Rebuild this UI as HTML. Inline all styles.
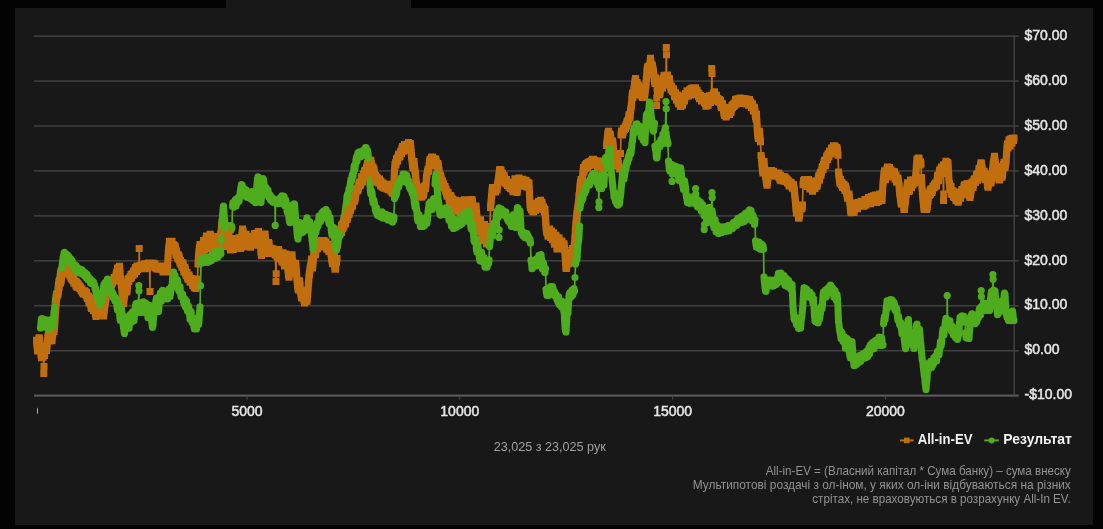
<!DOCTYPE html>
<html lang="uk"><head><meta charset="utf-8"><title>All-in-EV</title>
<style>
html,body{margin:0;padding:0;background:#030303;}
body{width:1103px;height:529px;overflow:hidden;position:relative;font-family:"Liberation Sans","DejaVu Sans",sans-serif;}
#panel{position:absolute;left:15px;top:8px;width:1078px;height:517px;background:#181818;}
#tab{position:absolute;left:226px;top:0;width:184.5px;height:9px;background:#181818;}
svg{position:absolute;left:0;top:0;font-family:"Liberation Sans","DejaVu Sans",sans-serif;will-change:transform;}
.ax{font-size:14px;fill:#e6e6e6;stroke:#e6e6e6;stroke-width:0.5px;paint-order:stroke;}
.lg{font-size:14.1px;fill:#f2f2f2;font-weight:bold;}
.cap{font-size:13px;fill:#a0a0a0;}
.note{font-size:13.1px;fill:#929292;}
</style></head><body>
<div id="panel"></div><div id="tab"></div>
<svg width="1103" height="529" viewBox="0 0 1103 529">
<defs><clipPath id="zc"><rect x="34" y="400" width="3.9" height="20"/></clipPath></defs>
<g id="grid">
<rect x="34" y="35.42" width="984.7" height="1.4" fill="#444"/>
<rect x="34" y="80.36" width="984.7" height="1.4" fill="#444"/>
<rect x="34" y="125.30" width="984.7" height="1.4" fill="#444"/>
<rect x="34" y="170.24" width="984.7" height="1.4" fill="#444"/>
<rect x="34" y="215.18" width="984.7" height="1.4" fill="#444"/>
<rect x="34" y="260.12" width="984.7" height="1.4" fill="#444"/>
<rect x="34" y="305.06" width="984.7" height="1.4" fill="#444"/>
<rect x="34" y="350.00" width="984.7" height="1.4" fill="#444"/>
<rect x="34" y="394.6" width="984.7" height="2" fill="#5c5c5c"/>
<rect x="1013.5" y="35.4" width="1.3" height="360" fill="#464646"/>
</g>
<g id="xaxis">
<rect x="246.50" y="396.4" width="1" height="3.2" fill="#4c4c4c"/>
<text class="ax" x="247.0" y="416" text-anchor="middle">5000</text>
<rect x="459.30" y="396.4" width="1" height="3.2" fill="#4c4c4c"/>
<text class="ax" x="459.8" y="416" text-anchor="middle">10000</text>
<rect x="672.10" y="396.4" width="1" height="3.2" fill="#4c4c4c"/>
<text class="ax" x="672.6" y="416" text-anchor="middle">15000</text>
<rect x="884.90" y="396.4" width="1" height="3.2" fill="#4c4c4c"/>
<text class="ax" x="885.4" y="416" text-anchor="middle">20000</text>
<text class="ax" x="37" y="416" clip-path="url(#zc)">0</text>
</g>
<g id="yaxis">
<text class="ax" x="1024.5" y="40.2">$70.00</text>
<text class="ax" x="1024.5" y="85.1">$60.00</text>
<text class="ax" x="1024.5" y="129.9">$50.00</text>
<text class="ax" x="1024.5" y="174.8">$40.00</text>
<text class="ax" x="1024.5" y="219.7">$30.00</text>
<text class="ax" x="1024.5" y="264.6">$20.00</text>
<text class="ax" x="1024.5" y="309.4">$10.00</text>
<text class="ax" x="1024.5" y="354.3">$0.00</text>
<text class="ax" x="1024.5" y="399.2">-$10.00</text>
</g>
<g id="series">
<path d="M55.0 305.1L55.5 299.2L56.0 296.0L56.5 292.8L57.0 297.9L57.5 294.3L58.0 288.7L58.5 283.5L59.0 279.7L59.5 280.0L60.0 277.2L60.5 271.6L61.0 269.5L61.5 272.1L62.0 267.9M172.5 279.2L173.0 273.0L173.5 272.1L174.0 276.4L174.5 278.2L175.0 275.4L175.5 280.8L176.0 283.6L176.5 284.6L177.0 279.6L177.5 280.3L178.0 284.0L178.5 289.6L179.0 290.9L179.5 287.1L180.0 286.5L180.5 293.0L181.0 296.4L181.5 296.5L182.0 293.9L182.5 294.0L183.0 297.7L183.5 301.2L184.0 303.7L184.5 298.6L185.0 300.3L185.5 307.1L186.0 305.9L186.5 301.0L187.0 307.5L187.5 311.1L188.0 308.6L188.5 306.0M225.5 229.5L226.0 225.9L226.5 225.9L227.0 229.8L227.5 229.1L228.0 225.5L228.5 227.0L229.0 230.5L229.5 230.7L230.0 226.3L230.5 225.7L231.0 230.2L231.5 226.1L232.0 227.8L232.5 206.3M340.5 232.2L341.0 229.3L341.5 223.9L342.0 223.3L342.5 225.9L343.0 224.4L343.5 220.3L344.0 216.7L344.5 217.1L345.0 213.2L345.5 208.8L346.0 205.3L346.5 202.5M368.5 160.5L369.0 172.5L369.5 178.9L370.0 185.6L370.5 192.3L371.0 194.2L371.5 191.2L372.0 192.7L372.5 198.9L373.0 202.7L373.5 199.7L374.0 200.6L374.5 204.0L375.0 206.6L375.5 210.3" fill="none" stroke="#4fad1d" stroke-width="1.7" stroke-linecap="round"/>
<path d="M55.0 305.1h0M55.2 302.1h0M55.5 299.2h0M55.8 297.6h0M56.0 296.0h0M56.2 294.4h0M56.5 292.8h0M56.8 295.3h0M57.0 297.9h0M57.2 296.1h0M57.5 294.3h0M57.8 291.5h0M58.0 288.7h0M58.2 286.1h0M58.5 283.5h0M58.8 281.6h0M59.0 279.7h0M59.5 280.0h0M60.0 277.2h0M60.2 274.4h0M60.5 271.6h0M61.0 269.5h0M61.5 272.1h0M61.8 270.0h0M172.5 279.2h0M172.7 277.2h0M172.8 275.1h0M173.0 273.0h0M173.5 272.1h0M173.8 274.3h0M174.0 276.4h0M174.5 278.2h0M175.0 275.4h0M175.2 278.1h0M175.5 280.8h0M176.0 283.6h0M176.5 284.6h0M176.8 282.1h0M177.0 279.6h0M177.5 280.3h0M177.8 282.2h0M178.0 284.0h0M178.2 286.8h0M178.5 289.6h0M179.0 290.9h0M179.2 289.0h0M179.5 287.1h0M180.0 286.5h0M180.2 288.7h0M180.3 290.9h0M180.5 293.0h0M180.8 294.7h0M181.0 296.4h0M181.5 296.5h0M182.0 293.9h0M182.5 294.0h0M182.8 295.9h0M183.0 297.7h0M183.2 299.4h0M183.5 301.2h0M184.0 303.7h0M184.2 301.1h0M184.5 298.6h0M185.0 300.3h0M185.2 302.6h0M185.3 304.8h0M185.5 307.1h0M186.0 305.9h0M186.2 303.5h0M186.5 301.0h0M186.7 303.2h0M186.8 305.3h0M187.0 307.5h0M187.2 309.3h0M187.5 311.1h0M188.0 308.6h0M225.5 229.5h0M225.8 227.7h0M226.0 225.9h0M226.5 225.9h0M226.8 227.8h0M227.0 229.8h0M227.5 229.1h0M227.8 227.3h0M228.0 225.5h0M228.5 227.0h0M228.8 228.8h0M229.0 230.5h0M229.5 230.7h0M229.8 228.5h0M230.0 226.3h0M230.5 225.7h0M230.8 227.9h0M231.0 230.2h0M231.2 228.2h0M231.5 226.1h0M232.0 227.8h0M340.5 232.2h0M341.0 229.3h0M341.2 226.6h0M341.5 223.9h0M342.0 223.3h0M342.5 225.9h0M343.0 224.4h0M343.2 222.3h0M343.5 220.3h0M343.8 218.5h0M344.0 216.7h0M344.5 217.1h0M344.8 215.1h0M345.0 213.2h0M345.2 211.0h0M345.5 208.8h0M345.8 207.1h0M346.0 205.3h0M368.5 160.5h0M368.6 162.9h0M368.7 165.3h0M368.8 167.7h0M368.9 170.1h0M369.0 172.5h0M369.2 174.7h0M369.3 176.8h0M369.5 178.9h0M369.7 181.1h0M369.8 183.3h0M370.0 185.6h0M370.2 187.8h0M370.3 190.1h0M370.5 192.3h0M371.0 194.2h0M371.2 192.7h0M371.5 191.2h0M372.0 192.7h0M372.2 194.7h0M372.3 196.8h0M372.5 198.9h0M372.8 200.8h0M373.0 202.7h0M373.5 199.7h0M374.0 200.6h0M374.2 202.3h0M374.5 204.0h0M375.0 206.6h0M375.2 208.4h0" fill="none" stroke="#4fad1d" stroke-width="7.2" stroke-linecap="round"/>
<path d="M36.5 340.3L37.0 345.5L37.5 350.8L38.0 351.1L38.5 344.8L39.0 337.8L39.5 338.8L40.0 346.5L40.5 349.6L41.0 355.0L41.5 357.8L42.0 355.1L42.5 353.5L43.0 357.3L43.5 355.5L43.8 373.5L44.0 366.6L44.0 350.9L44.5 355.5L45.0 348.8L45.5 346.8L46.0 349.9L46.5 350.4L47.0 346.0L47.5 340.6L48.0 336.4L48.5 332.3L49.0 332.1L49.5 338.6L50.0 340.9L50.5 334.6L51.0 333.6L51.5 340.4L52.0 340.8L52.5 335.1L53.0 331.7L53.5 327.2L54.0 331.4L54.5 326.7L55.0 320.0L55.5 310.8L56.0 304.3L56.5 299.0L57.0 295.0L57.5 293.9L58.0 294.2L58.5 290.3L59.0 287.5L59.5 282.3L60.0 279.9L60.5 283.1L61.0 281.3L61.5 277.3L62.0 270.5L62.5 266.3L63.0 268.4L63.5 265.9L64.0 269.3L64.5 266.9L65.0 270.4L65.5 269.9L66.0 267.3L66.5 268.4L67.0 271.0L67.5 272.6L68.0 270.8L68.5 274.1L69.0 271.2L69.5 273.9L70.0 275.8L70.5 274.1L71.0 278.2L71.5 275.6L72.0 279.4L72.5 280.3L73.0 277.7L73.5 279.5L74.0 283.3L74.5 282.9L75.0 280.9L75.5 283.9L76.0 286.0L76.5 282.0L77.0 287.3L77.5 283.3L78.0 284.0L78.5 287.1L79.0 287.7L79.5 286.1L80.0 288.6L80.5 287.0L81.0 290.1L81.5 291.1L82.0 289.0L82.5 292.7L83.0 290.9L83.5 294.1L84.0 292.1L84.5 290.7L85.0 294.3L85.5 291.8L86.0 295.0L86.5 292.3L87.0 297.4L87.5 298.6L88.0 295.9L88.5 296.2L89.0 302.9L89.5 302.9L90.0 297.9L90.5 301.7L91.0 307.2L91.5 308.5L92.0 301.8L92.5 301.4L93.0 306.1L93.5 310.6L94.0 307.2L94.5 304.5L95.0 307.8L95.5 313.9L96.0 316.4L96.5 311.1L97.0 307.6L97.5 311.3L98.0 315.0L98.5 315.6L99.0 313.1L99.5 310.3L100.0 308.4L100.5 311.2L101.0 314.8L101.5 311.9L102.0 308.0L102.5 307.5L103.0 312.7L103.5 315.9L104.0 311.9L104.5 308.8L105.0 304.6L105.5 301.8L106.0 298.5L106.5 294.3L107.0 291.5L107.5 292.9L108.0 289.5L108.5 292.1L109.0 287.6L109.5 289.9L110.0 285.2L110.5 288.0L111.0 284.5L111.5 285.1L112.0 282.1L112.5 283.0L113.0 280.8L113.5 281.1L114.0 277.6L114.5 280.8L115.0 281.0L115.5 278.1L116.0 275.1L116.5 272.6L117.0 273.8L117.5 268.2L118.0 267.8L118.5 270.7L119.0 268.1L119.5 266.3L120.0 272.2L120.5 278.9L121.0 281.7L121.5 285.6L122.0 290.7L122.5 296.9L123.0 300.5L123.5 303.5L124.0 299.3L124.5 295.1L125.0 290.8L125.5 286.7L126.0 287.5L126.5 291.9L127.0 291.0L127.5 285.4L128.0 279.5L128.5 278.7L129.0 281.2L129.5 278.2L130.0 276.9L130.5 278.6L131.0 274.5L131.5 277.4L132.0 273.9L132.5 273.7L133.0 275.3L133.5 270.9L134.0 271.1L134.5 274.0L135.0 269.8L135.5 267.6L136.0 271.6L136.5 271.2L137.0 266.0L137.5 269.5L138.0 266.8L138.5 268.1L139.0 266.4L139.2 248.5L139.5 268.0L140.0 265.8L140.5 266.9L141.0 265.0L141.5 268.4L142.0 267.8L142.5 265.0L143.0 268.5L143.5 265.6L144.0 268.7L144.5 264.6L145.0 264.0L145.5 266.6L146.0 268.4L146.5 263.7L147.0 263.6L147.5 267.7L148.0 264.0L148.5 263.0L149.0 266.3L149.5 263.4L150.0 291.5L150.0 263.3L150.5 266.1L151.0 263.1L151.5 265.6L152.0 263.3L152.5 266.3L153.0 266.6L153.5 263.3L154.0 267.0L154.5 263.7L155.0 264.6L155.5 267.7L156.0 268.3L156.5 266.2L157.0 268.9L157.5 266.3L158.0 269.1L158.5 269.2L159.0 266.0L159.5 268.0L160.0 266.3L160.5 268.6L161.0 266.0L161.5 269.4L162.0 266.2L162.5 269.9L163.0 272.0L163.5 266.0L164.0 266.0L164.5 269.4L165.0 271.1L165.5 265.9L166.0 267.6L166.5 270.9L167.0 272.0L167.5 266.1L168.0 257.5L168.5 250.7L169.0 246.5L169.5 241.5L170.0 241.2L170.5 248.1L171.0 246.8L171.5 241.5L172.0 241.3L172.5 247.3L173.0 248.5L173.5 244.8L174.0 247.4L174.5 250.3L175.0 245.8L175.5 249.0L176.0 255.2L176.5 250.9L177.0 254.5L177.5 257.3L178.0 258.9L178.5 254.9L179.0 256.2L179.5 259.3L180.0 263.0L180.5 260.4L181.0 264.6L181.5 262.5L182.0 267.3L182.5 264.3L183.0 263.0L183.5 267.7L184.0 272.2L184.5 267.8L185.0 267.2L185.5 271.8L186.0 275.1L186.5 275.8L187.0 272.6L187.5 277.5L188.0 279.3L188.5 276.8L189.0 274.9L189.5 278.3L190.0 281.7L190.5 282.3L191.0 279.0L191.5 278.5L192.0 281.2L192.5 283.8L193.0 285.8L193.5 280.4L194.0 284.7L194.5 287.8L195.0 284.8L195.5 284.3L196.0 288.4L196.5 285.4L197.0 285.1L197.5 279.1L198.0 264.0L198.5 256.8L199.0 251.5L199.5 247.4L200.0 244.5L200.5 245.8L201.0 248.4L201.5 251.3L202.0 253.7L202.5 250.9L203.0 245.5L203.5 240.5L204.0 246.7L204.5 250.1L205.0 247.4L205.5 243.6L206.0 238.3L206.5 235.9L207.0 238.9L207.5 243.2L208.0 247.2L208.5 248.4L209.0 245.1L209.5 239.3L210.0 234.3L210.5 235.0L211.0 239.4L211.5 242.9L212.0 248.9L212.5 249.8L213.0 244.6L213.5 238.9L214.0 236.6L214.5 239.8L215.0 245.5L215.5 248.1L216.0 250.3L216.5 246.8L217.0 240.5L217.5 238.3L218.0 244.7L218.5 249.2L219.0 249.9L219.5 247.0L220.0 242.7L220.5 235.9L221.0 233.0L221.5 227.9L222.0 222.5L222.5 219.9L223.0 223.1L223.5 228.5L224.0 233.6L224.5 236.2L225.0 239.6L225.5 244.7L226.0 246.4L226.5 241.2L227.0 235.2L227.5 230.2L228.0 231.6L228.5 234.6L229.0 237.3L229.5 244.1L230.0 247.5L230.5 249.9L231.0 243.6L231.5 238.4L232.0 238.9L232.5 245.3L233.0 249.4L233.5 249.0L234.0 243.9L234.5 240.2L235.0 245.1L235.5 246.9L236.0 244.0L236.5 241.8L237.0 247.6L237.5 247.4L238.0 242.2L238.5 238.7L239.0 237.7L239.5 241.7L240.0 245.2L240.5 248.4L241.0 247.5L241.5 241.1L242.0 234.1L242.5 228.9L243.0 230.8L243.5 237.4L244.0 244.2L244.5 245.6L245.0 241.2L245.5 234.2L246.0 234.3L246.5 237.2L247.0 242.9L247.5 246.8L248.0 246.5L248.5 243.8L249.0 239.3L249.5 240.6L250.0 246.5L250.5 247.3L251.0 243.5L251.5 239.1L252.0 236.3L252.5 243.2L253.0 245.3L253.5 241.2L254.0 237.9L254.5 234.0L255.0 233.6L255.5 239.9L256.0 243.7L256.5 245.2L257.0 239.0L257.5 235.2L258.0 232.6L258.5 231.5L259.0 236.4L259.5 239.7L260.0 242.4L260.5 245.8L261.0 252.7L261.5 255.5L262.0 252.8L262.5 249.5L263.0 246.9L263.5 242.5L264.0 237.5L264.5 234.6L265.0 234.0L265.5 240.1L266.0 244.5L266.5 248.2L267.0 253.5L267.5 252.3L268.0 246.1L268.5 242.5L269.0 243.5L269.5 249.6L270.0 251.8L270.5 248.5L271.0 248.2L271.5 251.4L272.0 248.8L272.5 252.1L273.0 248.8L273.5 252.1L274.0 253.5L274.5 250.0L275.0 254.1L275.5 255.0L276.0 281.5L276.2 273.7L276.0 250.2L276.5 250.1L277.0 256.3L277.5 257.3L278.0 254.6L278.5 249.5L279.0 251.3L279.5 258.0L280.0 258.6L280.5 254.5L281.0 252.7L281.5 259.5L282.0 261.9L282.5 257.7L283.0 252.8L283.5 256.5L284.0 263.3L284.5 266.1L285.0 263.0L285.5 259.4L286.0 253.9L286.5 257.5L287.0 260.9L287.5 263.7L288.0 270.0L288.5 275.3L289.0 277.2L289.5 273.4L290.0 266.6L290.5 263.8L291.0 260.0L291.5 255.1L292.0 254.7L292.5 261.5L293.0 264.6L293.5 271.2L294.0 269.6L294.5 266.5L295.0 263.7L295.5 263.3L296.0 266.7L296.5 272.9L297.0 279.7L297.5 284.6L298.0 288.8L298.5 290.1L299.0 283.1L299.5 280.8L300.0 284.9L300.5 291.5L301.0 294.3L301.5 297.7L302.0 297.9L302.5 291.0L303.0 290.8L303.5 296.5L304.0 300.4L304.5 303.0L305.0 301.7L305.5 295.7L306.0 293.9L306.5 298.8L307.0 301.2L307.5 296.1L308.0 289.4L308.5 283.0L309.0 276.8L309.5 273.5L310.0 269.8L310.5 266.4L311.0 263.7L311.5 259.1L312.0 261.7L312.5 268.1L313.0 263.6L313.5 258.0L314.0 253.1L314.5 250.6L315.0 253.8L315.5 254.7L316.0 249.9L316.5 245.7L317.0 243.6L317.5 248.8L318.0 247.3L318.5 243.5L319.0 242.5L319.5 245.5L320.0 245.0L320.5 242.1L321.0 245.4L321.5 240.5L322.0 241.5L322.5 246.4L323.0 245.8L323.5 242.9L324.0 240.4L324.5 246.7L325.0 246.0L325.5 241.9L326.0 241.7L326.5 248.2L327.0 249.2L327.5 245.4L328.0 244.3L328.5 248.5L329.0 251.6L329.5 246.5L330.0 247.4L330.5 250.5L331.0 253.4L331.5 257.3L332.0 261.1L332.5 263.7L333.0 262.6L333.5 256.4L334.0 259.1L334.5 263.6L335.0 269.2L335.5 269.3L336.0 262.8L336.5 262.1L337.0 258.6L337.5 245.0L338.0 240.9L338.5 236.5L339.0 232.3L339.5 230.3L340.0 234.0L340.5 229.6L341.0 228.8L341.5 232.6L342.0 225.8L342.5 228.4L343.0 228.3L343.5 224.0L344.0 225.9L344.5 220.7L345.0 220.0L345.5 224.1L346.0 217.3L346.5 216.7L347.0 219.6L347.5 218.1L348.0 214.4L348.5 211.4L349.0 214.4L349.5 210.5L350.0 206.9L350.5 210.3L351.0 203.7L351.5 203.3L352.0 206.7L352.5 205.6L353.0 201.7L353.5 198.4L354.0 198.2L354.5 201.2L355.0 199.2L355.5 195.7L356.0 192.4L356.5 189.7L357.0 188.1L357.5 190.8L358.0 190.0L358.5 186.7L359.0 183.1L359.5 182.3L360.0 185.8L360.5 185.1L361.0 181.5L361.5 176.7L362.0 182.2L362.5 181.5L363.0 176.6L363.5 174.0L364.0 177.6L364.5 171.6L365.0 170.3L365.5 173.7L366.0 170.2L366.5 167.3L367.0 167.9L367.5 163.3L368.0 162.9L368.5 164.9L369.0 161.8L369.5 164.8L370.0 160.1L370.5 163.6L371.0 160.7L371.5 163.7L372.0 167.5L372.5 168.1L373.0 167.1L373.5 171.6L374.0 169.1L374.5 174.6L375.0 177.7L375.5 175.6L376.0 180.7L376.5 182.1L377.0 177.1L377.5 178.6L378.0 182.0L378.5 182.9L379.0 180.0L379.5 179.1L380.0 182.5L380.5 185.7L381.0 181.3L381.5 186.1L382.0 187.0L382.5 183.2L383.0 183.1L383.5 186.1L384.0 188.0L384.5 184.5L385.0 188.2L385.5 185.1L386.0 188.3L386.5 186.5L387.0 188.9L387.5 184.3L388.0 184.5L388.5 189.8L389.0 184.9L389.5 189.7L390.0 189.8L390.5 186.9L391.0 191.3L391.5 188.2L392.0 192.5L392.5 193.0L393.0 190.0L393.5 193.5L394.0 183.2L394.5 170.7L395.0 164.8L395.5 162.8L396.0 165.0L396.5 159.2L397.0 158.2L397.5 160.9L398.0 157.6L398.5 154.5L399.0 154.1L399.5 157.0L400.0 156.6L400.5 152.1L401.0 151.3L401.5 153.6L402.0 147.9L402.5 146.4L403.0 151.3L403.5 151.1L404.0 148.2L404.5 144.6L405.0 150.1L405.5 150.3L406.0 145.8L406.5 144.6L407.0 148.2L407.5 148.8L408.0 143.9L408.5 142.4L409.0 145.0L409.5 146.7L410.0 143.4L410.5 144.1L411.0 149.6L411.5 155.4L412.0 160.2L412.5 164.7L413.0 167.8L413.5 161.7L414.0 161.6L414.5 166.9L415.0 171.3L415.5 174.4L416.0 181.4L416.5 184.7L417.0 187.7L417.5 191.0L418.0 187.4L418.5 187.1L419.0 189.7L419.5 194.3L420.0 197.3L420.5 194.6L421.0 191.4L421.5 196.0L422.0 197.1L422.5 194.0L423.0 190.3L423.5 194.9L424.0 192.0L424.5 186.2L425.0 185.8L425.5 188.5L426.0 183.7L426.5 176.9L427.0 174.3L427.5 171.5L428.0 169.3L428.5 171.3L429.0 166.7L429.5 161.5L430.0 159.6L430.5 163.8L431.0 159.1L431.5 157.2L432.0 159.1L432.5 157.1L433.0 159.8L433.5 161.3L434.0 158.5L434.5 161.8L435.0 165.5L435.5 159.0L436.0 159.9L436.5 164.3L437.0 167.0L437.5 166.4L438.0 163.6L438.5 167.2L439.0 170.6L439.5 175.8L440.0 178.2L440.5 175.2L441.0 177.0L441.5 181.4L442.0 184.0L442.5 181.1L443.0 186.7L443.5 183.7L444.0 186.8L444.5 187.9L445.0 186.4L445.5 191.1L446.0 189.1L446.5 193.5L447.0 196.3L447.5 192.3L448.0 192.4L448.5 196.1L449.0 198.7L449.5 202.1L450.0 198.4L450.5 195.5L451.0 196.3L451.5 199.8L452.0 205.5L452.5 198.9L453.0 199.5L453.5 204.5L454.0 208.8L454.5 210.0L455.0 203.8L455.5 200.3L456.0 203.9L456.5 207.3L457.0 210.5L457.5 211.3L458.0 204.7L458.5 200.7L459.0 207.3L459.5 211.0L460.0 212.5L460.5 209.1L461.0 202.5L461.5 201.2L462.0 205.5L462.5 209.6L463.0 211.5L463.5 207.9L464.0 204.8L464.5 199.7L465.0 199.7L465.5 203.7L466.0 206.7L466.5 210.7L467.0 212.3L467.5 208.2L468.0 202.2L468.5 200.9L469.0 205.6L469.5 208.7L470.0 211.9L470.5 212.5L471.0 206.2L471.5 202.0L472.0 199.4L472.5 201.9L473.0 206.9L473.5 211.6L474.0 216.2L474.5 218.0L475.0 211.1L475.5 208.1L476.0 206.1L476.5 212.2L477.0 217.2L477.5 223.4L478.0 229.7L478.5 231.4L479.0 228.7L479.5 224.5L480.0 220.0L480.5 219.7L481.0 226.7L481.5 232.2L482.0 238.7L482.5 240.6L483.0 237.8L483.5 231.5L484.0 227.8L484.5 224.6L485.0 228.0L485.5 233.7L486.0 240.4L486.5 243.9L487.0 243.4L487.5 238.1L488.0 232.2L488.5 226.5L489.0 227.9L489.5 231.4L490.0 226.7L490.5 207.4L491.0 202.5L491.5 197.0L492.0 190.9L492.5 187.4L493.0 191.0L493.5 192.1L494.0 187.6L494.5 187.4L495.0 191.4L495.5 192.1L496.0 188.3L496.5 188.9L497.0 189.9L497.5 185.6L498.0 182.1L498.5 179.2L499.0 175.1L499.5 169.9L500.0 169.4L500.5 172.7L501.0 170.1L501.5 175.0L502.0 175.5L502.5 173.6L503.0 177.4L503.5 179.8L504.0 175.2L504.5 178.8L505.0 181.9L505.5 183.2L506.0 180.7L506.5 179.5L507.0 184.5L507.5 185.6L508.0 182.5L508.5 185.0L509.0 187.3L509.5 184.6L510.0 183.4L510.5 188.5L511.0 188.8L511.5 184.0L512.0 183.6L512.5 188.5L513.0 191.8L513.5 189.1L514.0 185.9L514.5 183.0L515.0 178.7L515.5 182.3L516.0 185.1L516.5 191.0L517.0 192.4L517.5 189.2L518.0 185.4L518.5 181.8L519.0 178.1L519.5 182.5L520.0 186.3L520.5 179.6L521.0 180.5L521.5 183.3L522.0 179.5L522.5 179.3L523.0 183.7L523.5 180.0L524.0 183.7L524.5 181.5L525.0 185.6L525.5 185.0L526.0 180.3L526.5 187.0L527.0 187.1L527.5 182.3L528.0 182.8L528.5 187.3L529.0 183.1L529.5 194.2L530.0 204.7L530.5 207.8L531.0 206.5L531.5 209.7L532.0 209.9L532.5 207.7L533.0 212.0L533.5 211.6L534.0 206.5L534.5 206.0L535.0 209.9L535.5 210.2L536.0 206.0L536.5 203.6L537.0 207.3L537.5 208.7L538.0 202.8L538.5 201.6L539.0 207.3L539.5 206.5L540.0 201.7L540.5 200.2L541.0 204.8L541.5 207.1L542.0 202.3L542.5 207.3L543.0 209.6L543.5 206.9L544.0 208.4L544.5 212.0L545.0 209.4L545.5 217.9L546.0 227.0L546.5 231.2L547.0 232.9L547.5 230.3L548.0 236.2L548.5 235.0L549.0 230.3L549.5 229.0L550.0 235.5L550.5 237.5L551.0 231.3L551.5 230.9L552.0 237.8L552.5 239.8L553.0 233.8L553.5 232.8L554.0 239.2L554.5 244.3L555.0 243.3L555.5 237.9L556.0 235.3L556.5 242.3L557.0 249.1L557.5 245.7L558.0 242.3L558.5 239.1L559.0 237.7L559.5 244.6L560.0 249.1L560.5 248.8L561.0 244.4L561.5 240.9L562.0 241.4L562.5 246.5L563.0 248.6L563.5 245.2L564.0 243.8L564.5 248.5L565.0 252.5L565.5 261.8L566.0 268.3L566.5 268.5L567.0 264.4L567.5 261.6L568.0 261.2L568.5 263.8L569.0 263.2L569.5 256.7L570.0 257.5L570.5 260.4L571.0 256.0L571.5 253.4L572.0 250.5L572.5 248.6L573.0 253.7L573.5 253.7L574.0 250.2L574.5 243.7L575.0 236.9L575.5 228.8L576.0 222.7L576.5 218.4L577.0 213.2L577.5 210.1L578.0 206.6L578.5 202.2L579.0 195.5L579.5 192.9L580.0 186.0L580.5 182.5L581.0 179.6L581.5 186.4L582.0 181.5L582.5 178.5L583.0 172.0L583.5 167.4L584.0 172.1L584.5 169.3L585.0 165.5L585.5 164.8L586.0 168.0L586.5 163.5L587.0 167.7L587.5 168.2L588.0 162.4L588.5 162.3L589.0 165.8L589.5 162.6L590.0 161.6L590.5 165.0L591.0 162.9L591.5 160.8L592.0 162.7L592.5 159.2L593.0 162.4L593.5 159.2L594.0 163.6L594.5 160.4L595.0 164.4L595.5 161.2L596.0 161.0L596.5 164.6L597.0 161.8L597.5 166.7L598.0 166.8L598.5 161.0L599.0 162.6L599.5 186.5L599.5 165.5L600.0 167.4L600.5 164.4L601.0 165.0L601.5 167.6L602.0 164.4L602.5 164.6L603.0 168.4L603.5 167.6L604.0 163.8L604.5 162.9L605.0 168.1L605.5 168.6L606.0 159.0L606.5 145.4L607.0 142.2L607.5 137.2L608.0 132.9L608.5 131.3L609.0 135.5L609.5 139.3L610.0 133.9L610.5 135.2L611.0 140.5L611.5 145.8L612.0 145.7L612.5 141.0L613.0 143.0L613.5 148.8L614.0 155.7L614.5 158.3L615.0 161.2L615.5 163.8L616.0 161.0L616.5 157.8L617.0 164.1L617.5 165.9L618.0 161.6L618.5 163.3L619.0 166.3L619.5 169.1L620.0 168.7L620.5 153.5L621.0 134.9L621.5 130.9L622.0 131.3L622.5 134.9L623.0 132.7L623.5 128.7L624.0 128.4L624.5 129.7L625.0 126.9L625.5 128.4L626.0 124.8L626.5 125.9L627.0 121.6L627.5 120.8L628.0 123.1L628.5 119.5L629.0 114.8L629.5 118.0L630.0 118.1L630.5 111.2L631.0 108.0L631.5 104.0L632.0 97.0L632.5 93.2L633.0 97.5L633.5 94.7L634.0 88.0L634.5 85.3L635.0 80.8L635.5 78.4L636.0 82.8L636.5 85.2L637.0 82.6L637.5 86.0L638.0 88.4L638.5 85.6L639.0 92.2L639.5 93.6L640.0 88.8L640.5 94.4L641.0 96.0L641.5 92.0L642.0 92.2L642.5 97.4L643.0 92.9L643.5 90.2L644.0 95.0L644.5 96.7L645.0 92.8L645.5 87.7L646.0 84.6L646.5 77.4L647.0 70.5L647.5 67.5L648.0 66.2L648.5 70.0L649.0 68.7L649.5 65.8L650.0 63.2L650.5 58.3L651.0 63.5L651.5 68.5L652.0 64.7L652.5 66.3L653.0 69.0L653.5 72.6L654.0 76.3L654.5 81.8L655.0 83.4L655.5 79.3L656.0 77.9L656.5 81.0L656.6 105.5L656.8 98.0L657.0 87.8L657.5 91.3L658.0 87.7L658.5 87.0L659.0 90.6L659.5 94.7L660.0 93.2L660.5 88.7L661.0 84.1L661.5 82.8L662.0 85.4L662.5 88.1L663.0 82.2L663.5 78.1L664.0 75.5L664.5 75.3L665.0 79.5L665.5 82.4L666.0 85.0L666.2 47.5L666.5 54.8L666.5 80.5L667.0 77.6L667.5 75.1L668.0 79.5L668.5 82.0L669.0 78.4L669.5 79.1L670.0 84.5L670.5 87.1L671.0 89.7L671.5 86.3L672.0 90.0L672.5 91.5L673.0 88.8L673.5 89.0L674.0 92.3L674.5 95.9L675.0 97.1L675.5 93.0L676.0 97.1L676.5 99.9L677.0 95.1L677.5 94.9L678.0 101.8L678.5 103.8L679.0 98.2L679.5 96.4L680.0 102.9L680.5 106.4L681.0 101.4L681.5 99.3L682.0 105.7L682.5 104.8L683.0 101.4L683.5 96.4L684.0 96.7L684.5 101.0L685.0 95.4L685.5 93.6L686.0 96.7L686.5 96.1L687.0 90.9L687.5 90.9L688.0 93.8L688.5 95.9L689.0 91.4L689.5 89.7L690.0 94.3L690.5 95.0L691.0 88.8L691.5 88.3L692.0 94.6L692.5 93.8L693.0 89.8L693.5 87.7L694.0 92.6L694.5 87.9L695.0 92.1L695.5 87.7L696.0 91.1L696.5 92.8L697.0 90.4L697.5 94.3L698.0 92.8L698.5 96.7L699.0 93.8L699.5 98.4L700.0 98.8L700.5 95.5L701.0 98.2L701.5 101.1L702.0 99.1L702.5 96.4L703.0 100.6L703.5 101.1L704.0 99.1L704.5 102.5L705.0 101.1L705.5 103.6L706.0 106.2L706.5 102.4L707.0 100.4L707.5 104.5L708.0 105.5L708.5 101.9L709.0 99.0L709.5 95.7L710.0 101.2L710.5 102.6L711.0 97.2L711.5 95.3L711.8 68.5L712.0 73.6L712.0 99.0L712.5 99.1L713.0 95.9L713.5 93.3L714.0 95.7L714.5 91.7L715.0 98.1L715.5 97.9L716.0 95.3L716.5 95.3L717.0 100.1L717.5 101.1L718.0 98.5L718.5 101.9L719.0 101.9L719.5 99.4L720.0 102.6L720.5 100.4L721.0 106.5L721.5 107.6L722.0 103.4L722.5 104.1L723.0 106.8L723.5 109.6L724.0 113.5L724.5 115.5L725.0 112.2L725.5 112.4L726.0 116.9L726.5 115.9L727.0 111.6L727.5 111.7L728.0 114.6L728.5 109.9L729.0 109.8L729.5 114.5L730.0 107.6L730.5 108.4L731.0 112.2L731.5 108.7L732.0 105.5L732.5 107.7L733.0 104.6L733.5 106.5L734.0 103.2L734.5 105.8L735.0 104.8L735.5 99.5L736.0 99.2L736.5 104.0L737.0 103.4L737.5 98.7L738.0 101.6L738.5 103.4L739.0 98.8L739.5 101.9L740.0 97.9L740.5 101.6L741.0 99.0L741.5 102.1L742.0 99.2L742.5 99.2L743.0 102.0L743.5 98.6L744.0 103.4L744.5 103.0L745.0 99.8L745.5 98.7L746.0 101.5L746.5 103.9L747.0 99.2L747.5 99.6L748.0 103.8L748.5 105.3L749.0 101.3L749.5 99.6L750.0 104.9L750.5 102.1L751.0 102.9L751.5 107.5L752.0 104.4L752.5 104.1L753.0 107.8L753.5 110.9L754.0 107.3L754.5 107.9L755.0 111.6L755.5 116.5L756.0 118.9L756.5 114.1L757.0 124.7L757.5 132.3L758.0 137.1L758.5 138.4L759.0 134.2L759.5 131.3L760.0 138.2L760.5 141.7L761.0 155.4L761.5 158.3L762.0 165.1L762.5 169.9L763.0 173.1L763.5 166.7L764.0 161.4L764.5 168.0L765.0 171.3L765.5 175.1L766.0 178.3L766.5 182.5L767.0 185.2L767.5 181.9L768.0 177.8L768.5 173.3L769.0 171.7L769.5 174.2L770.0 172.1L770.5 175.3L771.0 172.0L771.5 170.4L772.0 174.1L772.5 175.8L773.0 171.3L773.5 171.4L774.0 175.2L774.5 175.6L775.0 173.1L775.5 175.9L776.0 173.1L776.5 176.2L777.0 173.1L777.5 176.3L778.0 173.0L778.5 173.2L779.0 177.4L779.5 174.8L780.0 179.7L780.5 175.4L781.0 180.8L781.5 177.1L782.0 176.5L782.5 180.3L783.0 180.0L783.5 177.0L784.0 181.2L784.5 180.7L785.0 176.8L785.5 180.2L786.0 181.5L786.5 178.7L787.0 179.6L787.5 183.1L788.0 180.5L788.5 183.6L789.0 186.0L789.5 182.2L790.0 182.1L790.5 185.7L791.0 182.5L791.5 183.7L792.0 187.0L792.5 188.2L793.0 184.5L793.5 184.8L794.0 188.5L794.5 191.7L795.0 197.2L795.5 202.6L796.0 209.1L796.5 212.9L797.0 207.0L797.5 206.1L798.0 211.9L798.5 217.8L799.0 218.2L799.5 215.3L800.0 210.1L800.5 205.6L801.0 205.4L801.5 208.7L802.0 208.6L802.5 205.1L803.0 184.7L803.5 180.7L804.0 181.6L804.5 179.5L805.0 182.5L805.5 180.1L806.0 183.2L806.5 180.3L807.0 186.1L807.5 186.4L808.0 183.8L808.5 179.4L809.0 180.4L809.5 185.8L810.0 189.0L810.5 184.1L811.0 181.9L811.5 184.8L812.0 189.0L812.5 191.3L813.0 187.9L813.5 181.4L814.0 183.7L814.5 188.6L815.0 188.4L815.5 185.7L816.0 182.8L816.5 181.1L817.0 186.2L817.5 184.2L818.0 180.5L818.5 176.8L819.0 175.6L819.5 179.9L820.0 173.7L820.5 172.2L821.0 175.2L821.5 172.3L822.0 167.8L822.5 166.5L823.0 169.6L823.5 164.6L824.0 162.0L824.5 160.2L825.0 163.8L825.5 165.7L826.0 161.9L826.5 157.1L827.0 155.7L827.5 159.4L828.0 153.9L828.5 154.6L829.0 156.8L829.5 151.2L830.0 154.1L830.5 154.0L831.0 151.4L831.5 147.9L832.0 152.1L832.5 151.3L833.0 148.8L833.5 145.7L834.0 148.8L834.5 145.8L835.0 146.5L835.5 150.8L836.0 151.9L836.5 147.5L837.0 148.1L837.5 151.8L838.0 155.3L838.5 171.9L839.0 176.0L839.5 180.0L840.0 183.3L840.5 179.4L841.0 183.7L841.5 185.1L842.0 182.5L842.5 187.2L843.0 187.5L843.5 184.2L844.0 184.8L844.5 188.5L845.0 190.6L845.5 185.9L846.0 187.9L846.5 192.2L847.0 194.7L847.5 198.3L848.0 197.8L848.5 194.3L849.0 194.1L849.5 198.8L850.0 203.6L850.5 209.6L851.0 212.7L851.5 209.9L852.0 206.4L852.5 203.1L853.0 205.2L853.5 209.1L854.0 212.5L854.5 207.3L855.0 203.7L855.5 204.8L856.0 207.9L856.5 208.6L857.0 203.6L857.5 208.8L858.0 202.5L858.5 202.4L859.0 205.9L859.5 205.4L860.0 202.4L860.5 205.6L861.0 201.2L861.5 202.2L862.0 205.0L862.5 201.8L863.0 201.5L863.5 205.6L864.0 206.2L864.5 202.0L865.0 199.6L865.5 202.1L866.0 205.1L866.5 202.1L867.0 199.8L867.5 203.7L868.0 199.6L868.5 197.5L869.0 202.8L869.5 198.3L870.0 202.8L870.5 203.7L871.0 199.3L871.5 196.6L872.0 202.6L872.5 202.5L873.0 198.8L873.5 195.8L874.0 196.8L874.5 200.4L875.0 199.9L875.5 195.1L876.0 197.2L876.5 202.6L877.0 197.2L877.5 196.5L878.0 200.7L878.5 201.4L879.0 196.0L879.5 193.9L880.0 197.6L880.5 199.1L881.0 194.6L881.5 195.4L882.0 200.4L882.5 191.7L883.0 183.6L883.5 178.7L884.0 173.7L884.5 170.8L885.0 173.7L885.5 179.8L886.0 177.6L886.5 173.3L887.0 169.1L887.5 166.9L888.0 171.1L888.5 171.2L889.0 168.6L889.5 167.4L890.0 172.8L890.5 170.1L891.0 170.0L891.5 176.1L892.0 172.5L892.5 171.3L893.0 174.4L893.5 177.1L894.0 171.6L894.5 172.5L895.0 179.3L895.5 179.3L896.0 175.0L896.5 181.7L897.0 182.2L897.5 179.4L898.0 178.0L898.5 182.0L899.0 184.8L899.5 191.0L900.0 195.1L900.5 198.4L901.0 202.8L901.5 204.3L902.0 199.3L902.5 197.6L903.0 200.1L903.5 202.7L904.0 209.4L904.5 209.2L905.0 203.9L905.5 201.2L906.0 195.5L906.5 191.0L907.0 186.6L907.5 182.8L908.0 185.6L908.5 188.7L909.0 191.4L909.5 190.5L910.0 186.1L910.5 180.1L911.0 180.7L911.5 187.4L912.0 183.9L912.5 180.0L913.0 184.8L913.5 179.8L914.0 182.7L914.5 183.1L915.0 180.1L915.5 178.4L916.0 173.2L916.5 164.9L917.0 158.9L917.5 162.3L918.0 163.1L918.5 157.9L919.0 158.6L919.5 163.0L920.0 165.1L920.5 161.7L921.0 164.0L921.5 177.6L922.0 188.3L922.5 194.1L923.0 199.2L923.5 204.6L924.0 208.8L924.5 209.6L925.0 203.8L925.5 203.0L926.0 205.9L926.5 209.5L927.0 208.6L927.5 204.2L928.0 201.4L928.5 195.5L929.0 193.1L929.5 195.2L930.0 190.3L930.5 194.2L931.0 188.8L931.5 189.1L932.0 192.4L932.5 190.7L933.0 186.3L933.5 186.3L934.0 187.7L934.5 184.2L935.0 186.8L935.5 183.0L936.0 185.9L936.5 185.4L937.0 181.2L937.5 176.1L938.0 175.3L938.5 180.5L939.0 175.7L939.5 170.3L940.0 170.0L940.5 172.8L941.0 168.7L941.5 166.9L942.0 173.6L942.5 172.7L943.0 168.1L943.5 200.5L943.7 193.9L943.5 165.1L944.0 164.7L944.5 167.9L945.0 168.4L945.5 165.0L946.0 161.3L946.5 165.7L947.0 165.1L947.5 162.4L948.0 163.2L948.5 172.7L949.0 181.1L949.5 183.8L950.0 189.5L950.5 186.3L951.0 186.8L951.5 193.8L952.0 194.4L952.5 191.0L953.0 190.7L953.5 196.4L954.0 197.4L954.5 192.4L955.0 193.6L955.5 198.2L956.0 200.5L956.5 196.7L957.0 194.5L957.5 199.4L958.0 202.2L958.5 201.0L959.0 197.4L959.5 191.9L960.0 195.8L960.5 198.2L961.0 194.4L961.5 191.3L962.0 189.6L962.5 194.5L963.0 194.8L963.5 190.2L964.0 186.2L964.5 184.7L965.0 189.1L965.5 194.4L966.0 193.7L966.5 187.0L967.0 183.6L967.5 183.5L968.0 187.0L968.5 190.1L969.0 193.2L969.5 196.1L970.0 197.4L970.5 194.9L971.0 191.1L971.5 186.3L972.0 182.1L972.5 185.9L973.0 187.6L973.5 185.0L974.0 179.8L974.5 178.7L975.0 182.5L975.5 182.1L976.0 179.4L976.5 175.1L977.0 173.9L977.5 180.2L978.0 177.8L978.5 173.6L979.0 168.6L979.5 172.2L980.0 170.0L980.5 166.0L981.0 162.8L981.5 163.8L982.0 167.5L982.5 170.7L983.0 173.5L983.5 177.5L984.0 171.3L984.5 173.6L985.0 178.9L985.5 179.5L986.0 175.6L986.5 177.7L987.0 180.3L987.5 185.3L988.0 187.2L988.5 184.7L989.0 180.4L989.5 174.7L990.0 173.8L990.5 180.7L991.0 183.1L991.5 178.8L992.0 173.9L992.5 170.5L993.0 166.0L993.5 161.7L994.0 158.9L994.5 156.3L995.0 161.0L995.5 165.1L996.0 171.8L996.5 174.4L997.0 170.2L997.5 166.6L998.0 173.5L998.5 176.5L999.0 180.1L999.5 180.0L1000.0 175.4L1000.5 170.8L1001.0 170.0L1001.5 173.8L1002.0 177.3L1002.5 175.3L1003.0 168.8L1003.5 164.6L1004.0 162.2L1004.5 164.7L1005.0 167.6L1005.5 164.4L1006.0 161.8L1006.5 154.7L1007.0 146.8L1007.5 144.1L1008.0 148.1L1008.5 144.7L1009.0 140.1L1009.5 139.7L1010.0 145.9L1010.5 139.6L1011.0 138.7L1011.5 143.3L1012.0 143.0L1012.5 138.6L1013.0 137.9L1013.5 140.4L1014.0 137.9" fill="none" stroke="#c06e0e" stroke-width="1.7" stroke-linecap="round"/>
<path d="M33.0 340.3h7M33.2 342.9h7M33.5 345.5h7M33.8 348.1h7M34.0 350.8h7M34.5 351.1h7M34.7 349.0h7M34.8 346.9h7M35.0 344.8h7M35.2 342.5h7M35.3 340.1h7M35.5 337.8h7M36.0 338.8h7M36.2 341.4h7M36.3 343.9h7M36.5 346.5h7M36.8 348.0h7M37.0 349.6h7M37.2 352.3h7M37.5 355.0h7M38.0 357.8h7M38.5 355.1h7M39.0 353.5h7M39.2 355.4h7M39.5 357.3h7M40.0 355.5h7M40.3 373.5h7M40.5 366.6h7M40.5 350.9h7M40.8 353.2h7M41.0 355.5h7M41.2 353.2h7M41.3 351.0h7M41.5 348.8h7M42.0 346.8h7M42.2 348.3h7M42.5 349.9h7M43.0 350.4h7M43.2 348.2h7M43.5 346.0h7M43.8 343.3h7M44.0 340.6h7M44.2 338.5h7M44.5 336.4h7M44.8 334.4h7M45.0 332.3h7M45.5 332.1h7M45.7 334.2h7M45.8 336.4h7M46.0 338.6h7M46.5 340.9h7M46.7 338.8h7M46.8 336.7h7M47.0 334.6h7M47.5 333.6h7M47.7 335.9h7M47.8 338.2h7M48.0 340.4h7M48.5 340.8h7M48.8 338.0h7M49.0 335.1h7M49.2 333.4h7M49.5 331.7h7M49.8 329.4h7M50.0 327.2h7M50.2 329.3h7M50.5 331.4h7M50.8 329.0h7M51.0 326.7h7M51.2 324.5h7M51.3 322.3h7M51.5 320.0h7M51.6 317.7h7M51.8 315.4h7M51.9 313.1h7M52.0 310.8h7M52.2 308.6h7M52.3 306.4h7M52.5 304.3h7M52.8 301.6h7M53.0 299.0h7M53.2 297.0h7M53.5 295.0h7M54.0 293.9h7M54.5 294.2h7M54.8 292.3h7M55.0 290.3h7M55.5 287.5h7M55.8 284.9h7M56.0 282.3h7M56.5 279.9h7M56.8 281.5h7M57.0 283.1h7M57.5 281.3h7M57.8 279.3h7M58.0 277.3h7M58.2 275.1h7M58.3 272.8h7M58.5 270.5h7M58.8 268.4h7M59.0 266.3h7M59.5 268.4h7M60.0 265.9h7M60.2 267.6h7M60.5 269.3h7M61.0 266.9h7M61.2 268.7h7M61.5 270.4h7M62.0 269.9h7M62.5 267.3h7M63.0 268.4h7M63.5 271.0h7M64.0 272.6h7M64.5 270.8h7M64.8 272.4h7M65.0 274.1h7M65.2 272.6h7M65.5 271.2h7M66.0 273.9h7M66.5 275.8h7M67.0 274.1h7M67.2 276.2h7M67.5 278.2h7M68.0 275.6h7M68.2 277.5h7M68.5 279.4h7M69.0 280.3h7M69.5 277.7h7M70.0 279.5h7M70.2 281.4h7M70.5 283.3h7M71.0 282.9h7M71.5 280.9h7M71.8 282.4h7M72.0 283.9h7M72.5 286.0h7M72.8 284.0h7M73.0 282.0h7M73.2 284.7h7M73.5 287.3h7M73.8 285.3h7M74.0 283.3h7M74.5 284.0h7M74.8 285.5h7M75.0 287.1h7M75.5 287.7h7M76.0 286.1h7M76.5 288.6h7M77.0 287.0h7M77.2 288.5h7M77.5 290.1h7M78.0 291.1h7M78.5 289.0h7M78.8 290.8h7M79.0 292.7h7M79.5 290.9h7M79.8 292.5h7M80.0 294.1h7M80.5 292.1h7M81.0 290.7h7M81.2 292.5h7M81.5 294.3h7M82.0 291.8h7M82.2 293.4h7M82.5 295.0h7M83.0 292.3h7M83.2 294.8h7M83.5 297.4h7M84.0 298.6h7M84.5 295.9h7M85.0 296.2h7M85.2 298.4h7M85.3 300.6h7M85.5 302.9h7M86.0 302.9h7M86.2 300.4h7M86.5 297.9h7M86.8 299.8h7M87.0 301.7h7M87.2 304.5h7M87.5 307.2h7M88.0 308.5h7M88.2 306.3h7M88.3 304.0h7M88.5 301.8h7M89.0 301.4h7M89.2 303.8h7M89.5 306.1h7M89.8 308.3h7M90.0 310.6h7M90.2 308.9h7M90.5 307.2h7M91.0 304.5h7M91.2 306.2h7M91.5 307.8h7M91.7 309.8h7M91.8 311.9h7M92.0 313.9h7M92.5 316.4h7M92.8 313.7h7M93.0 311.1h7M93.2 309.3h7M93.5 307.6h7M93.8 309.5h7M94.0 311.3h7M94.2 313.2h7M94.5 315.0h7M95.0 315.6h7M95.5 313.1h7M96.0 310.3h7M96.5 308.4h7M97.0 311.2h7M97.2 313.0h7M97.5 314.8h7M98.0 311.9h7M98.2 309.9h7M98.5 308.0h7M99.0 307.5h7M99.2 310.1h7M99.5 312.7h7M99.8 314.3h7M100.0 315.9h7M100.2 313.9h7M100.5 311.9h7M100.8 310.4h7M101.0 308.8h7M101.2 306.7h7M101.5 304.6h7M102.0 301.8h7M102.2 300.1h7M102.5 298.5h7M102.8 296.4h7M103.0 294.3h7M103.5 291.5h7M104.0 292.9h7M104.2 291.2h7M104.5 289.5h7M105.0 292.1h7M105.2 289.8h7M105.5 287.6h7M106.0 289.9h7M106.2 287.5h7M106.5 285.2h7M107.0 288.0h7M107.2 286.3h7M107.5 284.5h7M108.0 285.1h7M108.5 282.1h7M109.0 283.0h7M109.5 280.8h7M110.0 281.1h7M110.2 279.4h7M110.5 277.6h7M110.8 279.2h7M111.0 280.8h7M111.5 281.0h7M112.0 278.1h7M112.5 275.1h7M113.0 272.6h7M113.5 273.8h7M113.8 271.0h7M114.0 268.2h7M114.5 267.8h7M115.0 270.7h7M115.5 268.1h7M116.0 266.3h7M116.2 269.3h7M116.5 272.2h7M116.7 274.4h7M116.8 276.7h7M117.0 278.9h7M117.5 281.7h7M117.8 283.7h7M118.0 285.6h7M118.2 288.2h7M118.5 290.7h7M118.7 292.8h7M118.8 294.8h7M119.0 296.9h7M119.2 298.7h7M119.5 300.5h7M119.8 302.0h7M120.0 303.5h7M120.2 301.4h7M120.5 299.3h7M120.8 297.2h7M121.0 295.1h7M121.2 293.0h7M121.5 290.8h7M121.8 288.8h7M122.0 286.7h7M122.5 287.5h7M122.8 289.7h7M123.0 291.9h7M123.5 291.0h7M123.8 288.2h7M124.0 285.4h7M124.2 282.4h7M124.5 279.5h7M125.0 278.7h7M125.5 281.2h7M126.0 278.2h7M126.5 276.9h7M127.0 278.6h7M127.2 276.6h7M127.5 274.5h7M128.0 277.4h7M128.2 275.6h7M128.5 273.9h7M129.0 273.7h7M129.5 275.3h7M129.8 273.1h7M130.0 270.9h7M130.5 271.1h7M131.0 274.0h7M131.2 271.9h7M131.5 269.8h7M132.0 267.6h7M132.2 269.6h7M132.5 271.6h7M133.0 271.2h7M133.2 268.6h7M133.5 266.0h7M133.8 267.7h7M134.0 269.5h7M134.5 266.8h7M135.0 268.1h7M135.5 266.4h7M135.7 248.5h7M136.0 268.0h7M136.5 265.8h7M137.0 266.9h7M137.5 265.0h7M137.8 266.7h7M138.0 268.4h7M138.5 267.8h7M139.0 265.0h7M139.2 266.8h7M139.5 268.5h7M140.0 265.6h7M140.2 267.2h7M140.5 268.7h7M140.8 266.6h7M141.0 264.6h7M141.5 264.0h7M142.0 266.6h7M142.5 268.4h7M142.8 266.1h7M143.0 263.7h7M143.5 263.6h7M143.8 265.7h7M144.0 267.7h7M144.2 265.9h7M144.5 264.0h7M145.0 263.0h7M145.2 264.6h7M145.5 266.3h7M146.0 263.4h7M146.5 291.5h7M146.5 263.3h7M147.0 266.1h7M147.2 264.6h7M147.5 263.1h7M148.0 265.6h7M148.5 263.3h7M148.8 264.8h7M149.0 266.3h7M149.5 266.6h7M149.8 264.9h7M150.0 263.3h7M150.2 265.2h7M150.5 267.0h7M150.8 265.4h7M151.0 263.7h7M151.5 264.6h7M151.8 266.2h7M152.0 267.7h7M152.5 268.3h7M153.0 266.2h7M153.5 268.9h7M154.0 266.3h7M154.5 269.1h7M155.0 269.2h7M155.2 267.6h7M155.5 266.0h7M156.0 268.0h7M156.5 266.3h7M157.0 268.6h7M157.5 266.0h7M157.8 267.7h7M158.0 269.4h7M158.2 267.8h7M158.5 266.2h7M158.8 268.1h7M159.0 269.9h7M159.5 272.0h7M159.7 270.0h7M159.8 268.0h7M160.0 266.0h7M160.5 266.0h7M160.8 267.7h7M161.0 269.4h7M161.5 271.1h7M161.8 268.5h7M162.0 265.9h7M162.5 267.6h7M162.8 269.3h7M163.0 270.9h7M163.5 272.0h7M163.8 269.0h7M164.0 266.1h7M164.2 263.2h7M164.3 260.3h7M164.5 257.5h7M164.7 255.2h7M164.8 253.0h7M165.0 250.7h7M165.2 248.6h7M165.5 246.5h7M165.8 244.0h7M166.0 241.5h7M166.5 241.2h7M166.7 243.5h7M166.8 245.8h7M167.0 248.1h7M167.5 246.8h7M167.8 244.2h7M168.0 241.5h7M168.5 241.3h7M168.8 244.3h7M169.0 247.3h7M169.5 248.5h7M169.8 246.6h7M170.0 244.8h7M170.5 247.4h7M171.0 250.3h7M171.2 248.1h7M171.5 245.8h7M171.8 247.4h7M172.0 249.0h7M172.2 251.1h7M172.3 253.2h7M172.5 255.2h7M172.8 253.1h7M173.0 250.9h7M173.2 252.7h7M173.5 254.5h7M174.0 257.3h7M174.5 258.9h7M174.8 256.9h7M175.0 254.9h7M175.5 256.2h7M175.8 257.7h7M176.0 259.3h7M176.2 261.1h7M176.5 263.0h7M177.0 260.4h7M177.2 262.5h7M177.5 264.6h7M178.0 262.5h7M178.2 264.9h7M178.5 267.3h7M178.8 265.8h7M179.0 264.3h7M179.5 263.0h7M179.8 265.4h7M180.0 267.7h7M180.2 270.0h7M180.5 272.2h7M180.8 270.0h7M181.0 267.8h7M181.5 267.2h7M181.8 269.5h7M182.0 271.8h7M182.2 273.5h7M182.5 275.1h7M183.0 275.8h7M183.2 274.2h7M183.5 272.6h7M183.8 275.1h7M184.0 277.5h7M184.5 279.3h7M185.0 276.8h7M185.5 274.9h7M185.8 276.6h7M186.0 278.3h7M186.2 280.0h7M186.5 281.7h7M187.0 282.3h7M187.2 280.7h7M187.5 279.0h7M188.0 278.5h7M188.5 281.2h7M189.0 283.8h7M189.5 285.8h7M189.8 283.1h7M190.0 280.4h7M190.2 282.6h7M190.5 284.7h7M190.8 286.3h7M191.0 287.8h7M191.5 284.8h7M192.0 284.3h7M192.2 286.3h7M192.5 288.4h7M192.8 286.9h7M193.0 285.4h7M193.5 285.1h7M193.8 282.1h7M194.0 279.1h7M194.5 264.0h7M194.7 261.6h7M194.8 259.2h7M195.0 256.8h7M195.2 254.1h7M195.5 251.5h7M195.8 249.4h7M196.0 247.4h7M196.5 244.5h7M197.0 245.8h7M197.5 248.4h7M198.0 251.3h7M198.5 253.7h7M199.0 250.9h7M199.2 248.2h7M199.5 245.5h7M199.8 243.0h7M200.0 240.5h7M200.2 242.6h7M200.3 244.6h7M200.5 246.7h7M200.8 248.4h7M201.0 250.1h7M201.5 247.4h7M201.8 245.5h7M202.0 243.6h7M202.2 240.9h7M202.5 238.3h7M203.0 235.9h7M203.2 237.4h7M203.5 238.9h7M203.8 241.1h7M204.0 243.2h7M204.2 245.2h7M204.5 247.2h7M205.0 248.4h7M205.2 246.8h7M205.5 245.1h7M205.8 242.2h7M206.0 239.3h7M206.2 236.8h7M206.5 234.3h7M207.0 235.0h7M207.2 237.2h7M207.5 239.4h7M207.8 241.1h7M208.0 242.9h7M208.2 244.9h7M208.3 246.9h7M208.5 248.9h7M209.0 249.8h7M209.2 247.2h7M209.5 244.6h7M209.8 241.7h7M210.0 238.9h7M210.5 236.6h7M210.8 238.2h7M211.0 239.8h7M211.2 242.6h7M211.5 245.5h7M212.0 248.1h7M212.5 250.3h7M212.8 248.6h7M213.0 246.8h7M213.2 244.7h7M213.3 242.6h7M213.5 240.5h7M214.0 238.3h7M214.2 240.4h7M214.3 242.6h7M214.5 244.7h7M214.8 247.0h7M215.0 249.2h7M215.5 249.9h7M216.0 247.0h7M216.2 244.9h7M216.5 242.7h7M216.7 240.5h7M216.8 238.2h7M217.0 235.9h7M217.2 234.4h7M217.5 233.0h7M217.8 230.4h7M218.0 227.9h7M218.2 225.2h7M218.5 222.5h7M219.0 219.9h7M219.2 221.5h7M219.5 223.1h7M219.8 225.8h7M220.0 228.5h7M220.2 231.0h7M220.5 233.6h7M221.0 236.2h7M221.2 237.9h7M221.5 239.6h7M221.8 242.2h7M222.0 244.7h7M222.5 246.4h7M222.8 243.8h7M223.0 241.2h7M223.2 239.2h7M223.3 237.2h7M223.5 235.2h7M223.8 232.7h7M224.0 230.2h7M224.5 231.6h7M224.8 233.1h7M225.0 234.6h7M225.5 237.3h7M225.7 239.5h7M225.8 241.8h7M226.0 244.1h7M226.2 245.8h7M226.5 247.5h7M227.0 249.9h7M227.2 247.8h7M227.3 245.7h7M227.5 243.6h7M227.8 241.0h7M228.0 238.4h7M228.5 238.9h7M228.7 241.0h7M228.8 243.2h7M229.0 245.3h7M229.2 247.4h7M229.5 249.4h7M230.0 249.0h7M230.2 246.4h7M230.5 243.9h7M230.8 242.0h7M231.0 240.2h7M231.2 242.7h7M231.5 245.1h7M232.0 246.9h7M232.5 244.0h7M233.0 241.8h7M233.2 244.7h7M233.5 247.6h7M234.0 247.4h7M234.2 244.8h7M234.5 242.2h7M234.8 240.4h7M235.0 238.7h7M235.5 237.7h7M235.8 239.7h7M236.0 241.7h7M236.2 243.4h7M236.5 245.2h7M236.8 246.8h7M237.0 248.4h7M237.5 247.5h7M237.7 245.3h7M237.8 243.2h7M238.0 241.1h7M238.2 238.7h7M238.3 236.4h7M238.5 234.1h7M238.8 231.5h7M239.0 228.9h7M239.5 230.8h7M239.7 233.0h7M239.8 235.2h7M240.0 237.4h7M240.2 239.6h7M240.3 241.9h7M240.5 244.2h7M241.0 245.6h7M241.2 243.4h7M241.5 241.2h7M241.7 238.9h7M241.8 236.6h7M242.0 234.2h7M242.5 234.3h7M243.0 237.2h7M243.2 240.1h7M243.5 242.9h7M243.8 244.9h7M244.0 246.8h7M244.5 246.5h7M245.0 243.8h7M245.2 241.6h7M245.5 239.3h7M246.0 240.6h7M246.2 243.5h7M246.5 246.5h7M247.0 247.3h7M247.2 245.4h7M247.5 243.5h7M247.8 241.3h7M248.0 239.1h7M248.5 236.3h7M248.7 238.6h7M248.8 240.9h7M249.0 243.2h7M249.5 245.3h7M249.8 243.3h7M250.0 241.2h7M250.2 239.6h7M250.5 237.9h7M250.8 236.0h7M251.0 234.0h7M251.5 233.6h7M251.7 235.7h7M251.8 237.8h7M252.0 239.9h7M252.2 241.8h7M252.5 243.7h7M253.0 245.2h7M253.2 243.1h7M253.3 241.1h7M253.5 239.0h7M253.8 237.1h7M254.0 235.2h7M254.5 232.6h7M255.0 231.5h7M255.2 234.0h7M255.5 236.4h7M255.8 238.0h7M256.0 239.7h7M256.5 242.4h7M256.8 244.1h7M257.0 245.8h7M257.2 248.1h7M257.3 250.4h7M257.5 252.7h7M258.0 255.5h7M258.5 252.8h7M258.8 251.1h7M259.0 249.5h7M259.5 246.9h7M259.8 244.7h7M260.0 242.5h7M260.2 240.0h7M260.5 237.5h7M261.0 234.6h7M261.5 234.0h7M261.7 236.1h7M261.8 238.1h7M262.0 240.1h7M262.2 242.3h7M262.5 244.5h7M262.8 246.3h7M263.0 248.2h7M263.2 250.8h7M263.5 253.5h7M264.0 252.3h7M264.2 250.2h7M264.3 248.2h7M264.5 246.1h7M264.8 244.3h7M265.0 242.5h7M265.5 243.5h7M265.7 245.5h7M265.8 247.6h7M266.0 249.6h7M266.5 251.8h7M266.8 250.2h7M267.0 248.5h7M267.5 248.2h7M267.8 249.8h7M268.0 251.4h7M268.5 248.8h7M268.8 250.5h7M269.0 252.1h7M269.2 250.5h7M269.5 248.8h7M269.8 250.5h7M270.0 252.1h7M270.5 253.5h7M270.8 251.8h7M271.0 250.0h7M271.2 252.0h7M271.5 254.1h7M272.0 255.0h7M272.5 281.5h7M272.7 273.7h7M272.5 250.2h7M273.0 250.1h7M273.2 252.2h7M273.3 254.3h7M273.5 256.3h7M274.0 257.3h7M274.5 254.6h7M274.8 252.1h7M275.0 249.5h7M275.5 251.3h7M275.7 253.5h7M275.8 255.7h7M276.0 258.0h7M276.5 258.6h7M276.8 256.6h7M277.0 254.5h7M277.5 252.7h7M277.7 255.0h7M277.8 257.3h7M278.0 259.5h7M278.5 261.9h7M278.8 259.8h7M279.0 257.7h7M279.2 255.2h7M279.5 252.8h7M279.8 254.7h7M280.0 256.5h7M280.2 258.8h7M280.3 261.0h7M280.5 263.3h7M281.0 266.1h7M281.2 264.6h7M281.5 263.0h7M281.8 261.2h7M282.0 259.4h7M282.2 256.7h7M282.5 253.9h7M282.8 255.7h7M283.0 257.5h7M283.2 259.2h7M283.5 260.9h7M284.0 263.7h7M284.2 265.8h7M284.3 267.9h7M284.5 270.0h7M284.8 272.7h7M285.0 275.3h7M285.5 277.2h7M285.8 275.3h7M286.0 273.4h7M286.2 271.1h7M286.3 268.8h7M286.5 266.6h7M287.0 263.8h7M287.2 261.9h7M287.5 260.0h7M287.8 257.6h7M288.0 255.1h7M288.5 254.7h7M288.7 256.9h7M288.8 259.2h7M289.0 261.5h7M289.2 263.1h7M289.5 264.6h7M289.7 266.8h7M289.8 269.0h7M290.0 271.2h7M290.5 269.6h7M290.8 268.1h7M291.0 266.5h7M291.5 263.7h7M292.0 263.3h7M292.2 265.0h7M292.5 266.7h7M292.7 268.7h7M292.8 270.8h7M293.0 272.9h7M293.2 275.1h7M293.3 277.4h7M293.5 279.7h7M293.8 282.1h7M294.0 284.6h7M294.2 286.7h7M294.5 288.8h7M295.0 290.1h7M295.2 287.8h7M295.3 285.5h7M295.5 283.1h7M296.0 280.8h7M296.2 282.8h7M296.5 284.9h7M296.7 287.1h7M296.8 289.3h7M297.0 291.5h7M297.5 294.3h7M297.8 296.0h7M298.0 297.7h7M298.5 297.9h7M298.7 295.6h7M298.8 293.3h7M299.0 291.0h7M299.5 290.8h7M299.8 293.7h7M300.0 296.5h7M300.2 298.4h7M300.5 300.4h7M301.0 303.0h7M301.5 301.7h7M301.7 299.7h7M301.8 297.7h7M302.0 295.7h7M302.5 293.9h7M302.8 296.3h7M303.0 298.8h7M303.5 301.2h7M303.8 298.6h7M304.0 296.1h7M304.2 293.8h7M304.3 291.6h7M304.5 289.4h7M304.7 287.2h7M304.8 285.1h7M305.0 283.0h7M305.2 280.9h7M305.3 278.8h7M305.5 276.8h7M305.8 275.1h7M306.0 273.5h7M306.2 271.7h7M306.5 269.8h7M306.8 268.1h7M307.0 266.4h7M307.5 263.7h7M307.8 261.4h7M308.0 259.1h7M308.5 261.7h7M308.7 263.8h7M308.8 266.0h7M309.0 268.1h7M309.2 265.8h7M309.5 263.6h7M309.8 260.8h7M310.0 258.0h7M310.2 255.5h7M310.5 253.1h7M311.0 250.6h7M311.2 252.2h7M311.5 253.8h7M312.0 254.7h7M312.2 252.3h7M312.5 249.9h7M312.8 247.8h7M313.0 245.7h7M313.5 243.6h7M313.8 246.2h7M314.0 248.8h7M314.5 247.3h7M314.8 245.4h7M315.0 243.5h7M315.5 242.5h7M315.8 244.0h7M316.0 245.5h7M316.5 245.0h7M317.0 242.1h7M317.2 243.7h7M317.5 245.4h7M317.8 242.9h7M318.0 240.5h7M318.5 241.5h7M318.8 244.0h7M319.0 246.4h7M319.5 245.8h7M320.0 242.9h7M320.5 240.4h7M320.7 242.5h7M320.8 244.6h7M321.0 246.7h7M321.5 246.0h7M321.8 243.9h7M322.0 241.9h7M322.5 241.7h7M322.7 243.9h7M322.8 246.0h7M323.0 248.2h7M323.5 249.2h7M323.8 247.3h7M324.0 245.4h7M324.5 244.3h7M324.8 246.4h7M325.0 248.5h7M325.2 250.0h7M325.5 251.6h7M325.8 249.1h7M326.0 246.5h7M326.5 247.4h7M326.8 249.0h7M327.0 250.5h7M327.5 253.4h7M327.8 255.4h7M328.0 257.3h7M328.2 259.2h7M328.5 261.1h7M329.0 263.7h7M329.5 262.6h7M329.7 260.6h7M329.8 258.5h7M330.0 256.4h7M330.5 259.1h7M330.8 261.4h7M331.0 263.6h7M331.2 266.4h7M331.5 269.2h7M332.0 269.3h7M332.2 267.2h7M332.3 265.0h7M332.5 262.8h7M333.0 262.1h7M333.2 260.3h7M333.5 258.6h7M334.0 245.0h7M334.2 243.0h7M334.5 240.9h7M334.8 238.7h7M335.0 236.5h7M335.2 234.4h7M335.5 232.3h7M336.0 230.3h7M336.2 232.2h7M336.5 234.0h7M336.8 231.8h7M337.0 229.6h7M337.5 228.8h7M337.8 230.7h7M338.0 232.6h7M338.2 230.3h7M338.3 228.1h7M338.5 225.8h7M339.0 228.4h7M339.5 228.3h7M339.8 226.2h7M340.0 224.0h7M340.5 225.9h7M340.8 223.3h7M341.0 220.7h7M341.5 220.0h7M341.8 222.0h7M342.0 224.1h7M342.2 221.8h7M342.3 219.6h7M342.5 217.3h7M343.0 216.7h7M343.5 219.6h7M344.0 218.1h7M344.2 216.2h7M344.5 214.4h7M344.8 212.9h7M345.0 211.4h7M345.2 212.9h7M345.5 214.4h7M345.8 212.4h7M346.0 210.5h7M346.2 208.7h7M346.5 206.9h7M346.8 208.6h7M347.0 210.3h7M347.2 208.1h7M347.3 205.9h7M347.5 203.7h7M348.0 203.3h7M348.2 205.0h7M348.5 206.7h7M349.0 205.6h7M349.2 203.7h7M349.5 201.7h7M349.8 200.0h7M350.0 198.4h7M350.5 198.2h7M350.8 199.7h7M351.0 201.2h7M351.5 199.2h7M351.8 197.4h7M352.0 195.7h7M352.2 194.0h7M352.5 192.4h7M353.0 189.7h7M353.5 188.1h7M354.0 190.8h7M354.5 190.0h7M354.8 188.4h7M355.0 186.7h7M355.2 184.9h7M355.5 183.1h7M356.0 182.3h7M356.2 184.1h7M356.5 185.8h7M357.0 185.1h7M357.2 183.3h7M357.5 181.5h7M357.8 179.1h7M358.0 176.7h7M358.2 179.4h7M358.5 182.2h7M359.0 181.5h7M359.2 179.0h7M359.5 176.6h7M360.0 174.0h7M360.2 175.8h7M360.5 177.6h7M360.7 175.6h7M360.8 173.6h7M361.0 171.6h7M361.5 170.3h7M361.8 172.0h7M362.0 173.7h7M362.2 171.9h7M362.5 170.2h7M363.0 167.3h7M363.5 167.9h7M363.8 165.6h7M364.0 163.3h7M364.5 162.9h7M365.0 164.9h7M365.2 163.4h7M365.5 161.8h7M366.0 164.8h7M366.2 162.4h7M366.5 160.1h7M366.8 161.8h7M367.0 163.6h7M367.5 160.7h7M368.0 163.7h7M368.2 165.6h7M368.5 167.5h7M369.0 168.1h7M369.5 167.1h7M369.8 169.4h7M370.0 171.6h7M370.5 169.1h7M370.8 171.8h7M371.0 174.6h7M371.2 176.2h7M371.5 177.7h7M372.0 175.6h7M372.2 178.1h7M372.5 180.7h7M373.0 182.1h7M373.2 179.6h7M373.5 177.1h7M374.0 178.6h7M374.2 180.3h7M374.5 182.0h7M375.0 182.9h7M375.2 181.4h7M375.5 180.0h7M376.0 179.1h7M376.2 180.8h7M376.5 182.5h7M376.8 184.1h7M377.0 185.7h7M377.2 183.5h7M377.5 181.3h7M377.8 183.7h7M378.0 186.1h7M378.5 187.0h7M378.8 185.1h7M379.0 183.2h7M379.5 183.1h7M379.8 184.6h7M380.0 186.1h7M380.5 188.0h7M380.8 186.2h7M381.0 184.5h7M381.2 186.3h7M381.5 188.2h7M381.8 186.6h7M382.0 185.1h7M382.2 186.7h7M382.5 188.3h7M383.0 186.5h7M383.5 188.9h7M383.8 186.6h7M384.0 184.3h7M384.5 184.5h7M384.8 187.1h7M385.0 189.8h7M385.2 187.3h7M385.5 184.9h7M385.8 187.3h7M386.0 189.7h7M386.5 189.8h7M387.0 186.9h7M387.2 189.1h7M387.5 191.3h7M387.8 189.7h7M388.0 188.2h7M388.2 190.4h7M388.5 192.5h7M389.0 193.0h7M389.5 190.0h7M389.8 191.8h7M390.0 193.5h7M390.1 190.9h7M390.2 188.4h7M390.4 185.8h7M390.5 183.2h7M390.6 180.7h7M390.7 178.2h7M390.8 175.7h7M390.9 173.2h7M391.0 170.7h7M391.2 167.7h7M391.5 164.8h7M392.0 162.8h7M392.5 165.0h7M392.8 162.1h7M393.0 159.2h7M393.5 158.2h7M394.0 160.9h7M394.2 159.2h7M394.5 157.6h7M394.8 156.1h7M395.0 154.5h7M395.5 154.1h7M396.0 157.0h7M396.5 156.6h7M396.8 154.3h7M397.0 152.1h7M397.5 151.3h7M398.0 153.6h7M398.2 150.7h7M398.5 147.9h7M399.0 146.4h7M399.2 148.9h7M399.5 151.3h7M400.0 151.1h7M400.5 148.2h7M400.8 146.4h7M401.0 144.6h7M401.2 147.3h7M401.5 150.1h7M402.0 150.3h7M402.2 148.1h7M402.5 145.8h7M403.0 144.6h7M403.2 146.4h7M403.5 148.2h7M404.0 148.8h7M404.2 146.4h7M404.5 143.9h7M405.0 142.4h7M405.5 145.0h7M406.0 146.7h7M406.2 145.1h7M406.5 143.4h7M407.0 144.1h7M407.2 146.8h7M407.5 149.6h7M407.8 152.5h7M408.0 155.4h7M408.2 157.8h7M408.5 160.2h7M408.8 162.4h7M409.0 164.7h7M409.2 166.2h7M409.5 167.8h7M409.7 165.8h7M409.8 163.8h7M410.0 161.7h7M410.5 161.6h7M410.8 164.2h7M411.0 166.9h7M411.2 169.1h7M411.5 171.3h7M411.8 172.9h7M412.0 174.4h7M412.2 176.7h7M412.3 179.1h7M412.5 181.4h7M412.8 183.0h7M413.0 184.7h7M413.2 186.2h7M413.5 187.7h7M413.8 189.4h7M414.0 191.0h7M414.2 189.2h7M414.5 187.4h7M415.0 187.1h7M415.5 189.7h7M415.8 192.0h7M416.0 194.3h7M416.2 195.8h7M416.5 197.3h7M417.0 194.6h7M417.2 193.0h7M417.5 191.4h7M417.8 193.7h7M418.0 196.0h7M418.5 197.1h7M418.8 195.5h7M419.0 194.0h7M419.2 192.1h7M419.5 190.3h7M419.8 192.6h7M420.0 194.9h7M420.5 192.0h7M420.8 189.1h7M421.0 186.2h7M421.5 185.8h7M422.0 188.5h7M422.2 186.1h7M422.5 183.7h7M422.7 181.4h7M422.8 179.1h7M423.0 176.9h7M423.5 174.3h7M424.0 171.5h7M424.5 169.3h7M425.0 171.3h7M425.2 169.0h7M425.5 166.7h7M425.8 164.1h7M426.0 161.5h7M426.5 159.6h7M426.8 161.7h7M427.0 163.8h7M427.2 161.5h7M427.5 159.1h7M428.0 157.2h7M428.5 159.1h7M429.0 157.1h7M429.5 159.8h7M430.0 161.3h7M430.5 158.5h7M430.8 160.2h7M431.0 161.8h7M431.2 163.7h7M431.5 165.5h7M431.7 163.4h7M431.8 161.2h7M432.0 159.0h7M432.5 159.9h7M432.8 162.1h7M433.0 164.3h7M433.5 167.0h7M434.0 166.4h7M434.5 163.6h7M434.8 165.4h7M435.0 167.2h7M435.2 168.9h7M435.5 170.6h7M435.8 173.2h7M436.0 175.8h7M436.5 178.2h7M436.8 176.7h7M437.0 175.2h7M437.5 177.0h7M437.8 179.2h7M438.0 181.4h7M438.5 184.0h7M439.0 181.1h7M439.2 183.9h7M439.5 186.7h7M439.8 185.2h7M440.0 183.7h7M440.2 185.2h7M440.5 186.8h7M441.0 187.9h7M441.5 186.4h7M441.8 188.7h7M442.0 191.1h7M442.5 189.1h7M442.8 191.3h7M443.0 193.5h7M443.5 196.3h7M443.8 194.3h7M444.0 192.3h7M444.5 192.4h7M444.8 194.3h7M445.0 196.1h7M445.5 198.7h7M445.8 200.4h7M446.0 202.1h7M446.2 200.3h7M446.5 198.4h7M447.0 195.5h7M447.5 196.3h7M447.8 198.0h7M448.0 199.8h7M448.2 202.6h7M448.5 205.5h7M448.7 203.3h7M448.8 201.1h7M449.0 198.9h7M449.5 199.5h7M449.8 202.0h7M450.0 204.5h7M450.2 206.6h7M450.5 208.8h7M451.0 210.0h7M451.2 207.9h7M451.3 205.9h7M451.5 203.8h7M451.8 202.0h7M452.0 200.3h7M452.2 202.1h7M452.5 203.9h7M452.8 205.6h7M453.0 207.3h7M453.2 208.9h7M453.5 210.5h7M454.0 211.3h7M454.2 209.1h7M454.3 206.9h7M454.5 204.7h7M454.8 202.7h7M455.0 200.7h7M455.2 202.9h7M455.3 205.1h7M455.5 207.3h7M455.8 209.1h7M456.0 211.0h7M456.5 212.5h7M456.8 210.8h7M457.0 209.1h7M457.2 206.9h7M457.3 204.7h7M457.5 202.5h7M458.0 201.2h7M458.2 203.4h7M458.5 205.5h7M458.8 207.6h7M459.0 209.6h7M459.5 211.5h7M459.8 209.7h7M460.0 207.9h7M460.2 206.4h7M460.5 204.8h7M460.8 202.3h7M461.0 199.7h7M461.5 199.7h7M461.8 201.7h7M462.0 203.7h7M462.2 205.2h7M462.5 206.7h7M462.8 208.7h7M463.0 210.7h7M463.5 212.3h7M463.8 210.2h7M464.0 208.2h7M464.2 206.2h7M464.3 204.2h7M464.5 202.2h7M465.0 200.9h7M465.2 203.3h7M465.5 205.6h7M465.8 207.1h7M466.0 208.7h7M466.2 210.3h7M466.5 211.9h7M467.0 212.5h7M467.2 210.4h7M467.3 208.3h7M467.5 206.2h7M467.8 204.1h7M468.0 202.0h7M468.5 199.4h7M469.0 201.9h7M469.2 204.4h7M469.5 206.9h7M469.8 209.2h7M470.0 211.6h7M470.2 213.9h7M470.5 216.2h7M471.0 218.0h7M471.2 215.7h7M471.3 213.4h7M471.5 211.1h7M471.8 209.6h7M472.0 208.1h7M472.5 206.1h7M472.7 208.2h7M472.8 210.2h7M473.0 212.2h7M473.2 214.7h7M473.5 217.2h7M473.7 219.2h7M473.8 221.3h7M474.0 223.4h7M474.2 225.5h7M474.3 227.6h7M474.5 229.7h7M475.0 231.4h7M475.5 228.7h7M475.8 226.6h7M476.0 224.5h7M476.2 222.2h7M476.5 220.0h7M477.0 219.7h7M477.2 222.0h7M477.3 224.4h7M477.5 226.7h7M477.8 229.5h7M478.0 232.2h7M478.2 234.4h7M478.3 236.5h7M478.5 238.7h7M479.0 240.6h7M479.5 237.8h7M479.7 235.7h7M479.8 233.6h7M480.0 231.5h7M480.2 229.6h7M480.5 227.8h7M480.8 226.2h7M481.0 224.6h7M481.2 226.3h7M481.5 228.0h7M481.8 230.9h7M482.0 233.7h7M482.2 236.0h7M482.3 238.2h7M482.5 240.4h7M482.8 242.2h7M483.0 243.9h7M483.5 243.4h7M483.8 240.8h7M484.0 238.1h7M484.2 235.1h7M484.5 232.2h7M484.8 229.4h7M485.0 226.5h7M485.5 227.9h7M485.8 229.6h7M486.0 231.4h7M486.2 229.1h7M486.5 226.7h7M487.0 207.4h7M487.2 204.9h7M487.5 202.5h7M487.8 199.8h7M488.0 197.0h7M488.2 195.0h7M488.3 192.9h7M488.5 190.9h7M488.8 189.2h7M489.0 187.4h7M489.2 189.2h7M489.5 191.0h7M490.0 192.1h7M490.2 189.9h7M490.5 187.6h7M491.0 187.4h7M491.2 189.4h7M491.5 191.4h7M492.0 192.1h7M492.2 190.2h7M492.5 188.3h7M493.0 188.9h7M493.5 189.9h7M493.8 187.8h7M494.0 185.6h7M494.2 183.9h7M494.5 182.1h7M495.0 179.2h7M495.2 177.1h7M495.5 175.1h7M495.8 172.5h7M496.0 169.9h7M496.5 169.4h7M496.8 171.1h7M497.0 172.7h7M497.5 170.1h7M497.8 172.5h7M498.0 175.0h7M498.5 175.5h7M499.0 173.6h7M499.2 175.5h7M499.5 177.4h7M500.0 179.8h7M500.2 177.5h7M500.5 175.2h7M500.8 177.0h7M501.0 178.8h7M501.2 180.4h7M501.5 181.9h7M502.0 183.2h7M502.5 180.7h7M503.0 179.5h7M503.2 182.0h7M503.5 184.5h7M504.0 185.6h7M504.2 184.1h7M504.5 182.5h7M505.0 185.0h7M505.5 187.3h7M506.0 184.6h7M506.5 183.4h7M506.8 186.0h7M507.0 188.5h7M507.5 188.8h7M507.8 186.4h7M508.0 184.0h7M508.5 183.6h7M508.8 186.0h7M509.0 188.5h7M509.2 190.2h7M509.5 191.8h7M510.0 189.1h7M510.2 187.5h7M510.5 185.9h7M511.0 183.0h7M511.2 180.9h7M511.5 178.7h7M511.8 180.5h7M512.0 182.3h7M512.5 185.1h7M512.8 188.0h7M513.0 191.0h7M513.5 192.4h7M513.8 190.8h7M514.0 189.2h7M514.2 187.3h7M514.5 185.4h7M514.8 183.6h7M515.0 181.8h7M515.2 180.0h7M515.5 178.1h7M515.8 180.3h7M516.0 182.5h7M516.2 184.4h7M516.5 186.3h7M516.7 184.0h7M516.8 181.8h7M517.0 179.6h7M517.5 180.5h7M518.0 183.3h7M518.2 181.4h7M518.5 179.5h7M519.0 179.3h7M519.2 181.5h7M519.5 183.7h7M519.8 181.8h7M520.0 180.0h7M520.2 181.8h7M520.5 183.7h7M521.0 181.5h7M521.2 183.5h7M521.5 185.6h7M522.0 185.0h7M522.2 182.7h7M522.5 180.3h7M522.7 182.6h7M522.8 184.8h7M523.0 187.0h7M523.5 187.1h7M523.8 184.7h7M524.0 182.3h7M524.5 182.8h7M524.8 185.0h7M525.0 187.3h7M525.2 185.2h7M525.5 183.1h7M525.6 185.9h7M525.8 188.6h7M525.9 191.4h7M526.0 194.2h7M526.1 196.8h7M526.2 199.4h7M526.4 202.1h7M526.5 204.7h7M526.8 206.3h7M527.0 207.8h7M527.5 206.5h7M527.8 208.1h7M528.0 209.7h7M528.5 209.9h7M529.0 207.7h7M529.2 209.8h7M529.5 212.0h7M530.0 211.6h7M530.2 209.1h7M530.5 206.5h7M531.0 206.0h7M531.2 207.9h7M531.5 209.9h7M532.0 210.2h7M532.2 208.1h7M532.5 206.0h7M533.0 203.6h7M533.2 205.5h7M533.5 207.3h7M534.0 208.7h7M534.2 205.8h7M534.5 202.8h7M535.0 201.6h7M535.2 204.5h7M535.5 207.3h7M536.0 206.5h7M536.2 204.1h7M536.5 201.7h7M537.0 200.2h7M537.2 202.5h7M537.5 204.8h7M538.0 207.1h7M538.2 204.7h7M538.5 202.3h7M538.8 204.8h7M539.0 207.3h7M539.5 209.6h7M540.0 206.9h7M540.5 208.4h7M540.8 210.2h7M541.0 212.0h7M541.5 209.4h7M541.7 212.2h7M541.8 215.1h7M542.0 217.9h7M542.1 220.2h7M542.2 222.5h7M542.4 224.7h7M542.5 227.0h7M542.8 229.1h7M543.0 231.2h7M543.5 232.9h7M544.0 230.3h7M544.2 233.3h7M544.5 236.2h7M545.0 235.0h7M545.2 232.7h7M545.5 230.3h7M546.0 229.0h7M546.2 231.2h7M546.3 233.4h7M546.5 235.5h7M547.0 237.5h7M547.2 235.5h7M547.3 233.4h7M547.5 231.3h7M548.0 230.9h7M548.2 233.2h7M548.3 235.5h7M548.5 237.8h7M549.0 239.8h7M549.2 236.8h7M549.5 233.8h7M550.0 232.8h7M550.2 234.9h7M550.3 237.1h7M550.5 239.2h7M550.8 241.8h7M551.0 244.3h7M551.5 243.3h7M551.8 240.6h7M552.0 237.9h7M552.5 235.3h7M552.7 237.7h7M552.8 240.0h7M553.0 242.3h7M553.2 244.6h7M553.3 246.8h7M553.5 249.1h7M553.8 247.4h7M554.0 245.7h7M554.2 244.0h7M554.5 242.3h7M554.8 240.7h7M555.0 239.1h7M555.5 237.7h7M555.7 240.0h7M555.8 242.3h7M556.0 244.6h7M556.2 246.9h7M556.5 249.1h7M557.0 248.8h7M557.2 246.6h7M557.5 244.4h7M557.8 242.7h7M558.0 240.9h7M558.5 241.4h7M558.8 244.0h7M559.0 246.5h7M559.5 248.6h7M559.8 246.9h7M560.0 245.2h7M560.5 243.8h7M560.8 246.2h7M561.0 248.5h7M561.2 250.5h7M561.5 252.5h7M561.6 254.8h7M561.8 257.1h7M561.9 259.5h7M562.0 261.8h7M562.2 263.9h7M562.3 266.1h7M562.5 268.3h7M563.0 268.5h7M563.2 266.5h7M563.5 264.4h7M564.0 261.6h7M564.5 261.2h7M565.0 263.8h7M565.5 263.2h7M565.7 261.0h7M565.8 258.9h7M566.0 256.7h7M566.5 257.5h7M567.0 260.4h7M567.2 258.2h7M567.5 256.0h7M568.0 253.4h7M568.5 250.5h7M569.0 248.6h7M569.2 251.2h7M569.5 253.7h7M570.0 253.7h7M570.2 252.0h7M570.5 250.2h7M570.7 248.1h7M570.8 245.9h7M571.0 243.7h7M571.2 241.5h7M571.3 239.2h7M571.5 236.9h7M571.7 234.2h7M571.8 231.5h7M572.0 228.8h7M572.2 226.8h7M572.3 224.7h7M572.5 222.7h7M572.8 220.5h7M573.0 218.4h7M573.2 215.8h7M573.5 213.2h7M573.8 211.7h7M574.0 210.1h7M574.2 208.4h7M574.5 206.6h7M574.8 204.4h7M575.0 202.2h7M575.2 200.0h7M575.3 197.8h7M575.5 195.5h7M576.0 192.9h7M576.2 190.6h7M576.3 188.3h7M576.5 186.0h7M576.8 184.3h7M577.0 182.5h7M577.5 179.6h7M577.7 181.8h7M577.8 184.1h7M578.0 186.4h7M578.2 183.9h7M578.5 181.5h7M578.8 180.0h7M579.0 178.5h7M579.2 176.3h7M579.3 174.2h7M579.5 172.0h7M579.8 169.7h7M580.0 167.4h7M580.2 169.8h7M580.5 172.1h7M581.0 169.3h7M581.2 167.4h7M581.5 165.5h7M582.0 164.8h7M582.2 166.4h7M582.5 168.0h7M582.8 165.7h7M583.0 163.5h7M583.2 165.6h7M583.5 167.7h7M584.0 168.2h7M584.2 165.3h7M584.5 162.4h7M585.0 162.3h7M585.2 164.1h7M585.5 165.8h7M585.8 164.2h7M586.0 162.6h7M586.5 161.6h7M586.8 163.3h7M587.0 165.0h7M587.5 162.9h7M588.0 160.8h7M588.5 162.7h7M588.8 160.9h7M589.0 159.2h7M589.2 160.8h7M589.5 162.4h7M589.8 160.8h7M590.0 159.2h7M590.2 161.4h7M590.5 163.6h7M590.8 162.0h7M591.0 160.4h7M591.2 162.4h7M591.5 164.4h7M591.8 162.8h7M592.0 161.2h7M592.5 161.0h7M592.8 162.8h7M593.0 164.6h7M593.5 161.8h7M593.8 164.3h7M594.0 166.7h7M594.5 166.8h7M594.8 163.9h7M595.0 161.0h7M595.5 162.6h7M596.0 186.5h7M596.0 165.5h7M596.5 167.4h7M597.0 164.4h7M597.5 165.0h7M598.0 167.6h7M598.2 166.0h7M598.5 164.4h7M599.0 164.6h7M599.2 166.5h7M599.5 168.4h7M600.0 167.6h7M600.2 165.7h7M600.5 163.8h7M601.0 162.9h7M601.2 165.5h7M601.5 168.1h7M602.0 168.6h7M602.1 166.2h7M602.2 163.8h7M602.4 161.4h7M602.5 159.0h7M603.0 145.4h7M603.2 143.8h7M603.5 142.2h7M603.8 139.7h7M604.0 137.2h7M604.2 135.1h7M604.5 132.9h7M605.0 131.3h7M605.2 133.4h7M605.5 135.5h7M605.8 137.4h7M606.0 139.3h7M606.2 136.6h7M606.5 133.9h7M607.0 135.2h7M607.2 137.8h7M607.5 140.5h7M607.8 143.1h7M608.0 145.8h7M608.5 145.7h7M608.8 143.3h7M609.0 141.0h7M609.5 143.0h7M609.8 145.9h7M610.0 148.8h7M610.2 151.1h7M610.3 153.4h7M610.5 155.7h7M611.0 158.3h7M611.5 161.2h7M612.0 163.8h7M612.5 161.0h7M612.8 159.4h7M613.0 157.8h7M613.2 159.9h7M613.3 162.0h7M613.5 164.1h7M614.0 165.9h7M614.2 163.7h7M614.5 161.6h7M615.0 163.3h7M615.5 166.3h7M616.0 169.1h7M616.5 168.7h7M617.0 153.5h7M617.5 134.9h7M617.8 132.9h7M618.0 130.9h7M618.5 131.3h7M618.8 133.1h7M619.0 134.9h7M619.5 132.7h7M619.8 130.7h7M620.0 128.7h7M620.5 128.4h7M621.0 129.7h7M621.5 126.9h7M622.0 128.4h7M622.2 126.6h7M622.5 124.8h7M623.0 125.9h7M623.2 123.7h7M623.5 121.6h7M624.0 120.8h7M624.5 123.1h7M624.8 121.3h7M625.0 119.5h7M625.2 117.1h7M625.5 114.8h7M625.8 116.4h7M626.0 118.0h7M626.5 118.1h7M626.7 115.8h7M626.8 113.5h7M627.0 111.2h7M627.2 109.6h7M627.5 108.0h7M627.8 106.0h7M628.0 104.0h7M628.2 101.6h7M628.3 99.3h7M628.5 97.0h7M628.8 95.1h7M629.0 93.2h7M629.2 95.4h7M629.5 97.5h7M630.0 94.7h7M630.2 92.5h7M630.3 90.2h7M630.5 88.0h7M631.0 85.3h7M631.2 83.0h7M631.5 80.8h7M632.0 78.4h7M632.2 80.6h7M632.5 82.8h7M633.0 85.2h7M633.5 82.6h7M633.8 84.3h7M634.0 86.0h7M634.5 88.4h7M635.0 85.6h7M635.2 87.8h7M635.3 90.0h7M635.5 92.2h7M636.0 93.6h7M636.2 91.2h7M636.5 88.8h7M636.8 91.6h7M637.0 94.4h7M637.5 96.0h7M637.8 94.0h7M638.0 92.0h7M638.5 92.2h7M638.8 94.8h7M639.0 97.4h7M639.2 95.2h7M639.5 92.9h7M640.0 90.2h7M640.2 92.6h7M640.5 95.0h7M641.0 96.7h7M641.2 94.7h7M641.5 92.8h7M641.8 90.3h7M642.0 87.7h7M642.2 86.2h7M642.5 84.6h7M642.7 82.2h7M642.8 79.8h7M643.0 77.4h7M643.2 75.1h7M643.3 72.8h7M643.5 70.5h7M643.8 69.0h7M644.0 67.5h7M644.5 66.2h7M644.8 68.1h7M645.0 70.0h7M645.5 68.7h7M646.0 65.8h7M646.5 63.2h7M646.8 60.8h7M647.0 58.3h7M647.2 60.9h7M647.5 63.5h7M647.8 66.0h7M648.0 68.5h7M648.2 66.6h7M648.5 64.7h7M649.0 66.3h7M649.5 69.0h7M649.8 70.8h7M650.0 72.6h7M650.2 74.5h7M650.5 76.3h7M650.8 79.1h7M651.0 81.8h7M651.5 83.4h7M651.8 81.3h7M652.0 79.3h7M652.5 77.9h7M652.8 79.4h7M653.0 81.0h7M653.1 105.5h7M653.3 98.0h7M653.5 87.8h7M653.8 89.5h7M654.0 91.3h7M654.2 89.5h7M654.5 87.7h7M655.0 87.0h7M655.2 88.8h7M655.5 90.6h7M655.8 92.7h7M656.0 94.7h7M656.5 93.2h7M656.8 90.9h7M657.0 88.7h7M657.2 86.4h7M657.5 84.1h7M658.0 82.8h7M658.5 85.4h7M659.0 88.1h7M659.2 85.1h7M659.5 82.2h7M659.8 80.1h7M660.0 78.1h7M660.5 75.5h7M661.0 75.3h7M661.2 77.4h7M661.5 79.5h7M662.0 82.4h7M662.5 85.0h7M662.8 47.5h7M663.0 54.8h7M663.0 80.5h7M663.5 77.6h7M664.0 75.1h7M664.2 77.3h7M664.5 79.5h7M665.0 82.0h7M665.2 80.2h7M665.5 78.4h7M666.0 79.1h7M666.2 81.8h7M666.5 84.5h7M667.0 87.1h7M667.5 89.7h7M667.8 88.0h7M668.0 86.3h7M668.2 88.1h7M668.5 90.0h7M669.0 91.5h7M669.5 88.8h7M670.0 89.0h7M670.2 90.7h7M670.5 92.3h7M670.8 94.1h7M671.0 95.9h7M671.5 97.1h7M671.8 95.0h7M672.0 93.0h7M672.2 95.0h7M672.5 97.1h7M673.0 99.9h7M673.2 97.5h7M673.5 95.1h7M674.0 94.9h7M674.2 97.2h7M674.3 99.5h7M674.5 101.8h7M675.0 103.8h7M675.2 101.0h7M675.5 98.2h7M676.0 96.4h7M676.2 98.6h7M676.3 100.7h7M676.5 102.9h7M676.8 104.6h7M677.0 106.4h7M677.2 103.9h7M677.5 101.4h7M678.0 99.3h7M678.2 101.5h7M678.3 103.6h7M678.5 105.7h7M679.0 104.8h7M679.2 103.1h7M679.5 101.4h7M679.8 98.9h7M680.0 96.4h7M680.5 96.7h7M680.8 98.9h7M681.0 101.0h7M681.2 98.2h7M681.5 95.4h7M682.0 93.6h7M682.2 95.2h7M682.5 96.7h7M683.0 96.1h7M683.2 93.5h7M683.5 90.9h7M684.0 90.9h7M684.5 93.8h7M685.0 95.9h7M685.2 93.7h7M685.5 91.4h7M686.0 89.7h7M686.2 92.0h7M686.5 94.3h7M687.0 95.0h7M687.2 93.0h7M687.3 90.9h7M687.5 88.8h7M688.0 88.3h7M688.2 90.4h7M688.3 92.5h7M688.5 94.6h7M689.0 93.8h7M689.2 91.8h7M689.5 89.8h7M690.0 87.7h7M690.2 90.2h7M690.5 92.6h7M690.8 90.3h7M691.0 87.9h7M691.2 90.0h7M691.5 92.1h7M691.8 89.9h7M692.0 87.7h7M692.2 89.4h7M692.5 91.1h7M693.0 92.8h7M693.5 90.4h7M693.8 92.4h7M694.0 94.3h7M694.5 92.8h7M694.8 94.7h7M695.0 96.7h7M695.5 93.8h7M695.8 96.1h7M696.0 98.4h7M696.5 98.8h7M696.8 97.2h7M697.0 95.5h7M697.5 98.2h7M698.0 101.1h7M698.5 99.1h7M699.0 96.4h7M699.2 98.5h7M699.5 100.6h7M700.0 101.1h7M700.5 99.1h7M700.8 100.8h7M701.0 102.5h7M701.5 101.1h7M702.0 103.6h7M702.5 106.2h7M702.8 104.3h7M703.0 102.4h7M703.5 100.4h7M703.8 102.4h7M704.0 104.5h7M704.5 105.5h7M704.8 103.7h7M705.0 101.9h7M705.5 99.0h7M705.8 97.4h7M706.0 95.7h7M706.2 98.4h7M706.5 101.2h7M707.0 102.6h7M707.2 99.9h7M707.5 97.2h7M708.0 95.3h7M708.2 68.5h7M708.5 73.6h7M708.5 99.0h7M709.0 99.1h7M709.2 97.5h7M709.5 95.9h7M710.0 93.3h7M710.5 95.7h7M710.8 93.7h7M711.0 91.7h7M711.2 93.9h7M711.3 96.0h7M711.5 98.1h7M712.0 97.9h7M712.5 95.3h7M713.0 95.3h7M713.2 97.7h7M713.5 100.1h7M714.0 101.1h7M714.5 98.5h7M714.8 100.2h7M715.0 101.9h7M715.5 101.9h7M716.0 99.4h7M716.2 101.0h7M716.5 102.6h7M717.0 100.4h7M717.2 102.4h7M717.3 104.5h7M717.5 106.5h7M718.0 107.6h7M718.2 105.5h7M718.5 103.4h7M719.0 104.1h7M719.5 106.8h7M720.0 109.6h7M720.2 111.6h7M720.5 113.5h7M721.0 115.5h7M721.2 113.8h7M721.5 112.2h7M722.0 112.4h7M722.2 114.6h7M722.5 116.9h7M723.0 115.9h7M723.2 113.8h7M723.5 111.6h7M724.0 111.7h7M724.5 114.6h7M724.8 112.3h7M725.0 109.9h7M725.5 109.8h7M725.8 112.2h7M726.0 114.5h7M726.2 112.2h7M726.3 109.9h7M726.5 107.6h7M727.0 108.4h7M727.2 110.3h7M727.5 112.2h7M727.8 110.5h7M728.0 108.7h7M728.2 107.1h7M728.5 105.5h7M729.0 107.7h7M729.2 106.2h7M729.5 104.6h7M730.0 106.5h7M730.2 104.9h7M730.5 103.2h7M731.0 105.8h7M731.5 104.8h7M731.8 102.2h7M732.0 99.5h7M732.5 99.2h7M732.8 101.6h7M733.0 104.0h7M733.5 103.4h7M733.8 101.0h7M734.0 98.7h7M734.5 101.6h7M735.0 103.4h7M735.2 101.1h7M735.5 98.8h7M735.8 100.3h7M736.0 101.9h7M736.2 99.9h7M736.5 97.9h7M736.8 99.7h7M737.0 101.6h7M737.5 99.0h7M737.8 100.6h7M738.0 102.1h7M738.2 100.7h7M738.5 99.2h7M739.0 99.2h7M739.5 102.0h7M739.8 100.3h7M740.0 98.6h7M740.2 101.0h7M740.5 103.4h7M741.0 103.0h7M741.2 101.4h7M741.5 99.8h7M742.0 98.7h7M742.5 101.5h7M743.0 103.9h7M743.2 101.5h7M743.5 99.2h7M744.0 99.6h7M744.2 101.7h7M744.5 103.8h7M745.0 105.3h7M745.2 103.3h7M745.5 101.3h7M746.0 99.6h7M746.2 102.2h7M746.5 104.9h7M747.0 102.1h7M747.5 102.9h7M747.8 105.2h7M748.0 107.5h7M748.2 105.9h7M748.5 104.4h7M749.0 104.1h7M749.2 106.0h7M749.5 107.8h7M749.8 109.4h7M750.0 110.9h7M750.2 109.1h7M750.5 107.3h7M751.0 107.9h7M751.2 109.8h7M751.5 111.6h7M751.8 114.1h7M752.0 116.5h7M752.5 118.9h7M752.8 116.5h7M753.0 114.1h7M753.1 116.8h7M753.2 119.4h7M753.4 122.1h7M753.5 124.7h7M753.7 127.2h7M753.8 129.8h7M754.0 132.3h7M754.2 134.7h7M754.5 137.1h7M755.0 138.4h7M755.2 136.3h7M755.5 134.2h7M756.0 131.3h7M756.2 133.6h7M756.3 135.9h7M756.5 138.2h7M756.8 139.9h7M757.0 141.7h7M757.5 155.4h7M758.0 158.3h7M758.2 160.6h7M758.3 162.8h7M758.5 165.1h7M758.8 167.5h7M759.0 169.9h7M759.2 171.5h7M759.5 173.1h7M759.7 171.0h7M759.8 168.8h7M760.0 166.7h7M760.2 164.0h7M760.5 161.4h7M760.7 163.6h7M760.8 165.8h7M761.0 168.0h7M761.2 169.6h7M761.5 171.3h7M761.8 173.2h7M762.0 175.1h7M762.2 176.7h7M762.5 178.3h7M762.8 180.4h7M763.0 182.5h7M763.5 185.2h7M763.8 183.5h7M764.0 181.9h7M764.2 179.9h7M764.5 177.8h7M764.8 175.5h7M765.0 173.3h7M765.5 171.7h7M766.0 174.2h7M766.5 172.1h7M766.8 173.7h7M767.0 175.3h7M767.2 173.6h7M767.5 172.0h7M768.0 170.4h7M768.2 172.3h7M768.5 174.1h7M769.0 175.8h7M769.2 173.5h7M769.5 171.3h7M770.0 171.4h7M770.2 173.3h7M770.5 175.2h7M771.0 175.6h7M771.5 173.1h7M772.0 175.9h7M772.5 173.1h7M772.8 174.6h7M773.0 176.2h7M773.2 174.6h7M773.5 173.1h7M773.8 174.7h7M774.0 176.3h7M774.2 174.6h7M774.5 173.0h7M775.0 173.2h7M775.2 175.3h7M775.5 177.4h7M776.0 174.8h7M776.2 177.2h7M776.5 179.7h7M776.8 177.6h7M777.0 175.4h7M777.2 178.1h7M777.5 180.8h7M777.8 178.9h7M778.0 177.1h7M778.5 176.5h7M778.8 178.4h7M779.0 180.3h7M779.5 180.0h7M779.8 178.5h7M780.0 177.0h7M780.2 179.1h7M780.5 181.2h7M781.0 180.7h7M781.2 178.8h7M781.5 176.8h7M781.8 178.5h7M782.0 180.2h7M782.5 181.5h7M783.0 178.7h7M783.5 179.6h7M783.8 181.4h7M784.0 183.1h7M784.5 180.5h7M784.8 182.1h7M785.0 183.6h7M785.5 186.0h7M785.8 184.1h7M786.0 182.2h7M786.5 182.1h7M786.8 183.9h7M787.0 185.7h7M787.2 184.1h7M787.5 182.5h7M788.0 183.7h7M788.2 185.4h7M788.5 187.0h7M789.0 188.2h7M789.2 186.4h7M789.5 184.5h7M790.0 184.8h7M790.2 186.6h7M790.5 188.5h7M790.8 190.1h7M791.0 191.7h7M791.2 194.5h7M791.5 197.2h7M791.8 199.9h7M792.0 202.6h7M792.2 204.8h7M792.3 207.0h7M792.5 209.1h7M792.8 211.0h7M793.0 212.9h7M793.2 210.0h7M793.5 207.0h7M794.0 206.1h7M794.2 209.0h7M794.5 211.9h7M794.8 214.8h7M795.0 217.8h7M795.5 218.2h7M796.0 215.3h7M796.2 212.7h7M796.5 210.1h7M796.8 207.9h7M797.0 205.6h7M797.5 205.4h7M797.8 207.1h7M798.0 208.7h7M798.5 208.6h7M798.8 206.8h7M799.0 205.1h7M799.5 184.7h7M799.8 182.7h7M800.0 180.7h7M800.5 181.6h7M801.0 179.5h7M801.2 181.0h7M801.5 182.5h7M802.0 180.1h7M802.2 181.7h7M802.5 183.2h7M803.0 180.3h7M803.2 183.2h7M803.5 186.1h7M804.0 186.4h7M804.5 183.8h7M804.8 181.6h7M805.0 179.4h7M805.5 180.4h7M805.8 183.1h7M806.0 185.8h7M806.2 187.4h7M806.5 189.0h7M806.8 186.5h7M807.0 184.1h7M807.5 181.9h7M808.0 184.8h7M808.2 186.9h7M808.5 189.0h7M809.0 191.3h7M809.2 189.6h7M809.5 187.9h7M809.7 185.7h7M809.8 183.5h7M810.0 181.4h7M810.5 183.7h7M810.8 186.1h7M811.0 188.6h7M811.5 188.4h7M812.0 185.7h7M812.5 182.8h7M813.0 181.1h7M813.2 183.6h7M813.5 186.2h7M814.0 184.2h7M814.2 182.4h7M814.5 180.5h7M814.8 178.7h7M815.0 176.8h7M815.5 175.6h7M815.8 177.7h7M816.0 179.9h7M816.2 177.8h7M816.3 175.8h7M816.5 173.7h7M817.0 172.2h7M817.2 173.7h7M817.5 175.2h7M818.0 172.3h7M818.2 170.1h7M818.5 167.8h7M819.0 166.5h7M819.2 168.0h7M819.5 169.6h7M819.8 167.1h7M820.0 164.6h7M820.5 162.0h7M821.0 160.2h7M821.2 162.0h7M821.5 163.8h7M822.0 165.7h7M822.2 163.8h7M822.5 161.9h7M822.8 159.5h7M823.0 157.1h7M823.5 155.7h7M823.8 157.5h7M824.0 159.4h7M824.2 156.7h7M824.5 153.9h7M825.0 154.6h7M825.5 156.8h7M825.8 154.0h7M826.0 151.2h7M826.5 154.1h7M827.0 154.0h7M827.5 151.4h7M827.8 149.7h7M828.0 147.9h7M828.2 150.0h7M828.5 152.1h7M829.0 151.3h7M829.5 148.8h7M829.8 147.3h7M830.0 145.7h7M830.2 147.3h7M830.5 148.8h7M830.8 147.3h7M831.0 145.8h7M831.5 146.5h7M831.8 148.6h7M832.0 150.8h7M832.5 151.9h7M832.8 149.7h7M833.0 147.5h7M833.5 148.1h7M833.8 149.9h7M834.0 151.8h7M834.2 153.6h7M834.5 155.3h7M835.0 171.9h7M835.2 173.9h7M835.5 176.0h7M835.8 178.0h7M836.0 180.0h7M836.2 181.6h7M836.5 183.3h7M836.8 181.3h7M837.0 179.4h7M837.2 181.6h7M837.5 183.7h7M838.0 185.1h7M838.5 182.5h7M838.8 184.8h7M839.0 187.2h7M839.5 187.5h7M839.8 185.8h7M840.0 184.2h7M840.5 184.8h7M840.8 186.6h7M841.0 188.5h7M841.5 190.6h7M841.8 188.2h7M842.0 185.9h7M842.5 187.9h7M842.8 190.0h7M843.0 192.2h7M843.5 194.7h7M843.8 196.5h7M844.0 198.3h7M844.5 197.8h7M844.8 196.0h7M845.0 194.3h7M845.5 194.1h7M845.8 196.4h7M846.0 198.8h7M846.2 201.2h7M846.5 203.6h7M846.7 205.6h7M846.8 207.6h7M847.0 209.6h7M847.2 211.1h7M847.5 212.7h7M848.0 209.9h7M848.2 208.1h7M848.5 206.4h7M848.8 204.7h7M849.0 203.1h7M849.5 205.2h7M849.8 207.2h7M850.0 209.1h7M850.2 210.8h7M850.5 212.5h7M850.8 209.9h7M851.0 207.3h7M851.2 205.5h7M851.5 203.7h7M852.0 204.8h7M852.2 206.3h7M852.5 207.9h7M853.0 208.6h7M853.2 206.1h7M853.5 203.6h7M853.8 206.2h7M854.0 208.8h7M854.2 206.7h7M854.3 204.6h7M854.5 202.5h7M855.0 202.4h7M855.2 204.2h7M855.5 205.9h7M856.0 205.4h7M856.2 203.9h7M856.5 202.4h7M856.8 204.0h7M857.0 205.6h7M857.2 203.4h7M857.5 201.2h7M858.0 202.2h7M858.5 205.0h7M858.8 203.4h7M859.0 201.8h7M859.5 201.5h7M859.8 203.5h7M860.0 205.6h7M860.5 206.2h7M860.8 204.1h7M861.0 202.0h7M861.5 199.6h7M862.0 202.1h7M862.5 205.1h7M862.8 203.6h7M863.0 202.1h7M863.5 199.8h7M863.8 201.7h7M864.0 203.7h7M864.2 201.7h7M864.5 199.6h7M865.0 197.5h7M865.2 200.1h7M865.5 202.8h7M865.8 200.5h7M866.0 198.3h7M866.2 200.5h7M866.5 202.8h7M867.0 203.7h7M867.2 201.5h7M867.5 199.3h7M868.0 196.6h7M868.2 198.6h7M868.3 200.6h7M868.5 202.6h7M869.0 202.5h7M869.2 200.6h7M869.5 198.8h7M870.0 195.8h7M870.5 196.8h7M870.8 198.6h7M871.0 200.4h7M871.5 199.9h7M871.8 197.5h7M872.0 195.1h7M872.5 197.2h7M872.8 199.9h7M873.0 202.6h7M873.2 199.9h7M873.5 197.2h7M874.0 196.5h7M874.2 198.6h7M874.5 200.7h7M875.0 201.4h7M875.2 198.7h7M875.5 196.0h7M876.0 193.9h7M876.2 195.8h7M876.5 197.6h7M877.0 199.1h7M877.2 196.8h7M877.5 194.6h7M878.0 195.4h7M878.2 197.9h7M878.5 200.4h7M878.7 197.5h7M878.8 194.6h7M879.0 191.7h7M879.2 189.0h7M879.3 186.3h7M879.5 183.6h7M879.8 181.2h7M880.0 178.7h7M880.2 176.2h7M880.5 173.7h7M881.0 170.8h7M881.2 172.2h7M881.5 173.7h7M881.7 175.7h7M881.8 177.7h7M882.0 179.8h7M882.5 177.6h7M882.8 175.5h7M883.0 173.3h7M883.2 171.2h7M883.5 169.1h7M884.0 166.9h7M884.2 169.0h7M884.5 171.1h7M885.0 171.2h7M885.5 168.6h7M886.0 167.4h7M886.2 170.1h7M886.5 172.8h7M887.0 170.1h7M887.5 170.0h7M887.7 172.1h7M887.8 174.1h7M888.0 176.1h7M888.2 174.3h7M888.5 172.5h7M889.0 171.3h7M889.2 172.8h7M889.5 174.4h7M890.0 177.1h7M890.2 174.4h7M890.5 171.6h7M891.0 172.5h7M891.2 174.8h7M891.3 177.1h7M891.5 179.3h7M892.0 179.3h7M892.2 177.2h7M892.5 175.0h7M892.7 177.2h7M892.8 179.5h7M893.0 181.7h7M893.5 182.2h7M894.0 179.4h7M894.5 178.0h7M894.8 180.0h7M895.0 182.0h7M895.5 184.8h7M895.7 186.8h7M895.8 188.9h7M896.0 191.0h7M896.2 193.0h7M896.5 195.1h7M896.8 196.8h7M897.0 198.4h7M897.2 200.6h7M897.5 202.8h7M898.0 204.3h7M898.2 201.8h7M898.5 199.3h7M899.0 197.6h7M899.5 200.1h7M900.0 202.7h7M900.2 204.9h7M900.3 207.2h7M900.5 209.4h7M901.0 209.2h7M901.2 206.5h7M901.5 203.9h7M902.0 201.2h7M902.2 198.3h7M902.5 195.5h7M902.8 193.3h7M903.0 191.0h7M903.2 188.8h7M903.5 186.6h7M903.8 184.7h7M904.0 182.8h7M904.5 185.6h7M904.8 187.1h7M905.0 188.7h7M905.5 191.4h7M906.0 190.5h7M906.2 188.3h7M906.5 186.1h7M906.7 184.1h7M906.8 182.1h7M907.0 180.1h7M907.5 180.7h7M907.7 183.0h7M907.8 185.2h7M908.0 187.4h7M908.2 185.7h7M908.5 183.9h7M908.8 182.0h7M909.0 180.0h7M909.2 182.4h7M909.5 184.8h7M909.8 182.3h7M910.0 179.8h7M910.5 182.7h7M911.0 183.1h7M911.2 181.6h7M911.5 180.1h7M912.0 178.4h7M912.2 175.8h7M912.5 173.2h7M912.7 170.4h7M912.8 167.7h7M913.0 164.9h7M913.2 162.9h7M913.3 160.9h7M913.5 158.9h7M913.8 160.6h7M914.0 162.3h7M914.5 163.1h7M914.8 160.5h7M915.0 157.9h7M915.5 158.6h7M915.8 160.8h7M916.0 163.0h7M916.5 165.1h7M916.8 163.4h7M917.0 161.7h7M917.5 164.0h7M918.0 177.6h7M918.1 180.3h7M918.2 183.0h7M918.4 185.6h7M918.5 188.3h7M918.8 191.2h7M919.0 194.1h7M919.2 196.7h7M919.5 199.2h7M919.8 201.9h7M920.0 204.6h7M920.2 206.7h7M920.5 208.8h7M921.0 209.6h7M921.2 206.7h7M921.5 203.8h7M922.0 203.0h7M922.5 205.9h7M922.8 207.7h7M923.0 209.5h7M923.5 208.6h7M923.8 206.4h7M924.0 204.2h7M924.5 201.4h7M924.8 198.4h7M925.0 195.5h7M925.5 193.1h7M926.0 195.2h7M926.2 192.7h7M926.5 190.3h7M926.8 192.2h7M927.0 194.2h7M927.2 191.5h7M927.5 188.8h7M928.0 189.1h7M928.2 190.7h7M928.5 192.4h7M929.0 190.7h7M929.2 188.5h7M929.5 186.3h7M930.0 186.3h7M930.5 187.7h7M930.8 185.9h7M931.0 184.2h7M931.5 186.8h7M931.8 184.9h7M932.0 183.0h7M932.5 185.9h7M933.0 185.4h7M933.2 183.3h7M933.5 181.2h7M933.8 178.7h7M934.0 176.1h7M934.5 175.3h7M934.8 177.9h7M935.0 180.5h7M935.2 178.1h7M935.5 175.7h7M935.8 173.0h7M936.0 170.3h7M936.5 170.0h7M937.0 172.8h7M937.2 170.7h7M937.5 168.7h7M938.0 166.9h7M938.2 169.1h7M938.3 171.4h7M938.5 173.6h7M939.0 172.7h7M939.2 170.4h7M939.5 168.1h7M940.0 200.5h7M940.2 193.9h7M940.0 165.1h7M940.5 164.7h7M940.8 166.3h7M941.0 167.9h7M941.5 168.4h7M941.8 166.7h7M942.0 165.0h7M942.2 163.2h7M942.5 161.3h7M942.8 163.5h7M943.0 165.7h7M943.5 165.1h7M944.0 162.4h7M944.5 163.2h7M944.6 165.6h7M944.8 168.0h7M944.9 170.4h7M945.0 172.7h7M945.2 175.5h7M945.3 178.3h7M945.5 181.1h7M946.0 183.8h7M946.2 186.7h7M946.5 189.5h7M946.8 187.9h7M947.0 186.3h7M947.5 186.8h7M947.7 189.2h7M947.8 191.5h7M948.0 193.8h7M948.5 194.4h7M948.8 192.7h7M949.0 191.0h7M949.5 190.7h7M949.8 193.6h7M950.0 196.4h7M950.5 197.4h7M950.8 194.9h7M951.0 192.4h7M951.5 193.6h7M951.8 195.9h7M952.0 198.2h7M952.5 200.5h7M952.8 198.6h7M953.0 196.7h7M953.5 194.5h7M953.8 196.9h7M954.0 199.4h7M954.5 202.2h7M955.0 201.0h7M955.2 199.2h7M955.5 197.4h7M955.8 194.7h7M956.0 191.9h7M956.2 193.9h7M956.5 195.8h7M957.0 198.2h7M957.2 196.3h7M957.5 194.4h7M957.8 192.8h7M958.0 191.3h7M958.5 189.6h7M958.8 192.0h7M959.0 194.5h7M959.5 194.8h7M959.8 192.5h7M960.0 190.2h7M960.2 188.2h7M960.5 186.2h7M961.0 184.7h7M961.2 186.9h7M961.5 189.1h7M961.8 191.7h7M962.0 194.4h7M962.5 193.7h7M962.7 191.4h7M962.8 189.2h7M963.0 187.0h7M963.2 185.3h7M963.5 183.6h7M964.0 183.5h7M964.2 185.2h7M964.5 187.0h7M964.8 188.6h7M965.0 190.1h7M965.2 191.6h7M965.5 193.2h7M966.0 196.1h7M966.5 197.4h7M967.0 194.9h7M967.2 193.0h7M967.5 191.1h7M967.8 188.7h7M968.0 186.3h7M968.2 184.2h7M968.5 182.1h7M968.8 184.0h7M969.0 185.9h7M969.5 187.6h7M970.0 185.0h7M970.2 182.4h7M970.5 179.8h7M971.0 178.7h7M971.2 180.6h7M971.5 182.5h7M972.0 182.1h7M972.5 179.4h7M972.8 177.3h7M973.0 175.1h7M973.5 173.9h7M973.7 176.0h7M973.8 178.1h7M974.0 180.2h7M974.5 177.8h7M974.8 175.7h7M975.0 173.6h7M975.2 171.1h7M975.5 168.6h7M975.8 170.4h7M976.0 172.2h7M976.5 170.0h7M976.8 168.0h7M977.0 166.0h7M977.2 164.4h7M977.5 162.8h7M978.0 163.8h7M978.2 165.7h7M978.5 167.5h7M978.8 169.1h7M979.0 170.7h7M979.5 173.5h7M979.8 175.5h7M980.0 177.5h7M980.2 175.4h7M980.3 173.4h7M980.5 171.3h7M981.0 173.6h7M981.2 176.3h7M981.5 178.9h7M982.0 179.5h7M982.2 177.5h7M982.5 175.6h7M983.0 177.7h7M983.5 180.3h7M983.8 182.8h7M984.0 185.3h7M984.5 187.2h7M985.0 184.7h7M985.2 182.5h7M985.5 180.4h7M985.8 177.5h7M986.0 174.7h7M986.5 173.8h7M986.7 176.1h7M986.8 178.4h7M987.0 180.7h7M987.5 183.1h7M987.8 181.0h7M988.0 178.8h7M988.2 176.4h7M988.5 173.9h7M988.8 172.2h7M989.0 170.5h7M989.2 168.2h7M989.5 166.0h7M989.8 163.9h7M990.0 161.7h7M990.5 158.9h7M991.0 156.3h7M991.2 158.7h7M991.5 161.0h7M991.8 163.0h7M992.0 165.1h7M992.2 167.3h7M992.3 169.5h7M992.5 171.8h7M993.0 174.4h7M993.2 172.3h7M993.5 170.2h7M993.8 168.4h7M994.0 166.6h7M994.2 168.9h7M994.3 171.2h7M994.5 173.5h7M994.8 175.0h7M995.0 176.5h7M995.2 178.3h7M995.5 180.1h7M996.0 180.0h7M996.2 177.7h7M996.5 175.4h7M996.8 173.1h7M997.0 170.8h7M997.5 170.0h7M997.8 171.9h7M998.0 173.8h7M998.2 175.5h7M998.5 177.3h7M999.0 175.3h7M999.2 173.2h7M999.3 171.0h7M999.5 168.8h7M999.8 166.7h7M1000.0 164.6h7M1000.5 162.2h7M1001.0 164.7h7M1001.5 167.6h7M1001.8 166.0h7M1002.0 164.4h7M1002.5 161.8h7M1002.7 159.4h7M1002.8 157.1h7M1003.0 154.7h7M1003.2 152.1h7M1003.3 149.5h7M1003.5 146.8h7M1004.0 144.1h7M1004.2 146.1h7M1004.5 148.1h7M1004.8 146.4h7M1005.0 144.7h7M1005.2 142.4h7M1005.5 140.1h7M1006.0 139.7h7M1006.2 141.8h7M1006.3 143.9h7M1006.5 145.9h7M1006.7 143.8h7M1006.8 141.7h7M1007.0 139.6h7M1007.5 138.7h7M1007.8 141.0h7M1008.0 143.3h7M1008.5 143.0h7M1008.8 140.8h7M1009.0 138.6h7M1009.5 137.9h7M1010.0 140.4h7M1010.5 137.9h7" fill="none" stroke="#c06e0e" stroke-width="7"/>
<path d="M40.5 327.9L41.0 323.0L41.5 318.8L42.0 318.6L42.5 321.4L43.0 324.3L43.5 326.2L44.0 323.1L44.5 319.6L45.0 320.0L45.5 326.9L46.0 326.2L46.5 322.4L47.0 320.0L47.5 323.9L48.0 329.0L48.5 329.2L49.0 324.2L49.5 321.6L50.0 325.0L50.5 328.7L51.0 324.2L51.5 320.4L52.0 319.1L52.5 322.7L53.0 325.8L53.5 319.4L54.0 312.5L54.5 309.4L55.0 305.1M62.0 267.9L62.5 262.4L63.0 259.1L63.5 256.1L64.0 253.3L64.5 252.3L65.0 255.9L65.5 258.0L66.0 254.9L66.5 258.4L67.0 254.6L67.5 255.0L68.0 259.3L68.5 256.1L69.0 257.1L69.5 262.2L70.0 263.2L70.5 258.8L71.0 259.3L71.5 263.6L72.0 260.7L72.5 264.4L73.0 263.1L73.5 266.3L74.0 264.3L74.5 267.1L75.0 269.3L75.5 266.6L76.0 265.6L76.5 268.6L77.0 272.2L77.5 267.6L78.0 271.7L78.5 272.8L79.0 269.3L79.5 272.8L80.0 269.9L80.5 269.1L81.0 272.3L81.5 272.2L82.0 269.9L82.5 273.9L83.0 271.4L83.5 273.9L84.0 272.5L84.5 275.8L85.0 272.7L85.5 276.5L86.0 274.6L86.5 277.9L87.0 274.3L87.5 276.9L88.0 279.7L88.5 277.2L89.0 279.8L89.5 278.2L90.0 281.7L90.5 283.1L91.0 280.0L91.5 283.6L92.0 280.9L92.5 283.7L93.0 283.4L93.5 282.0L94.0 284.8L94.5 284.9L95.0 288.7L95.5 288.1L96.0 291.3L96.5 295.6L97.0 292.5L97.5 294.4L98.0 299.8L98.5 302.3L99.0 298.1L99.5 302.9L100.0 304.9L100.5 298.5L101.0 295.3L101.5 298.9L102.0 300.6L102.5 296.2L103.0 293.1L103.5 286.5L104.0 284.7L104.5 287.5L105.0 282.7L105.5 282.4L106.0 285.0L106.5 284.3L107.0 281.8L107.5 279.1L108.0 284.1L108.5 286.1L109.0 284.7L109.5 287.7L110.0 292.1L110.5 288.3L111.0 290.4L111.5 294.4L112.0 291.7L112.5 295.4L113.0 293.3L113.5 298.0L114.0 298.2L114.5 296.6L115.0 301.1L115.5 297.9L116.0 299.2L116.5 302.0L117.0 307.5L117.5 310.1L118.0 306.9L118.5 302.5L119.0 305.7L119.5 312.2L120.0 318.9L120.5 320.5L121.0 313.5L121.5 308.8L122.0 313.3L122.5 318.1L123.0 322.0L123.5 327.8L124.0 330.4L124.5 333.4L125.0 330.8L125.5 326.8L126.0 324.0L126.5 317.1L127.0 317.8L127.5 320.8L128.0 324.5L128.5 327.2L129.0 328.2L129.5 321.6L130.0 315.4L130.5 314.3L131.0 320.9L131.5 321.9L132.0 316.3L132.5 311.9L133.0 312.0L133.5 317.4L134.0 320.7L134.5 314.3L135.0 309.8L135.5 305.8L136.0 303.6L136.5 307.3L137.0 310.4L137.5 312.5L138.0 309.8L138.5 306.3L138.8 285.6L139.0 290.8L139.0 302.5L139.5 307.2L140.0 310.5L140.5 312.3L141.0 306.5L141.5 302.5L142.0 307.2L142.5 312.5L143.0 306.3L143.5 301.8L144.0 303.2L144.5 308.8L145.0 310.4L145.5 304.2L146.0 303.3L146.5 307.6L147.0 310.7L147.5 313.5L148.0 317.7L148.5 314.5L149.0 311.6L149.5 305.3L150.0 307.5L150.5 311.4L151.0 315.9L151.5 319.1L152.0 323.6L152.5 327.3L153.0 325.4L153.5 318.5L154.0 314.6L154.5 310.5L155.0 308.0L155.5 303.8L156.0 300.4L156.5 298.2L157.0 301.9L157.5 304.8L158.0 309.1L158.5 311.4L159.0 306.2L159.5 301.4L160.0 295.5L160.5 292.8L161.0 299.3L161.5 301.1L162.0 295.4L162.5 290.4L163.0 296.7L163.5 298.8L164.0 293.0L164.5 291.3L165.0 297.5L165.5 297.4L166.0 292.3L166.5 292.5L167.0 298.1L167.5 299.0L168.0 296.1L168.5 289.8L169.0 289.2L169.5 294.5L170.0 296.5L170.5 294.0L171.0 289.2L171.5 286.4L172.0 287.5L172.5 279.2M188.5 306.0L189.0 310.0L189.5 314.0L190.0 319.2L190.5 313.3L191.0 311.5L191.5 318.2L192.0 322.0L192.5 322.9L193.0 318.6L193.5 322.8L194.0 327.2L194.5 329.0L195.0 325.2L195.5 321.2L196.0 324.9L196.5 328.9L197.0 324.7L197.5 317.9L198.0 317.7L198.5 324.5L199.0 320.8L199.5 313.8L200.0 306.8L200.5 285.7L201.0 263.2L201.5 259.2L202.0 259.5L202.5 263.0L203.0 258.4L203.5 262.4L204.0 258.9L204.5 258.6L205.0 262.1L205.5 262.2L206.0 257.7L206.5 257.2L207.0 260.1L207.5 262.5L208.0 257.4L208.5 257.1L209.0 261.4L209.5 261.3L210.0 258.5L210.5 257.3L211.0 260.3L211.5 260.4L212.0 255.0L212.5 258.7L213.0 258.8L213.5 255.0L214.0 257.6L214.5 258.3L215.0 253.2L215.5 258.3L216.0 257.1L216.5 250.7L217.0 250.8L217.5 253.8L218.0 256.9L218.5 255.7L219.0 252.4L219.5 254.8L220.0 252.1L220.5 250.7L221.0 253.7L221.5 239.7L222.0 225.3L222.5 215.4L223.0 210.2L223.5 206.0L224.0 212.8L224.5 218.5L225.0 226.2L225.5 229.5M232.5 206.3L233.0 202.5L233.5 202.7L234.0 207.1L234.5 205.5L235.0 202.4L235.5 199.7L236.0 206.0L236.5 203.2L237.0 199.9L237.5 202.6L238.0 197.5L238.5 200.8L239.0 201.2L239.5 198.6L240.0 194.4L240.5 190.4L241.0 187.2L241.5 184.7L242.0 184.8L242.5 191.6L243.0 194.3L243.5 188.1L244.0 188.8L244.5 191.5L245.0 196.1L245.5 194.7L246.0 189.9L246.5 194.2L247.0 197.2L247.5 194.5L248.0 191.9L248.5 193.8L249.0 198.0L249.5 194.2L250.0 193.0L250.5 196.7L251.0 199.1L251.5 195.4L252.0 191.7L252.5 198.4L253.0 200.4L253.5 195.7L254.0 191.6L254.5 195.8L255.0 200.5L255.5 202.7L256.0 196.5L256.5 190.7L257.0 184.5L257.5 178.5L258.0 176.9L258.5 182.9L259.0 185.8L259.5 189.2L260.0 195.1L260.5 198.7L261.0 202.6L261.5 195.7L262.0 189.2L262.5 182.3L263.0 178.6L263.5 179.6L264.0 184.1L264.5 187.7L265.0 192.0L265.5 193.4L266.0 187.6L266.5 189.5L267.0 193.3L267.5 194.8L268.0 190.1L268.5 193.7L269.0 197.3L269.5 196.7L270.0 195.1L270.5 199.9L271.0 200.1L271.5 197.2L272.0 200.2L272.5 201.8L273.0 199.1L273.5 198.9L274.0 202.3L274.5 202.5L275.0 199.6L275.2 225.4L275.5 203.1L276.0 200.2L276.5 200.1L277.0 203.6L277.5 203.6L278.0 200.2L278.5 200.0L279.0 202.5L279.5 203.3L280.0 199.9L280.5 197.6L281.0 202.3L281.5 199.5L282.0 195.8L282.5 198.7L283.0 200.5L283.5 196.2L284.0 196.7L284.5 203.4L285.0 206.1L285.5 199.7L286.0 201.6L286.5 205.0L287.0 210.8L287.5 212.4L288.0 207.3L288.5 213.8L289.0 218.4L289.5 221.6L290.0 222.7L290.5 217.3L291.0 212.0L291.5 207.8L292.0 205.3L292.5 209.1L293.0 213.9L293.5 210.7L294.0 203.9L294.5 204.0L295.0 210.7L295.5 217.6L296.0 222.3L296.5 225.0L297.0 231.6L297.5 236.9L298.0 238.9L298.5 232.8L299.0 229.3L299.5 225.0L300.0 222.6L300.5 226.9L301.0 231.8L301.5 232.8L302.0 229.2L302.5 226.0L303.0 231.9L303.5 231.3L304.0 228.2L304.5 224.8L305.0 230.1L305.5 230.2L306.0 224.7L306.5 220.2L307.0 217.9L307.5 223.2L308.0 227.9L308.5 229.6L309.0 226.2L309.5 221.6L310.0 223.2L310.5 227.7L311.0 230.6L311.5 235.1L312.0 240.4L312.5 243.3L313.0 249.1L313.5 244.3L314.0 239.8L314.5 235.6L315.0 229.2L315.5 225.9L316.0 232.0L316.5 229.1L317.0 224.4L317.5 222.7L318.0 226.1L318.5 222.0L319.0 216.1L319.5 216.8L320.0 220.5L320.5 221.4L321.0 218.0L321.5 214.3L322.0 212.9L322.5 215.5L323.0 217.7L323.5 211.0L324.0 212.0L324.5 215.0L325.0 215.5L325.5 211.4L326.0 209.7L326.5 214.8L327.0 218.6L327.5 214.3L328.0 212.6L328.5 219.6L329.0 223.4L329.5 217.5L330.0 217.3L330.5 223.5L331.0 227.1L331.5 232.5L332.0 235.1L332.5 229.6L333.0 227.0L333.5 227.6L334.0 232.1L334.5 236.9L335.0 243.4L335.5 246.5L336.0 249.1L336.5 250.0L337.0 247.0L337.5 242.9L338.0 239.4L338.5 234.3L339.0 233.4L339.5 236.5L340.0 235.4L340.5 232.2M346.5 202.5L347.0 196.5L347.5 194.7L348.0 197.3L348.5 192.5L349.0 188.8L349.5 189.3L350.0 185.4L350.5 182.7L351.0 179.4L351.5 181.0L352.0 176.4L352.5 174.5L353.0 176.2L353.5 172.7L354.0 166.8L354.5 165.4L355.0 169.0L355.5 164.0L356.0 159.5L356.5 157.2L357.0 161.3L357.5 154.9L358.0 152.8L358.5 156.4L359.0 156.2L359.5 151.9L360.0 155.5L360.5 156.8L361.0 153.0L361.5 156.2L362.0 152.1L362.5 155.3L363.0 151.4L363.5 150.0L364.0 152.8L364.5 153.1L365.0 150.5L365.5 147.5L366.0 147.5L366.5 150.1L367.0 151.9L367.5 150.6L368.0 153.4L368.5 160.5M375.5 210.3L376.0 212.0L376.5 207.9L377.0 210.4L377.5 215.2L378.0 215.4L378.5 212.5L379.0 215.3L379.5 212.3L380.0 216.4L380.5 212.8L381.0 215.9L381.5 213.4L382.0 211.8L382.5 217.9L383.0 217.4L383.5 213.3L384.0 213.9L384.5 217.4L385.0 218.0L385.5 215.0L386.0 214.4L386.5 218.7L387.0 215.2L387.5 219.5L388.0 219.9L388.5 215.4L389.0 218.9L389.5 219.5L390.0 215.9L390.5 220.4L391.0 220.6L391.5 217.4L392.0 221.4L392.5 222.1L393.0 217.8L393.5 220.3L394.0 217.1L394.5 198.4L395.0 194.8L395.5 192.1L396.0 195.3L396.5 193.7L397.0 189.7L397.5 184.9L398.0 183.8L398.5 187.2L399.0 185.0L399.5 182.0L400.0 181.0L400.5 182.4L401.0 178.0L401.5 177.8L402.0 181.8L402.5 177.5L403.0 174.1L403.5 178.8L404.0 177.7L404.5 174.6L405.0 174.3L405.5 178.8L406.0 179.4L406.5 175.1L407.0 176.6L407.5 183.1L408.0 183.4L408.5 180.6L409.0 184.5L409.5 187.6L410.0 185.0L410.5 189.2L411.0 186.3L411.5 190.7L412.0 192.9L412.5 189.5L413.0 191.8L413.5 196.1L414.0 198.7L414.5 203.7L415.0 206.9L415.5 208.0L416.0 203.7L416.5 208.8L417.0 213.6L417.5 219.0L418.0 221.0L418.5 216.6L419.0 214.8L419.5 220.4L420.0 223.4L420.5 226.4L421.0 223.7L421.5 219.9L422.0 218.6L422.5 223.0L423.0 226.4L423.5 222.8L424.0 220.6L424.5 225.4L425.0 223.6L425.5 219.4L426.0 217.1L426.5 222.5L427.0 222.9L427.5 219.4L428.0 212.6L428.5 208.5L429.0 203.5L429.5 207.4L430.0 208.0L430.5 201.8L431.0 202.3L431.5 206.0L432.0 209.4L432.5 206.9L433.0 201.1L433.5 198.5L434.0 202.4L434.5 207.0L435.0 184.2L435.5 177.5L436.0 174.2L436.5 180.5L437.0 187.0L437.5 193.1L438.0 198.4L438.5 201.0L439.0 205.5L439.5 210.9L440.0 214.5L440.5 215.1L441.0 211.0L441.5 210.0L442.0 214.1L442.5 208.9L443.0 212.5L443.5 208.5L444.0 214.1L444.5 213.0L445.0 208.5L445.5 207.9L446.0 211.6L446.5 215.1L447.0 214.6L447.5 211.4L448.0 209.0L448.5 213.9L449.0 220.3L449.5 220.2L450.0 214.7L450.5 215.6L451.0 220.0L451.5 226.2L452.0 220.8L452.5 217.7L453.0 224.4L453.5 228.4L454.0 227.2L454.5 222.5L455.0 219.3L455.5 225.0L456.0 227.3L456.5 222.7L457.0 220.8L457.5 224.2L458.0 226.2L458.5 221.2L459.0 219.6L459.5 224.3L460.0 225.1L460.5 218.2L461.0 219.3L461.5 223.3L462.0 223.4L462.5 217.3L463.0 214.6L463.5 215.7L464.0 220.6L464.5 221.5L465.0 214.9L465.5 212.7L466.0 218.7L466.5 219.1L467.0 213.8L467.5 211.7L468.0 215.1L468.5 216.2L469.0 211.7L469.5 215.0L470.0 217.7L470.5 223.7L471.0 227.8L471.5 229.2L472.0 224.2L472.5 225.3L473.0 229.7L473.5 233.7L474.0 240.4L474.5 241.8L475.0 239.1L475.5 238.4L476.0 243.5L476.5 250.1L477.0 252.2L477.5 245.5L478.0 245.7L478.5 250.1L479.0 253.0L479.5 258.4L480.0 260.8L480.5 255.2L481.0 252.2L481.5 252.1L482.0 258.6L482.5 261.6L483.0 261.8L483.5 258.5L484.0 257.5L484.5 263.2L485.0 267.1L485.5 264.2L486.0 262.1L486.5 265.7L487.0 267.1L487.5 264.6L488.0 262.0L488.5 263.4L489.0 259.9L489.5 246.4L490.0 242.8L490.5 237.7L491.0 233.2L491.5 230.1L492.0 235.5L492.5 236.1L493.0 231.9L493.5 225.8L494.0 223.2L494.5 228.3L495.0 229.2L495.5 223.0L496.0 219.0L496.5 213.8L497.0 211.4L497.5 216.6L498.0 217.5L498.5 212.0L499.0 237.4L499.2 229.8L499.0 207.8L499.5 210.4L500.0 214.0L500.5 212.1L501.0 209.4L501.5 209.1L502.0 212.5L502.5 210.3L503.0 213.2L503.5 210.8L504.0 215.2L504.5 211.5L505.0 215.1L505.5 215.5L506.0 212.1L506.5 215.8L507.0 218.6L507.5 216.9L508.0 220.4L508.5 221.1L509.0 218.8L509.5 222.4L510.0 219.1L510.5 218.7L511.0 223.8L511.5 226.4L512.0 223.2L512.5 220.5L513.0 217.5L513.5 214.7L514.0 217.9L514.5 223.1L515.0 227.1L515.5 227.5L516.0 221.1L516.5 216.4L517.0 211.4L517.5 207.7L518.0 208.1L518.5 214.8L519.0 215.8L519.5 213.1L520.0 211.2L520.5 218.8L521.0 228.6L521.5 233.1L522.0 234.0L522.5 231.5L523.0 235.7L523.5 233.5L524.0 236.6L524.5 234.6L525.0 237.7L525.5 235.0L526.0 233.5L526.5 237.1L527.0 233.6L527.5 237.8L528.0 236.0L528.5 239.0L529.0 237.8L529.5 240.6L530.0 239.5L530.5 243.2L531.0 260.0L531.5 263.2L532.0 268.7L532.5 267.7L533.0 264.3L533.5 263.8L534.0 266.4L534.5 263.3L535.0 260.8L535.5 265.1L536.0 259.8L536.5 258.9L537.0 264.2L537.5 265.7L538.0 263.0L538.5 257.2L539.0 255.4L539.5 261.9L540.0 263.0L540.5 256.7L541.0 254.7L541.5 259.4L542.0 263.4L542.5 269.1L543.0 262.6L543.5 263.4L544.0 268.1L544.5 271.9L545.0 272.6L545.5 268.5L546.0 289.3L546.5 293.1L547.0 295.5L547.5 291.8L548.0 294.7L548.5 291.0L549.0 295.3L549.5 292.0L550.0 287.5L550.5 286.5L551.0 291.6L551.5 292.9L552.0 289.5L552.5 286.7L553.0 288.2L553.5 293.0L554.0 294.1L554.5 291.6L555.0 295.0L555.5 296.5L556.0 294.4L556.5 297.1L557.0 299.4L557.5 296.9L558.0 302.1L558.5 296.9L559.0 300.3L559.5 304.8L560.0 301.6L560.5 300.8L561.0 305.3L561.5 307.1L562.0 301.3L562.5 303.3L563.0 307.3L563.5 310.3L564.0 308.5L564.5 318.4L565.0 328.3L565.5 330.9L566.0 331.9L566.5 324.4L567.0 315.5L567.5 310.3L568.0 312.9L568.5 303.8L569.0 296.3L569.5 293.3L570.0 292.6L570.5 297.3L571.0 296.8L571.5 293.8L572.0 290.1L572.5 295.3L573.0 294.5L573.5 291.3L574.0 288.7L574.5 291.1L575.0 277.5L575.5 264.1L576.0 260.6L576.5 258.0L577.0 259.6L577.5 250.7L578.0 244.4L578.5 241.7L579.0 237.2L579.5 226.0L580.0 208.1L580.5 204.8L581.0 200.0L581.5 197.7L582.0 200.3L582.5 196.7L583.0 198.3L583.5 192.9L584.0 192.2L584.5 193.5L585.0 189.9L585.5 187.6L586.0 190.4L586.5 186.5L587.0 184.8L587.5 186.6L588.0 182.0L588.5 181.5L589.0 184.6L589.5 185.1L590.0 180.8L590.5 178.8L591.0 181.7L591.5 176.7L592.0 175.1L592.5 180.8L593.0 178.8L593.5 173.6L594.0 173.6L594.5 177.3L595.0 173.7L595.5 177.8L596.0 181.0L596.5 175.9L597.0 177.5L597.5 183.4L598.0 185.5L598.5 180.8L598.8 207.4L599.0 201.8L599.0 185.2L599.5 188.4L600.0 182.6L600.5 183.8L601.0 187.8L601.5 188.7L602.0 182.3L602.5 176.2L603.0 174.5L603.5 179.1L604.0 185.1L604.5 175.1L605.0 161.2L605.5 158.6L606.0 157.4L606.5 162.5L607.0 166.9L607.5 167.6L608.0 162.4L608.5 158.2L609.0 152.4L609.5 148.6L610.0 154.9L610.5 161.4L611.0 169.5L611.5 174.2L612.0 178.1L612.5 183.2L613.0 188.3L613.5 191.2L614.0 197.0L614.5 193.2L615.0 197.6L615.5 201.6L616.0 198.9L616.5 199.7L617.0 204.2L617.5 203.2L618.0 205.2L618.5 201.1L619.0 198.7L619.5 203.7L620.0 198.8L620.5 195.9L621.0 190.9L621.5 185.8L622.0 179.3L622.5 172.5L623.0 171.5L623.5 176.8L624.0 179.1L624.5 175.8L625.0 171.9L625.5 166.5L626.0 168.8L626.5 162.3L627.0 161.2L627.5 163.0L628.0 159.2L628.5 156.1L629.0 158.6L629.5 153.3L630.0 151.6L630.5 154.3L631.0 152.9L631.5 149.0L632.0 143.4L632.5 140.9L633.0 135.8L633.5 130.3L634.0 128.0L634.5 133.0L635.0 132.4L635.5 127.5L636.0 124.1L636.5 126.1L637.0 123.9L637.5 127.2L638.0 128.2L638.5 126.7L639.0 131.7L639.5 126.0L640.0 126.6L640.5 130.3L641.0 133.2L641.5 137.2L642.0 133.0L642.5 134.3L643.0 139.4L643.5 140.4L644.0 136.0L644.5 138.7L645.0 142.6L645.5 132.3L646.0 121.4L646.5 114.6L647.0 113.9L647.5 117.5L648.0 118.4L648.5 112.0L649.0 107.3L649.5 102.1L650.0 105.4L650.5 109.5L651.0 113.3L651.5 118.3L652.0 121.3L652.5 126.2L653.0 130.5L653.5 131.1L654.0 127.0L654.5 123.4L655.0 146.1L655.5 149.6L656.0 152.3L656.5 157.8L657.0 157.8L657.5 151.3L658.0 148.2L658.5 143.8L659.0 142.9L659.5 146.1L660.0 146.6L660.5 143.2L661.0 139.4L661.5 142.9L662.0 144.0L662.5 138.3L663.0 134.1L663.5 137.7L664.0 138.8L664.5 132.4L665.0 129.3L665.5 127.7L666.0 101.6L666.2 108.7L666.0 132.8L666.5 136.6L667.0 140.9L667.5 141.3L668.0 143.7L668.5 161.2L669.0 166.0L669.5 169.8L670.0 171.2L670.5 167.7L671.0 164.6L671.5 164.4L672.0 181.4L672.2 173.8L672.0 170.8L672.5 170.7L673.0 168.0L673.5 166.3L674.0 170.4L674.5 170.5L675.0 166.0L675.5 171.3L676.0 173.9L676.5 167.3L677.0 166.8L677.5 169.5L678.0 172.9L678.5 176.8L679.0 180.3L679.5 176.4L680.0 171.1L680.5 167.8L681.0 170.2L681.5 174.7L682.0 180.2L682.5 184.3L683.0 186.8L683.5 189.5L684.0 183.1L684.5 180.8L685.0 184.4L685.5 187.4L686.0 193.5L686.5 196.9L687.0 199.8L687.5 202.6L688.0 196.7L688.5 197.1L689.0 200.0L689.5 203.3L690.0 197.5L690.5 198.3L691.0 202.8L691.5 201.6L692.0 197.1L692.5 198.2L693.0 200.9L693.5 201.7L694.0 198.1L694.5 197.4L695.0 202.8L695.5 204.1L695.6 188.6L695.8 194.0L696.0 200.2L696.5 198.9L697.0 204.4L697.5 206.8L698.0 202.0L698.5 200.5L699.0 207.0L699.5 207.7L700.0 203.7L700.5 202.0L701.0 208.0L701.5 211.2L702.0 209.7L702.5 204.5L703.0 208.3L703.5 212.5L704.0 215.4L704.2 229.4L704.5 224.6L704.5 209.7L705.0 208.2L705.5 212.3L706.0 215.6L706.5 218.4L707.0 221.0L707.5 222.6L708.0 215.7L708.5 210.7L709.0 207.7L709.5 207.5L710.0 210.8L710.5 215.8L711.0 217.6L711.5 210.9L712.0 192.6L712.2 197.6L712.0 210.7L712.5 213.3L713.0 219.3L713.5 225.5L714.0 227.7L714.5 221.0L715.0 219.6L715.5 225.9L716.0 231.7L716.5 232.0L717.0 227.8L717.5 225.4L718.0 231.7L718.5 233.6L719.0 228.6L719.5 228.1L720.0 231.6L720.5 226.9L721.0 227.5L721.5 232.6L722.0 231.9L722.5 228.7L723.0 226.8L723.5 231.3L724.0 231.2L724.5 228.6L725.0 228.1L725.5 231.3L726.0 226.5L726.5 226.7L727.0 231.2L727.5 230.3L728.0 225.6L728.5 229.4L729.0 231.0L729.5 228.1L730.0 225.3L730.5 228.5L731.0 225.4L731.5 228.1L732.0 224.8L732.5 228.6L733.0 227.4L733.5 222.7L734.0 222.3L734.5 226.3L735.0 226.0L735.5 221.5L736.0 221.2L736.5 225.3L737.0 225.0L737.5 220.1L738.0 218.4L738.5 223.1L739.0 220.1L739.5 217.8L740.0 220.7L740.5 222.7L741.0 219.2L741.5 216.3L742.0 221.1L742.5 222.1L743.0 217.8L743.5 215.9L744.0 221.6L744.5 221.0L745.0 214.1L745.5 213.3L746.0 219.6L746.5 219.1L747.0 213.1L747.5 212.3L748.0 215.1L748.5 216.1L749.0 213.6L749.5 209.8L750.0 214.2L750.5 215.2L751.0 210.6L751.5 217.2L752.0 220.7L752.5 214.8L753.0 215.6L753.5 218.7L754.0 222.9L754.5 224.5L755.0 219.9L755.5 240.9L756.0 243.9L756.5 247.2L757.0 243.6L757.5 243.7L758.0 247.4L758.5 244.4L759.0 242.0L759.5 247.0L760.0 249.1L760.5 244.9L761.0 244.1L761.5 249.0L762.0 249.3L762.5 245.2L763.0 245.8L763.5 249.1L764.0 276.9L764.5 283.1L765.0 287.8L765.5 291.0L766.0 291.3L766.5 284.8L767.0 281.2L767.5 285.2L768.0 286.2L768.5 283.0L769.0 280.1L769.5 285.2L770.0 285.4L770.5 282.8L771.0 280.2L771.5 282.1L772.0 284.8L772.5 286.1L773.0 282.3L773.5 280.7L774.0 285.6L774.5 284.3L775.0 281.7L775.5 279.9L776.0 284.4L776.5 279.0L777.0 278.4L777.5 282.8L778.0 277.2L778.5 273.3L779.0 274.3L779.5 279.0L780.0 279.8L780.5 277.0L781.0 273.0L781.5 274.5L782.0 279.1L782.5 281.6L783.0 278.5L783.5 276.0L784.0 275.7L784.5 280.2L785.0 285.3L785.5 285.6L786.0 281.7L786.5 278.5L787.0 285.2L787.5 286.4L788.0 281.3L788.5 280.3L789.0 284.4L789.5 287.6L790.0 283.2L790.5 287.9L791.0 289.2L791.5 285.5L792.0 284.7L792.5 294.5L793.0 306.7L793.5 313.1L794.0 318.5L794.5 319.7L795.0 316.8L795.5 317.5L796.0 321.5L796.5 324.6L797.0 324.7L797.5 321.5L798.0 325.5L798.5 328.3L799.0 323.9L799.5 323.4L800.0 326.1L800.5 327.9L801.0 323.2L801.5 318.0L802.0 314.4L802.5 309.8L803.0 303.7L803.5 293.7L804.0 287.9L804.5 287.9L805.0 291.1L805.5 294.3L806.0 295.3L806.5 289.1L807.0 291.1L807.5 296.5L808.0 296.4L808.5 291.5L809.0 297.2L809.5 296.9L810.0 292.3L810.5 296.1L811.0 298.1L811.5 295.0L812.0 294.8L812.5 300.2L813.0 303.2L813.5 298.5L814.0 307.5L814.5 316.0L815.0 321.0L815.5 321.4L816.0 318.1L816.5 316.2L817.0 319.5L817.5 322.1L818.0 323.0L818.5 316.1L819.0 314.5L819.5 319.1L820.0 315.9L820.5 313.0L821.0 307.2L821.5 306.1L822.0 308.8L822.5 303.9L823.0 295.7L823.5 292.2L824.0 295.9L824.5 297.0L825.0 291.1L825.5 290.1L826.0 297.1L826.5 296.2L827.0 293.0L827.5 288.6L828.0 292.9L828.5 288.9L829.0 287.2L829.5 290.4L830.0 289.6L830.5 285.1L831.0 287.4L831.5 291.5L832.0 291.2L832.5 287.9L833.0 289.9L833.5 293.7L834.0 297.3L834.5 290.7L835.0 290.5L835.5 293.4L836.0 296.7L836.5 300.4L837.0 294.7L837.5 298.4L838.0 309.0L838.5 321.7L839.0 324.4L839.5 329.2L840.0 332.1L840.5 334.7L841.0 338.6L841.5 332.2L842.0 332.8L842.5 336.0L843.0 341.5L843.5 341.8L844.0 337.0L844.5 336.9L845.0 341.6L845.5 348.2L846.0 348.1L846.5 342.3L847.0 338.6L847.5 339.0L848.0 341.8L848.5 344.5L849.0 349.5L849.5 353.7L850.0 356.2L850.5 358.0L851.0 353.1L851.5 348.1L852.0 341.7L852.5 348.2L853.0 354.2L853.5 361.1L854.0 365.4L854.5 365.6L855.0 363.1L855.5 359.8L856.0 363.5L856.5 364.5L857.0 360.9L857.5 357.5L858.0 358.1L858.5 360.8L859.0 362.3L859.5 356.9L860.0 355.3L860.5 361.5L861.0 356.7L861.5 356.6L862.0 359.0L862.5 354.6L863.0 358.5L863.5 353.6L864.0 353.7L864.5 358.2L865.0 352.9L865.5 353.2L866.0 356.2L866.5 351.3L867.0 352.0L867.5 356.8L868.0 355.8L868.5 349.6L869.0 347.6L869.5 353.8L870.0 350.8L870.5 344.9L871.0 349.1L871.5 348.8L872.0 345.8L872.5 342.6L873.0 342.6L873.5 347.5L874.0 348.7L874.5 344.4L875.0 340.8L875.5 345.3L876.0 345.6L876.5 340.1L877.0 339.9L877.5 343.4L878.0 344.3L878.5 340.1L879.0 337.0L879.5 340.4L880.0 345.5L880.5 341.5L881.0 337.9L881.5 337.5L882.0 340.9L882.5 345.3L883.0 344.9L883.5 323.7L884.0 319.2L884.5 316.7L885.0 319.7L885.5 315.6L886.0 311.4L886.5 306.3L887.0 300.9L887.5 307.7L888.0 306.4L888.5 303.6L889.0 300.6L889.5 305.5L890.0 303.8L890.5 299.5L891.0 304.1L891.5 304.4L892.0 299.8L892.5 300.5L893.0 305.2L893.5 306.9L894.0 302.6L894.5 304.7L895.0 309.7L895.5 310.7L896.0 307.7L896.5 308.5L897.0 311.4L897.5 317.3L898.0 320.3L898.5 316.3L899.0 321.0L899.5 323.7L900.0 325.3L900.5 322.3L901.0 325.5L901.5 329.5L902.0 333.7L902.5 326.8L903.0 325.3L903.5 331.7L904.0 336.7L904.5 341.5L905.0 345.9L905.5 348.6L906.0 346.4L906.5 340.4L907.0 332.4L907.5 325.2L908.0 320.5L908.5 319.5L909.0 330.2L909.5 337.3L910.0 342.2L910.5 342.2L911.0 338.3L911.5 338.3L912.0 344.4L912.5 344.6L913.0 339.2L913.5 345.7L914.0 348.5L914.5 346.6L915.0 343.8L915.5 338.6L916.0 330.3L916.5 325.3L917.0 324.0L917.5 329.6L918.0 333.0L918.5 336.0L919.0 329.3L919.5 329.4L920.0 335.0L920.5 341.8L921.0 345.4L921.5 352.0L922.0 357.6L922.5 360.8L923.0 363.6L923.5 369.2L924.0 373.0L924.5 376.6L925.0 381.7L925.5 385.6L926.0 389.6L926.5 383.0L927.0 379.8L927.5 370.2L928.0 366.0L928.5 363.3L929.0 363.2L929.5 366.7L930.0 368.2L930.5 363.7L931.0 361.2L931.5 367.5L932.0 365.1L932.5 361.0L933.0 365.1L933.5 363.5L934.0 357.5L934.5 362.1L935.0 361.6L935.5 356.7L936.0 355.6L936.5 361.0L937.0 354.3L937.5 351.7L938.0 351.0L938.5 355.0L939.0 354.8L939.5 350.3L940.0 346.7L940.5 341.6L941.0 346.1L941.5 343.3L942.0 338.3L942.5 332.3L943.0 329.0L943.5 331.6L944.0 334.7L944.5 329.3L945.0 325.2L945.5 321.0L946.0 318.3L946.5 321.5L947.0 327.4L947.2 295.6L947.5 320.9L948.0 320.6L948.5 323.6L949.0 326.9L949.5 323.9L950.0 320.8L950.5 325.8L951.0 329.1L951.5 331.2L952.0 328.1L952.5 326.5L953.0 331.3L953.5 334.9L954.0 328.9L954.5 330.6L955.0 334.1L955.5 337.4L956.0 333.7L956.5 332.0L957.0 338.5L957.5 339.3L958.0 335.7L958.5 335.2L959.0 332.4L959.5 322.9L960.0 317.6L960.5 316.9L961.0 320.9L961.5 321.4L962.0 315.8L962.5 321.5L963.0 317.9L963.5 316.0L964.0 319.2L964.5 321.9L965.0 318.5L965.5 332.9L966.0 337.6L966.5 335.0L967.0 337.9L967.5 334.4L968.0 338.3L968.5 335.1L969.0 338.4L969.5 331.6L970.0 323.8L970.5 317.6L971.0 315.9L971.5 318.4L972.0 313.9L972.5 315.0L973.0 321.4L973.5 322.5L974.0 320.5L974.5 323.6L975.0 323.7L975.5 320.2L976.0 318.5L976.5 322.0L977.0 320.7L977.5 315.1L978.0 314.1L978.5 317.7L979.0 311.5L979.5 308.5L980.0 313.9L980.5 315.0L981.0 308.9L981.2 290.6L981.4 296.6L981.5 306.3L982.0 306.7L982.5 311.1L983.0 309.7L983.5 305.7L984.0 303.0L984.5 306.8L985.0 309.7L985.5 308.9L986.0 304.4L986.5 304.4L987.0 307.1L987.5 310.4L988.0 306.7L988.5 303.1L989.0 306.6L989.5 310.4L990.0 305.6L990.5 298.8L991.0 294.0L991.5 291.7L992.0 297.9L992.5 298.6L992.9 274.6L993.1 279.3L993.0 292.5L993.5 290.0L994.0 293.0L994.5 295.7L995.0 290.9L995.5 297.3L996.0 300.1L996.5 305.4L997.0 309.9L997.5 314.7L998.0 309.2L998.5 308.9L999.0 312.6L999.5 308.5L1000.0 305.1L1000.5 311.3L1001.0 309.5L1001.5 305.0L1002.0 301.1L1002.5 303.7L1003.0 307.7L1003.5 302.8L1004.0 296.3L1004.5 293.2L1005.0 294.4L1005.5 302.9L1006.0 310.5L1006.5 314.4L1007.0 317.4L1007.5 313.0L1008.0 317.2L1008.5 320.4L1009.0 316.1L1009.5 319.3L1010.0 319.9L1010.5 314.8L1011.0 320.7L1011.5 314.9L1012.0 311.6L1012.5 311.1L1013.0 315.0L1013.5 319.2L1014.0 320.4" fill="none" stroke="#4fad1d" stroke-width="1.7" stroke-linecap="round"/>
<path d="M40.5 327.9h0M40.8 325.4h0M41.0 323.0h0M41.2 320.9h0M41.5 318.8h0M42.0 318.6h0M42.5 321.4h0M43.0 324.3h0M43.5 326.2h0M43.8 324.6h0M44.0 323.1h0M44.2 321.4h0M44.5 319.6h0M45.0 320.0h0M45.2 322.3h0M45.3 324.6h0M45.5 326.9h0M46.0 326.2h0M46.2 324.3h0M46.5 322.4h0M47.0 320.0h0M47.2 321.9h0M47.5 323.9h0M47.8 326.4h0M48.0 329.0h0M48.5 329.2h0M48.8 326.7h0M49.0 324.2h0M49.5 321.6h0M49.8 323.3h0M50.0 325.0h0M50.2 326.9h0M50.5 328.7h0M50.8 326.5h0M51.0 324.2h0M51.2 322.3h0M51.5 320.4h0M52.0 319.1h0M52.2 320.9h0M52.5 322.7h0M52.8 324.3h0M53.0 325.8h0M53.2 323.7h0M53.3 321.5h0M53.5 319.4h0M53.7 317.1h0M53.8 314.8h0M54.0 312.5h0M54.2 311.0h0M54.5 309.4h0M54.8 307.3h0M62.0 267.9h0M62.2 265.1h0M62.5 262.4h0M62.8 260.7h0M63.0 259.1h0M63.2 257.6h0M63.5 256.1h0M64.0 253.3h0M64.5 252.3h0M64.8 254.1h0M65.0 255.9h0M65.5 258.0h0M65.8 256.4h0M66.0 254.9h0M66.2 256.6h0M66.5 258.4h0M66.8 256.5h0M67.0 254.6h0M67.5 255.0h0M67.8 257.1h0M68.0 259.3h0M68.2 257.7h0M68.5 256.1h0M69.0 257.1h0M69.2 259.6h0M69.5 262.2h0M70.0 263.2h0M70.2 261.0h0M70.5 258.8h0M71.0 259.3h0M71.2 261.5h0M71.5 263.6h0M72.0 260.7h0M72.2 262.6h0M72.5 264.4h0M73.0 263.1h0M73.2 264.7h0M73.5 266.3h0M74.0 264.3h0M74.5 267.1h0M75.0 269.3h0M75.5 266.6h0M76.0 265.6h0M76.5 268.6h0M76.8 270.4h0M77.0 272.2h0M77.2 269.9h0M77.5 267.6h0M77.8 269.6h0M78.0 271.7h0M78.5 272.8h0M78.8 271.1h0M79.0 269.3h0M79.2 271.1h0M79.5 272.8h0M80.0 269.9h0M80.5 269.1h0M80.8 270.7h0M81.0 272.3h0M81.5 272.2h0M82.0 269.9h0M82.2 271.9h0M82.5 273.9h0M83.0 271.4h0M83.5 273.9h0M84.0 272.5h0M84.2 274.1h0M84.5 275.8h0M84.8 274.2h0M85.0 272.7h0M85.2 274.6h0M85.5 276.5h0M86.0 274.6h0M86.2 276.2h0M86.5 277.9h0M86.8 276.1h0M87.0 274.3h0M87.5 276.9h0M88.0 279.7h0M88.5 277.2h0M89.0 279.8h0M89.5 278.2h0M89.8 279.9h0M90.0 281.7h0M90.5 283.1h0M90.8 281.6h0M91.0 280.0h0M91.2 281.8h0M91.5 283.6h0M92.0 280.9h0M92.5 283.7h0M93.0 283.4h0M93.5 282.0h0M94.0 284.8h0M94.5 284.9h0M94.8 286.8h0M95.0 288.7h0M95.5 288.1h0M95.8 289.7h0M96.0 291.3h0M96.2 293.5h0M96.5 295.6h0M96.8 294.1h0M97.0 292.5h0M97.5 294.4h0M97.8 297.1h0M98.0 299.8h0M98.5 302.3h0M98.8 300.2h0M99.0 298.1h0M99.2 300.5h0M99.5 302.9h0M100.0 304.9h0M100.2 302.8h0M100.3 300.6h0M100.5 298.5h0M100.8 296.9h0M101.0 295.3h0M101.2 297.1h0M101.5 298.9h0M102.0 300.6h0M102.2 298.4h0M102.5 296.2h0M102.8 294.6h0M103.0 293.1h0M103.2 290.9h0M103.3 288.7h0M103.5 286.5h0M104.0 284.7h0M104.5 287.5h0M104.8 285.1h0M105.0 282.7h0M105.5 282.4h0M106.0 285.0h0M106.5 284.3h0M107.0 281.8h0M107.5 279.1h0M107.8 281.6h0M108.0 284.1h0M108.5 286.1h0M109.0 284.7h0M109.2 286.2h0M109.5 287.7h0M109.8 289.9h0M110.0 292.1h0M110.2 290.2h0M110.5 288.3h0M111.0 290.4h0M111.2 292.4h0M111.5 294.4h0M112.0 291.7h0M112.2 293.6h0M112.5 295.4h0M113.0 293.3h0M113.2 295.6h0M113.5 298.0h0M114.0 298.2h0M114.5 296.6h0M114.8 298.8h0M115.0 301.1h0M115.2 299.5h0M115.5 297.9h0M116.0 299.2h0M116.5 302.0h0M116.8 304.8h0M117.0 307.5h0M117.5 310.1h0M117.8 308.5h0M118.0 306.9h0M118.2 304.7h0M118.5 302.5h0M118.8 304.1h0M119.0 305.7h0M119.2 307.8h0M119.3 310.0h0M119.5 312.2h0M119.7 314.4h0M119.8 316.7h0M120.0 318.9h0M120.5 320.5h0M120.7 318.1h0M120.8 315.8h0M121.0 313.5h0M121.2 311.2h0M121.5 308.8h0M121.8 311.1h0M122.0 313.3h0M122.2 315.7h0M122.5 318.1h0M122.8 320.1h0M123.0 322.0h0M123.2 324.9h0M123.5 327.8h0M124.0 330.4h0M124.2 331.9h0M124.5 333.4h0M125.0 330.8h0M125.2 328.8h0M125.5 326.8h0M126.0 324.0h0M126.2 321.7h0M126.3 319.4h0M126.5 317.1h0M127.0 317.8h0M127.2 319.3h0M127.5 320.8h0M127.8 322.7h0M128.0 324.5h0M128.5 327.2h0M129.0 328.2h0M129.2 326.0h0M129.3 323.8h0M129.5 321.6h0M129.7 319.5h0M129.8 317.5h0M130.0 315.4h0M130.5 314.3h0M130.7 316.5h0M130.8 318.7h0M131.0 320.9h0M131.5 321.9h0M131.8 319.1h0M132.0 316.3h0M132.2 314.1h0M132.5 311.9h0M133.0 312.0h0M133.2 314.7h0M133.5 317.4h0M133.8 319.0h0M134.0 320.7h0M134.2 318.6h0M134.3 316.5h0M134.5 314.3h0M134.8 312.1h0M135.0 309.8h0M135.2 307.8h0M135.5 305.8h0M136.0 303.6h0M136.2 305.5h0M136.5 307.3h0M136.8 308.9h0M137.0 310.4h0M137.5 312.5h0M138.0 309.8h0M138.2 308.0h0M138.5 306.3h0M138.8 285.6h0M139.0 290.8h0M139.0 302.5h0M139.2 304.8h0M139.5 307.2h0M139.8 308.9h0M140.0 310.5h0M140.5 312.3h0M140.8 309.4h0M141.0 306.5h0M141.2 304.5h0M141.5 302.5h0M141.8 304.8h0M142.0 307.2h0M142.2 309.8h0M142.5 312.5h0M142.7 310.4h0M142.8 308.4h0M143.0 306.3h0M143.2 304.1h0M143.5 301.8h0M144.0 303.2h0M144.2 306.0h0M144.5 308.8h0M145.0 310.4h0M145.2 308.3h0M145.3 306.3h0M145.5 304.2h0M146.0 303.3h0M146.2 305.5h0M146.5 307.6h0M146.8 309.2h0M147.0 310.7h0M147.5 313.5h0M147.8 315.6h0M148.0 317.7h0M148.2 316.1h0M148.5 314.5h0M149.0 311.6h0M149.2 309.5h0M149.3 307.4h0M149.5 305.3h0M150.0 307.5h0M150.2 309.5h0M150.5 311.4h0M150.8 313.7h0M151.0 315.9h0M151.2 317.5h0M151.5 319.1h0M151.8 321.4h0M152.0 323.6h0M152.2 325.5h0M152.5 327.3h0M153.0 325.4h0M153.2 323.1h0M153.3 320.8h0M153.5 318.5h0M153.8 316.6h0M154.0 314.6h0M154.2 312.6h0M154.5 310.5h0M155.0 308.0h0M155.2 305.9h0M155.5 303.8h0M155.8 302.1h0M156.0 300.4h0M156.5 298.2h0M156.8 300.0h0M157.0 301.9h0M157.5 304.8h0M157.8 306.9h0M158.0 309.1h0M158.5 311.4h0M158.8 308.8h0M159.0 306.2h0M159.2 303.8h0M159.5 301.4h0M159.8 298.4h0M160.0 295.5h0M160.5 292.8h0M160.7 295.0h0M160.8 297.1h0M161.0 299.3h0M161.5 301.1h0M161.8 298.3h0M162.0 295.4h0M162.2 292.9h0M162.5 290.4h0M162.7 292.5h0M162.8 294.6h0M163.0 296.7h0M163.5 298.8h0M163.8 295.9h0M164.0 293.0h0M164.5 291.3h0M164.7 293.4h0M164.8 295.4h0M165.0 297.5h0M165.5 297.4h0M165.8 294.9h0M166.0 292.3h0M166.5 292.5h0M166.8 295.3h0M167.0 298.1h0M167.5 299.0h0M167.8 297.5h0M168.0 296.1h0M168.2 294.0h0M168.3 291.9h0M168.5 289.8h0M169.0 289.2h0M169.2 291.9h0M169.5 294.5h0M170.0 296.5h0M170.5 294.0h0M170.8 291.6h0M171.0 289.2h0M171.5 286.4h0M172.0 287.5h0M172.2 284.7h0M172.3 282.0h0M188.5 306.0h0M188.8 308.0h0M189.0 310.0h0M189.2 312.0h0M189.5 314.0h0M189.8 316.6h0M190.0 319.2h0M190.2 316.2h0M190.5 313.3h0M191.0 311.5h0M191.2 313.7h0M191.3 315.9h0M191.5 318.2h0M191.8 320.1h0M192.0 322.0h0M192.5 322.9h0M192.8 320.8h0M193.0 318.6h0M193.2 320.7h0M193.5 322.8h0M193.8 325.0h0M194.0 327.2h0M194.5 329.0h0M194.8 327.1h0M195.0 325.2h0M195.2 323.2h0M195.5 321.2h0M195.8 323.0h0M196.0 324.9h0M196.2 326.9h0M196.5 328.9h0M196.8 326.8h0M197.0 324.7h0M197.2 322.4h0M197.3 320.1h0M197.5 317.9h0M198.0 317.7h0M198.2 320.0h0M198.3 322.2h0M198.5 324.5h0M198.8 322.7h0M199.0 320.8h0M199.2 318.5h0M199.3 316.2h0M199.5 313.8h0M199.7 311.5h0M199.8 309.1h0M200.0 306.8h0M200.5 285.7h0M201.0 263.2h0M201.2 261.2h0M201.5 259.2h0M202.0 259.5h0M202.2 261.2h0M202.5 263.0h0M202.8 260.7h0M203.0 258.4h0M203.2 260.4h0M203.5 262.4h0M203.8 260.6h0M204.0 258.9h0M204.5 258.6h0M204.8 260.4h0M205.0 262.1h0M205.5 262.2h0M205.8 259.9h0M206.0 257.7h0M206.5 257.2h0M207.0 260.1h0M207.5 262.5h0M207.8 260.0h0M208.0 257.4h0M208.5 257.1h0M208.8 259.3h0M209.0 261.4h0M209.5 261.3h0M210.0 258.5h0M210.5 257.3h0M210.8 258.8h0M211.0 260.3h0M211.5 260.4h0M211.8 257.7h0M212.0 255.0h0M212.2 256.9h0M212.5 258.7h0M213.0 258.8h0M213.2 256.9h0M213.5 255.0h0M214.0 257.6h0M214.5 258.3h0M214.8 255.7h0M215.0 253.2h0M215.2 255.8h0M215.5 258.3h0M216.0 257.1h0M216.2 254.9h0M216.3 252.8h0M216.5 250.7h0M217.0 250.8h0M217.2 252.3h0M217.5 253.8h0M217.8 255.4h0M218.0 256.9h0M218.5 255.7h0M218.8 254.0h0M219.0 252.4h0M219.5 254.8h0M220.0 252.1h0M220.5 250.7h0M220.8 252.2h0M221.0 253.7h0M221.5 239.7h0M222.0 225.3h0M222.1 222.8h0M222.2 220.3h0M222.4 217.8h0M222.5 215.4h0M222.8 212.8h0M223.0 210.2h0M223.2 208.1h0M223.5 206.0h0M223.7 208.3h0M223.8 210.5h0M224.0 212.8h0M224.2 215.7h0M224.5 218.5h0M224.7 221.1h0M224.8 223.6h0M225.0 226.2h0M225.2 227.8h0M232.5 206.3h0M232.8 204.4h0M233.0 202.5h0M233.5 202.7h0M233.8 204.9h0M234.0 207.1h0M234.5 205.5h0M234.8 203.9h0M235.0 202.4h0M235.5 199.7h0M235.7 201.8h0M235.8 203.9h0M236.0 206.0h0M236.5 203.2h0M236.8 201.6h0M237.0 199.9h0M237.5 202.6h0M237.8 200.1h0M238.0 197.5h0M238.2 199.2h0M238.5 200.8h0M239.0 201.2h0M239.5 198.6h0M239.8 196.5h0M240.0 194.4h0M240.2 192.4h0M240.5 190.4h0M240.8 188.8h0M241.0 187.2h0M241.5 184.7h0M242.0 184.8h0M242.2 187.1h0M242.3 189.3h0M242.5 191.6h0M243.0 194.3h0M243.2 192.2h0M243.3 190.2h0M243.5 188.1h0M244.0 188.8h0M244.5 191.5h0M244.8 193.8h0M245.0 196.1h0M245.5 194.7h0M245.8 192.3h0M246.0 189.9h0M246.2 192.0h0M246.5 194.2h0M246.8 195.7h0M247.0 197.2h0M247.5 194.5h0M248.0 191.9h0M248.5 193.8h0M248.8 195.9h0M249.0 198.0h0M249.2 196.1h0M249.5 194.2h0M250.0 193.0h0M250.2 194.9h0M250.5 196.7h0M251.0 199.1h0M251.2 197.2h0M251.5 195.4h0M251.8 193.5h0M252.0 191.7h0M252.2 193.9h0M252.3 196.2h0M252.5 198.4h0M253.0 200.4h0M253.2 198.0h0M253.5 195.7h0M253.8 193.6h0M254.0 191.6h0M254.2 193.7h0M254.5 195.8h0M254.8 198.2h0M255.0 200.5h0M255.5 202.7h0M255.7 200.6h0M255.8 198.6h0M256.0 196.5h0M256.2 193.6h0M256.5 190.7h0M256.7 188.7h0M256.8 186.6h0M257.0 184.5h0M257.2 181.5h0M257.5 178.5h0M258.0 176.9h0M258.2 178.9h0M258.3 180.9h0M258.5 182.9h0M259.0 185.8h0M259.2 187.5h0M259.5 189.2h0M259.8 192.1h0M260.0 195.1h0M260.2 196.9h0M260.5 198.7h0M260.8 200.6h0M261.0 202.6h0M261.2 200.3h0M261.3 198.0h0M261.5 195.7h0M261.7 193.5h0M261.8 191.4h0M262.0 189.2h0M262.2 186.9h0M262.3 184.6h0M262.5 182.3h0M262.8 180.4h0M263.0 178.6h0M263.5 179.6h0M263.8 181.8h0M264.0 184.1h0M264.2 185.9h0M264.5 187.7h0M264.8 189.8h0M265.0 192.0h0M265.5 193.4h0M265.8 190.5h0M266.0 187.6h0M266.5 189.5h0M266.8 191.4h0M267.0 193.3h0M267.5 194.8h0M267.8 192.4h0M268.0 190.1h0M268.2 191.9h0M268.5 193.7h0M268.8 195.5h0M269.0 197.3h0M269.5 196.7h0M270.0 195.1h0M270.2 197.5h0M270.5 199.9h0M271.0 200.1h0M271.5 197.2h0M271.8 198.7h0M272.0 200.2h0M272.5 201.8h0M273.0 199.1h0M273.5 198.9h0M273.8 200.6h0M274.0 202.3h0M274.5 202.5h0M275.0 199.6h0M275.2 225.4h0M275.5 203.1h0M275.8 201.6h0M276.0 200.2h0M276.5 200.1h0M276.8 201.8h0M277.0 203.6h0M277.5 203.6h0M277.8 201.9h0M278.0 200.2h0M278.5 200.0h0M279.0 202.5h0M279.5 203.3h0M279.8 201.6h0M280.0 199.9h0M280.5 197.6h0M280.8 200.0h0M281.0 202.3h0M281.5 199.5h0M281.8 197.7h0M282.0 195.8h0M282.5 198.7h0M283.0 200.5h0M283.2 198.4h0M283.5 196.2h0M284.0 196.7h0M284.2 198.9h0M284.3 201.2h0M284.5 203.4h0M285.0 206.1h0M285.2 204.0h0M285.3 201.8h0M285.5 199.7h0M286.0 201.6h0M286.2 203.3h0M286.5 205.0h0M286.8 207.9h0M287.0 210.8h0M287.5 212.4h0M287.8 209.9h0M288.0 207.3h0M288.2 209.5h0M288.3 211.6h0M288.5 213.8h0M288.8 216.1h0M289.0 218.4h0M289.2 220.0h0M289.5 221.6h0M290.0 222.7h0M290.2 220.0h0M290.5 217.3h0M290.8 214.7h0M291.0 212.0h0M291.2 209.9h0M291.5 207.8h0M292.0 205.3h0M292.2 207.2h0M292.5 209.1h0M292.8 211.5h0M293.0 213.9h0M293.2 212.3h0M293.5 210.7h0M293.7 208.4h0M293.8 206.1h0M294.0 203.9h0M294.5 204.0h0M294.7 206.2h0M294.8 208.5h0M295.0 210.7h0M295.2 213.0h0M295.3 215.3h0M295.5 217.6h0M295.8 219.9h0M296.0 222.3h0M296.5 225.0h0M296.7 227.2h0M296.8 229.4h0M297.0 231.6h0M297.2 234.2h0M297.5 236.9h0M298.0 238.9h0M298.2 236.9h0M298.3 234.8h0M298.5 232.8h0M298.8 231.1h0M299.0 229.3h0M299.2 227.2h0M299.5 225.0h0M300.0 222.6h0M300.2 224.8h0M300.5 226.9h0M300.8 229.4h0M301.0 231.8h0M301.5 232.8h0M301.8 231.0h0M302.0 229.2h0M302.2 227.6h0M302.5 226.0h0M302.8 228.9h0M303.0 231.9h0M303.5 231.3h0M303.8 229.7h0M304.0 228.2h0M304.2 226.5h0M304.5 224.8h0M304.8 227.5h0M305.0 230.1h0M305.5 230.2h0M305.8 227.4h0M306.0 224.7h0M306.2 222.4h0M306.5 220.2h0M307.0 217.9h0M307.2 220.5h0M307.5 223.2h0M307.8 225.5h0M308.0 227.9h0M308.5 229.6h0M308.8 227.9h0M309.0 226.2h0M309.2 223.9h0M309.5 221.6h0M310.0 223.2h0M310.2 225.4h0M310.5 227.7h0M311.0 230.6h0M311.2 232.8h0M311.5 235.1h0M311.8 237.7h0M312.0 240.4h0M312.5 243.3h0M312.8 246.2h0M313.0 249.1h0M313.2 246.7h0M313.5 244.3h0M313.8 242.0h0M314.0 239.8h0M314.2 237.7h0M314.5 235.6h0M314.7 233.5h0M314.8 231.3h0M315.0 229.2h0M315.2 227.5h0M315.5 225.9h0M315.7 227.9h0M315.8 230.0h0M316.0 232.0h0M316.5 229.1h0M316.8 226.7h0M317.0 224.4h0M317.5 222.7h0M317.8 224.4h0M318.0 226.1h0M318.2 224.1h0M318.5 222.0h0M318.8 219.1h0M319.0 216.1h0M319.5 216.8h0M319.8 218.7h0M320.0 220.5h0M320.5 221.4h0M320.8 219.7h0M321.0 218.0h0M321.2 216.1h0M321.5 214.3h0M322.0 212.9h0M322.5 215.5h0M323.0 217.7h0M323.2 215.4h0M323.3 213.2h0M323.5 211.0h0M324.0 212.0h0M324.2 213.5h0M324.5 215.0h0M325.0 215.5h0M325.2 213.5h0M325.5 211.4h0M326.0 209.7h0M326.2 212.2h0M326.5 214.8h0M326.8 216.7h0M327.0 218.6h0M327.2 216.4h0M327.5 214.3h0M328.0 212.6h0M328.2 215.0h0M328.3 217.3h0M328.5 219.6h0M328.8 221.5h0M329.0 223.4h0M329.2 220.4h0M329.5 217.5h0M330.0 217.3h0M330.2 219.4h0M330.3 221.4h0M330.5 223.5h0M330.8 225.3h0M331.0 227.1h0M331.2 229.8h0M331.5 232.5h0M332.0 235.1h0M332.2 232.4h0M332.5 229.6h0M333.0 227.0h0M333.5 227.6h0M333.8 229.9h0M334.0 232.1h0M334.2 234.5h0M334.5 236.9h0M334.7 239.1h0M334.8 241.3h0M335.0 243.4h0M335.2 245.0h0M335.5 246.5h0M336.0 249.1h0M336.5 250.0h0M336.8 248.5h0M337.0 247.0h0M337.2 245.0h0M337.5 242.9h0M337.8 241.2h0M338.0 239.4h0M338.2 236.8h0M338.5 234.3h0M339.0 233.4h0M339.2 235.0h0M339.5 236.5h0M340.0 235.4h0M340.2 233.8h0M346.5 202.5h0M346.7 200.5h0M346.8 198.5h0M347.0 196.5h0M347.5 194.7h0M348.0 197.3h0M348.2 194.9h0M348.5 192.5h0M348.8 190.6h0M349.0 188.8h0M349.5 189.3h0M349.8 187.3h0M350.0 185.4h0M350.5 182.7h0M350.8 181.0h0M351.0 179.4h0M351.5 181.0h0M351.8 178.7h0M352.0 176.4h0M352.5 174.5h0M353.0 176.2h0M353.2 174.5h0M353.5 172.7h0M353.8 169.7h0M354.0 166.8h0M354.5 165.4h0M354.8 167.2h0M355.0 169.0h0M355.2 166.5h0M355.5 164.0h0M355.8 161.8h0M356.0 159.5h0M356.5 157.2h0M356.8 159.3h0M357.0 161.3h0M357.2 159.2h0M357.3 157.0h0M357.5 154.9h0M358.0 152.8h0M358.2 154.6h0M358.5 156.4h0M359.0 156.2h0M359.2 154.1h0M359.5 151.9h0M359.8 153.7h0M360.0 155.5h0M360.5 156.8h0M360.8 154.9h0M361.0 153.0h0M361.2 154.6h0M361.5 156.2h0M361.8 154.2h0M362.0 152.1h0M362.2 153.7h0M362.5 155.3h0M362.8 153.4h0M363.0 151.4h0M363.5 150.0h0M364.0 152.8h0M364.5 153.1h0M365.0 150.5h0M365.2 149.0h0M365.5 147.5h0M366.0 147.5h0M366.5 150.1h0M367.0 151.9h0M367.5 150.6h0M368.0 153.4h0M368.2 155.7h0M368.3 158.1h0M375.5 210.3h0M376.0 212.0h0M376.2 210.0h0M376.5 207.9h0M377.0 210.4h0M377.2 212.8h0M377.5 215.2h0M378.0 215.4h0M378.5 212.5h0M379.0 215.3h0M379.2 213.8h0M379.5 212.3h0M379.8 214.3h0M380.0 216.4h0M380.2 214.6h0M380.5 212.8h0M380.8 214.3h0M381.0 215.9h0M381.5 213.4h0M382.0 211.8h0M382.2 213.9h0M382.3 215.9h0M382.5 217.9h0M383.0 217.4h0M383.2 215.4h0M383.5 213.3h0M384.0 213.9h0M384.2 215.7h0M384.5 217.4h0M385.0 218.0h0M385.2 216.5h0M385.5 215.0h0M386.0 214.4h0M386.2 216.6h0M386.5 218.7h0M386.8 217.0h0M387.0 215.2h0M387.2 217.3h0M387.5 219.5h0M388.0 219.9h0M388.2 217.7h0M388.5 215.4h0M388.8 217.1h0M389.0 218.9h0M389.5 219.5h0M389.8 217.7h0M390.0 215.9h0M390.2 218.2h0M390.5 220.4h0M391.0 220.6h0M391.2 219.0h0M391.5 217.4h0M391.8 219.4h0M392.0 221.4h0M392.5 222.1h0M392.8 220.0h0M393.0 217.8h0M393.5 220.3h0M393.8 218.7h0M394.0 217.1h0M394.5 198.4h0M394.8 196.6h0M395.0 194.8h0M395.5 192.1h0M395.8 193.7h0M396.0 195.3h0M396.5 193.7h0M396.8 191.7h0M397.0 189.7h0M397.2 187.3h0M397.5 184.9h0M398.0 183.8h0M398.2 185.5h0M398.5 187.2h0M399.0 185.0h0M399.5 182.0h0M400.0 181.0h0M400.5 182.4h0M400.8 180.2h0M401.0 178.0h0M401.5 177.8h0M401.8 179.8h0M402.0 181.8h0M402.2 179.6h0M402.5 177.5h0M402.8 175.8h0M403.0 174.1h0M403.2 176.4h0M403.5 178.8h0M404.0 177.7h0M404.2 176.2h0M404.5 174.6h0M405.0 174.3h0M405.2 176.6h0M405.5 178.8h0M406.0 179.4h0M406.2 177.3h0M406.5 175.1h0M407.0 176.6h0M407.2 178.8h0M407.3 180.9h0M407.5 183.1h0M408.0 183.4h0M408.5 180.6h0M408.8 182.5h0M409.0 184.5h0M409.2 186.0h0M409.5 187.6h0M410.0 185.0h0M410.2 187.1h0M410.5 189.2h0M411.0 186.3h0M411.2 188.5h0M411.5 190.7h0M412.0 192.9h0M412.2 191.2h0M412.5 189.5h0M413.0 191.8h0M413.2 193.9h0M413.5 196.1h0M414.0 198.7h0M414.2 201.2h0M414.5 203.7h0M414.8 205.3h0M415.0 206.9h0M415.5 208.0h0M415.8 205.9h0M416.0 203.7h0M416.2 206.3h0M416.5 208.8h0M416.8 211.2h0M417.0 213.6h0M417.2 216.3h0M417.5 219.0h0M418.0 221.0h0M418.2 218.8h0M418.5 216.6h0M419.0 214.8h0M419.2 217.6h0M419.5 220.4h0M419.8 221.9h0M420.0 223.4h0M420.2 224.9h0M420.5 226.4h0M421.0 223.7h0M421.2 221.8h0M421.5 219.9h0M422.0 218.6h0M422.2 220.8h0M422.5 223.0h0M422.8 224.7h0M423.0 226.4h0M423.2 224.6h0M423.5 222.8h0M424.0 220.6h0M424.2 223.0h0M424.5 225.4h0M425.0 223.6h0M425.2 221.5h0M425.5 219.4h0M426.0 217.1h0M426.2 219.8h0M426.5 222.5h0M427.0 222.9h0M427.2 221.2h0M427.5 219.4h0M427.7 217.1h0M427.8 214.9h0M428.0 212.6h0M428.2 210.5h0M428.5 208.5h0M428.8 206.0h0M429.0 203.5h0M429.2 205.4h0M429.5 207.4h0M430.0 208.0h0M430.2 205.9h0M430.3 203.9h0M430.5 201.8h0M431.0 202.3h0M431.2 204.1h0M431.5 206.0h0M431.8 207.7h0M432.0 209.4h0M432.5 206.9h0M432.8 204.0h0M433.0 201.1h0M433.5 198.5h0M433.8 200.4h0M434.0 202.4h0M434.2 204.7h0M434.5 207.0h0M435.0 184.2h0M435.2 182.0h0M435.3 179.7h0M435.5 177.5h0M435.8 175.9h0M436.0 174.2h0M436.2 176.3h0M436.3 178.4h0M436.5 180.5h0M436.7 182.6h0M436.8 184.8h0M437.0 187.0h0M437.2 189.0h0M437.3 191.0h0M437.5 193.1h0M437.8 195.7h0M438.0 198.4h0M438.5 201.0h0M438.8 203.2h0M439.0 205.5h0M439.2 208.2h0M439.5 210.9h0M439.8 212.7h0M440.0 214.5h0M440.5 215.1h0M440.8 213.0h0M441.0 211.0h0M441.5 210.0h0M441.8 212.0h0M442.0 214.1h0M442.2 211.5h0M442.5 208.9h0M442.8 210.7h0M443.0 212.5h0M443.2 210.5h0M443.5 208.5h0M443.8 211.3h0M444.0 214.1h0M444.5 213.0h0M444.8 210.7h0M445.0 208.5h0M445.5 207.9h0M445.8 209.7h0M446.0 211.6h0M446.2 213.4h0M446.5 215.1h0M447.0 214.6h0M447.2 213.0h0M447.5 211.4h0M448.0 209.0h0M448.2 211.4h0M448.5 213.9h0M448.7 216.0h0M448.8 218.1h0M449.0 220.3h0M449.5 220.2h0M449.8 217.5h0M450.0 214.7h0M450.5 215.6h0M450.8 217.8h0M451.0 220.0h0M451.2 222.0h0M451.3 224.1h0M451.5 226.2h0M451.8 223.5h0M452.0 220.8h0M452.2 219.3h0M452.5 217.7h0M452.7 220.0h0M452.8 222.2h0M453.0 224.4h0M453.2 226.4h0M453.5 228.4h0M454.0 227.2h0M454.2 224.9h0M454.5 222.5h0M454.8 220.9h0M455.0 219.3h0M455.2 222.1h0M455.5 225.0h0M456.0 227.3h0M456.2 225.0h0M456.5 222.7h0M457.0 220.8h0M457.2 222.5h0M457.5 224.2h0M458.0 226.2h0M458.2 223.7h0M458.5 221.2h0M459.0 219.6h0M459.2 221.9h0M459.5 224.3h0M460.0 225.1h0M460.2 222.8h0M460.3 220.5h0M460.5 218.2h0M461.0 219.3h0M461.2 221.3h0M461.5 223.3h0M462.0 223.4h0M462.2 221.3h0M462.3 219.3h0M462.5 217.3h0M463.0 214.6h0M463.5 215.7h0M463.8 218.2h0M464.0 220.6h0M464.5 221.5h0M464.7 219.3h0M464.8 217.1h0M465.0 214.9h0M465.5 212.7h0M465.7 214.7h0M465.8 216.7h0M466.0 218.7h0M466.5 219.1h0M466.8 216.5h0M467.0 213.8h0M467.5 211.7h0M467.8 213.4h0M468.0 215.1h0M468.5 216.2h0M468.8 213.9h0M469.0 211.7h0M469.2 213.4h0M469.5 215.0h0M470.0 217.7h0M470.2 219.7h0M470.3 221.7h0M470.5 223.7h0M470.8 225.8h0M471.0 227.8h0M471.5 229.2h0M471.8 226.7h0M472.0 224.2h0M472.5 225.3h0M472.8 227.5h0M473.0 229.7h0M473.2 231.7h0M473.5 233.7h0M473.7 235.9h0M473.8 238.1h0M474.0 240.4h0M474.5 241.8h0M475.0 239.1h0M475.5 238.4h0M475.8 241.0h0M476.0 243.5h0M476.2 245.7h0M476.3 247.9h0M476.5 250.1h0M477.0 252.2h0M477.2 249.9h0M477.3 247.7h0M477.5 245.5h0M478.0 245.7h0M478.2 247.9h0M478.5 250.1h0M478.8 251.5h0M479.0 253.0h0M479.2 255.7h0M479.5 258.4h0M480.0 260.8h0M480.2 258.0h0M480.5 255.2h0M480.8 253.7h0M481.0 252.2h0M481.5 252.1h0M481.7 254.3h0M481.8 256.4h0M482.0 258.6h0M482.2 260.1h0M482.5 261.6h0M483.0 261.8h0M483.2 260.2h0M483.5 258.5h0M484.0 257.5h0M484.2 260.3h0M484.5 263.2h0M484.8 265.1h0M485.0 267.1h0M485.5 264.2h0M486.0 262.1h0M486.2 263.9h0M486.5 265.7h0M487.0 267.1h0M487.5 264.6h0M488.0 262.0h0M488.5 263.4h0M488.8 261.7h0M489.0 259.9h0M489.5 246.4h0M489.8 244.6h0M490.0 242.8h0M490.2 240.2h0M490.5 237.7h0M490.8 235.4h0M491.0 233.2h0M491.2 231.6h0M491.5 230.1h0M491.8 232.8h0M492.0 235.5h0M492.5 236.1h0M492.8 234.0h0M493.0 231.9h0M493.2 229.9h0M493.3 227.9h0M493.5 225.8h0M494.0 223.2h0M494.2 225.8h0M494.5 228.3h0M495.0 229.2h0M495.2 227.2h0M495.3 225.1h0M495.5 223.0h0M495.8 221.0h0M496.0 219.0h0M496.2 216.4h0M496.5 213.8h0M497.0 211.4h0M497.2 214.0h0M497.5 216.6h0M498.0 217.5h0M498.2 214.7h0M498.5 212.0h0M499.0 237.4h0M499.2 229.8h0M499.0 207.8h0M499.5 210.4h0M499.8 212.2h0M500.0 214.0h0M500.5 212.1h0M501.0 209.4h0M501.5 209.1h0M501.8 210.8h0M502.0 212.5h0M502.5 210.3h0M503.0 213.2h0M503.5 210.8h0M503.8 213.0h0M504.0 215.2h0M504.2 213.4h0M504.5 211.5h0M504.8 213.3h0M505.0 215.1h0M505.5 215.5h0M505.8 213.8h0M506.0 212.1h0M506.2 214.0h0M506.5 215.8h0M507.0 218.6h0M507.5 216.9h0M507.8 218.7h0M508.0 220.4h0M508.5 221.1h0M509.0 218.8h0M509.2 220.6h0M509.5 222.4h0M509.8 220.8h0M510.0 219.1h0M510.5 218.7h0M510.8 221.2h0M511.0 223.8h0M511.5 226.4h0M511.8 224.8h0M512.0 223.2h0M512.5 220.5h0M512.8 219.0h0M513.0 217.5h0M513.5 214.7h0M513.8 216.3h0M514.0 217.9h0M514.2 220.5h0M514.5 223.1h0M514.8 225.1h0M515.0 227.1h0M515.5 227.5h0M515.7 225.4h0M515.8 223.3h0M516.0 221.1h0M516.2 218.8h0M516.5 216.4h0M516.8 213.9h0M517.0 211.4h0M517.2 209.5h0M517.5 207.7h0M518.0 208.1h0M518.2 210.3h0M518.3 212.6h0M518.5 214.8h0M519.0 215.8h0M519.5 213.1h0M520.0 211.2h0M520.2 213.7h0M520.3 216.2h0M520.5 218.8h0M520.6 221.2h0M520.8 223.7h0M520.9 226.1h0M521.0 228.6h0M521.2 230.8h0M521.5 233.1h0M522.0 234.0h0M522.5 231.5h0M522.8 233.6h0M523.0 235.7h0M523.5 233.5h0M523.8 235.0h0M524.0 236.6h0M524.5 234.6h0M524.8 236.1h0M525.0 237.7h0M525.5 235.0h0M526.0 233.5h0M526.2 235.3h0M526.5 237.1h0M526.8 235.4h0M527.0 233.6h0M527.2 235.7h0M527.5 237.8h0M528.0 236.0h0M528.2 237.5h0M528.5 239.0h0M529.0 237.8h0M529.5 240.6h0M530.0 239.5h0M530.2 241.4h0M530.5 243.2h0M531.0 260.0h0M531.2 261.6h0M531.5 263.2h0M531.8 266.0h0M532.0 268.7h0M532.5 267.7h0M532.8 266.0h0M533.0 264.3h0M533.5 263.8h0M534.0 266.4h0M534.2 264.9h0M534.5 263.3h0M535.0 260.8h0M535.2 262.9h0M535.5 265.1h0M535.8 262.4h0M536.0 259.8h0M536.5 258.9h0M536.8 261.5h0M537.0 264.2h0M537.5 265.7h0M538.0 263.0h0M538.2 260.1h0M538.5 257.2h0M539.0 255.4h0M539.2 257.6h0M539.3 259.7h0M539.5 261.9h0M540.0 263.0h0M540.2 260.9h0M540.3 258.8h0M540.5 256.7h0M541.0 254.7h0M541.2 257.1h0M541.5 259.4h0M541.8 261.4h0M542.0 263.4h0M542.2 266.2h0M542.5 269.1h0M542.7 266.9h0M542.8 264.7h0M543.0 262.6h0M543.5 263.4h0M543.8 265.7h0M544.0 268.1h0M544.2 270.0h0M544.5 271.9h0M545.0 272.6h0M545.2 270.6h0M545.5 268.5h0M546.0 289.3h0M546.2 291.2h0M546.5 293.1h0M547.0 295.5h0M547.2 293.6h0M547.5 291.8h0M548.0 294.7h0M548.2 292.8h0M548.5 291.0h0M548.8 293.2h0M549.0 295.3h0M549.2 293.7h0M549.5 292.0h0M549.8 289.8h0M550.0 287.5h0M550.5 286.5h0M550.8 289.1h0M551.0 291.6h0M551.5 292.9h0M551.8 291.2h0M552.0 289.5h0M552.5 286.7h0M553.0 288.2h0M553.2 290.6h0M553.5 293.0h0M554.0 294.1h0M554.5 291.6h0M554.8 293.3h0M555.0 295.0h0M555.5 296.5h0M556.0 294.4h0M556.5 297.1h0M557.0 299.4h0M557.5 296.9h0M557.8 299.5h0M558.0 302.1h0M558.2 299.5h0M558.5 296.9h0M558.8 298.6h0M559.0 300.3h0M559.2 302.5h0M559.5 304.8h0M559.8 303.2h0M560.0 301.6h0M560.5 300.8h0M560.8 303.1h0M561.0 305.3h0M561.5 307.1h0M561.8 304.2h0M562.0 301.3h0M562.5 303.3h0M562.8 305.3h0M563.0 307.3h0M563.2 308.8h0M563.5 310.3h0M564.0 308.5h0M564.1 311.0h0M564.2 313.5h0M564.4 316.0h0M564.5 318.4h0M564.6 320.9h0M564.8 323.4h0M564.9 325.8h0M565.0 328.3h0M565.5 330.9h0M566.0 331.9h0M566.2 329.4h0M566.3 326.9h0M566.5 324.4h0M566.7 321.4h0M566.8 318.4h0M567.0 315.5h0M567.2 312.9h0M567.5 310.3h0M568.0 312.9h0M568.1 310.6h0M568.2 308.4h0M568.4 306.1h0M568.5 303.8h0M568.7 301.3h0M568.8 298.8h0M569.0 296.3h0M569.2 294.8h0M569.5 293.3h0M570.0 292.6h0M570.2 294.9h0M570.5 297.3h0M571.0 296.8h0M571.2 295.3h0M571.5 293.8h0M571.8 292.0h0M572.0 290.1h0M572.2 292.7h0M572.5 295.3h0M573.0 294.5h0M573.2 292.9h0M573.5 291.3h0M574.0 288.7h0M574.5 291.1h0M575.0 277.5h0M575.5 264.1h0M575.8 262.3h0M576.0 260.6h0M576.5 258.0h0M577.0 259.6h0M577.2 256.7h0M577.3 253.7h0M577.5 250.7h0M577.7 248.6h0M577.8 246.5h0M578.0 244.4h0M578.5 241.7h0M578.8 239.4h0M579.0 237.2h0M579.1 234.4h0M579.2 231.6h0M579.4 228.8h0M579.5 226.0h0M580.0 208.1h0M580.2 206.5h0M580.5 204.8h0M580.8 202.4h0M581.0 200.0h0M581.5 197.7h0M582.0 200.3h0M582.2 198.5h0M582.5 196.7h0M583.0 198.3h0M583.2 195.6h0M583.5 192.9h0M584.0 192.2h0M584.5 193.5h0M584.8 191.7h0M585.0 189.9h0M585.5 187.6h0M586.0 190.4h0M586.2 188.5h0M586.5 186.5h0M587.0 184.8h0M587.5 186.6h0M587.8 184.3h0M588.0 182.0h0M588.5 181.5h0M588.8 183.0h0M589.0 184.6h0M589.5 185.1h0M589.8 183.0h0M590.0 180.8h0M590.5 178.8h0M591.0 181.7h0M591.2 179.2h0M591.5 176.7h0M592.0 175.1h0M592.2 177.9h0M592.5 180.8h0M593.0 178.8h0M593.2 176.2h0M593.5 173.6h0M594.0 173.6h0M594.2 175.4h0M594.5 177.3h0M594.8 175.5h0M595.0 173.7h0M595.2 175.7h0M595.5 177.8h0M595.8 179.4h0M596.0 181.0h0M596.2 178.4h0M596.5 175.9h0M597.0 177.5h0M597.2 180.5h0M597.5 183.4h0M598.0 185.5h0M598.2 183.1h0M598.5 180.8h0M598.8 207.4h0M599.0 201.8h0M599.0 185.2h0M599.2 186.8h0M599.5 188.4h0M599.8 185.5h0M600.0 182.6h0M600.5 183.8h0M600.8 185.8h0M601.0 187.8h0M601.5 188.7h0M601.7 186.6h0M601.8 184.5h0M602.0 182.3h0M602.2 180.3h0M602.3 178.2h0M602.5 176.2h0M603.0 174.5h0M603.2 176.8h0M603.5 179.1h0M603.7 181.1h0M603.8 183.1h0M604.0 185.1h0M604.1 182.6h0M604.2 180.1h0M604.4 177.6h0M604.5 175.1h0M605.0 161.2h0M605.5 158.6h0M606.0 157.4h0M606.2 159.9h0M606.5 162.5h0M606.8 164.7h0M607.0 166.9h0M607.5 167.6h0M607.8 165.0h0M608.0 162.4h0M608.2 160.3h0M608.5 158.2h0M608.8 155.3h0M609.0 152.4h0M609.2 150.5h0M609.5 148.6h0M609.7 150.7h0M609.8 152.8h0M610.0 154.9h0M610.2 157.1h0M610.3 159.2h0M610.5 161.4h0M610.7 164.1h0M610.8 166.8h0M611.0 169.5h0M611.2 171.8h0M611.5 174.2h0M611.8 176.2h0M612.0 178.1h0M612.2 180.6h0M612.5 183.2h0M612.8 185.7h0M613.0 188.3h0M613.5 191.2h0M613.8 194.1h0M614.0 197.0h0M614.2 195.1h0M614.5 193.2h0M614.8 195.4h0M615.0 197.6h0M615.2 199.6h0M615.5 201.6h0M616.0 198.9h0M616.5 199.7h0M616.8 201.9h0M617.0 204.2h0M617.5 203.2h0M618.0 205.2h0M618.2 203.1h0M618.5 201.1h0M619.0 198.7h0M619.2 201.2h0M619.5 203.7h0M619.8 201.3h0M620.0 198.8h0M620.5 195.9h0M620.8 193.4h0M621.0 190.9h0M621.2 188.3h0M621.5 185.8h0M621.7 183.6h0M621.8 181.5h0M622.0 179.3h0M622.2 177.0h0M622.3 174.8h0M622.5 172.5h0M623.0 171.5h0M623.2 174.1h0M623.5 176.8h0M624.0 179.1h0M624.2 177.4h0M624.5 175.8h0M624.8 173.8h0M625.0 171.9h0M625.2 169.2h0M625.5 166.5h0M626.0 168.8h0M626.2 166.7h0M626.3 164.5h0M626.5 162.3h0M627.0 161.2h0M627.5 163.0h0M627.8 161.1h0M628.0 159.2h0M628.2 157.7h0M628.5 156.1h0M629.0 158.6h0M629.2 155.9h0M629.5 153.3h0M630.0 151.6h0M630.5 154.3h0M631.0 152.9h0M631.2 151.0h0M631.5 149.0h0M631.8 146.2h0M632.0 143.4h0M632.5 140.9h0M632.8 138.3h0M633.0 135.8h0M633.2 133.0h0M633.5 130.3h0M634.0 128.0h0M634.2 130.5h0M634.5 133.0h0M635.0 132.4h0M635.2 130.0h0M635.5 127.5h0M635.8 125.8h0M636.0 124.1h0M636.5 126.1h0M637.0 123.9h0M637.2 125.5h0M637.5 127.2h0M638.0 128.2h0M638.5 126.7h0M638.8 129.2h0M639.0 131.7h0M639.2 128.9h0M639.5 126.0h0M640.0 126.6h0M640.2 128.5h0M640.5 130.3h0M641.0 133.2h0M641.2 135.2h0M641.5 137.2h0M641.8 135.1h0M642.0 133.0h0M642.5 134.3h0M642.8 136.8h0M643.0 139.4h0M643.5 140.4h0M643.8 138.2h0M644.0 136.0h0M644.5 138.7h0M644.8 140.7h0M645.0 142.6h0M645.1 140.1h0M645.2 137.5h0M645.4 134.9h0M645.5 132.3h0M645.6 129.6h0M645.8 126.9h0M645.9 124.1h0M646.0 121.4h0M646.2 119.1h0M646.3 116.9h0M646.5 114.6h0M647.0 113.9h0M647.2 115.7h0M647.5 117.5h0M648.0 118.4h0M648.2 116.3h0M648.3 114.1h0M648.5 112.0h0M648.8 109.6h0M649.0 107.3h0M649.2 104.7h0M649.5 102.1h0M649.8 103.7h0M650.0 105.4h0M650.2 107.4h0M650.5 109.5h0M650.8 111.4h0M651.0 113.3h0M651.2 115.8h0M651.5 118.3h0M651.8 119.8h0M652.0 121.3h0M652.2 123.8h0M652.5 126.2h0M652.8 128.4h0M653.0 130.5h0M653.5 131.1h0M653.8 129.0h0M654.0 127.0h0M654.2 125.2h0M654.5 123.4h0M655.0 146.1h0M655.2 147.8h0M655.5 149.6h0M656.0 152.3h0M656.2 155.0h0M656.5 157.8h0M657.0 157.8h0M657.2 155.6h0M657.3 153.5h0M657.5 151.3h0M657.8 149.8h0M658.0 148.2h0M658.2 146.0h0M658.5 143.8h0M659.0 142.9h0M659.2 144.5h0M659.5 146.1h0M660.0 146.6h0M660.2 144.9h0M660.5 143.2h0M660.8 141.3h0M661.0 139.4h0M661.2 141.1h0M661.5 142.9h0M662.0 144.0h0M662.2 141.1h0M662.5 138.3h0M662.8 136.2h0M663.0 134.1h0M663.2 135.9h0M663.5 137.7h0M664.0 138.8h0M664.2 136.7h0M664.3 134.5h0M664.5 132.4h0M664.8 130.9h0M665.0 129.3h0M665.5 127.7h0M666.0 101.6h0M666.2 108.7h0M666.0 132.8h0M666.2 134.7h0M666.5 136.6h0M666.8 138.8h0M667.0 140.9h0M667.5 141.3h0M668.0 143.7h0M668.5 161.2h0M668.8 163.6h0M669.0 166.0h0M669.2 167.9h0M669.5 169.8h0M670.0 171.2h0M670.2 169.4h0M670.5 167.7h0M670.8 166.1h0M671.0 164.6h0M671.5 164.4h0M672.0 181.4h0M672.2 173.8h0M672.0 170.8h0M672.5 170.7h0M673.0 168.0h0M673.5 166.3h0M673.8 168.4h0M674.0 170.4h0M674.5 170.5h0M674.8 168.2h0M675.0 166.0h0M675.2 168.6h0M675.5 171.3h0M676.0 173.9h0M676.2 171.7h0M676.3 169.5h0M676.5 167.3h0M677.0 166.8h0M677.5 169.5h0M677.8 171.2h0M678.0 172.9h0M678.2 174.8h0M678.5 176.8h0M678.8 178.6h0M679.0 180.3h0M679.2 178.4h0M679.5 176.4h0M679.8 173.8h0M680.0 171.1h0M680.2 169.4h0M680.5 167.8h0M681.0 170.2h0M681.2 172.4h0M681.5 174.7h0M681.8 177.5h0M682.0 180.2h0M682.2 182.3h0M682.5 184.3h0M683.0 186.8h0M683.5 189.5h0M683.7 187.4h0M683.8 185.3h0M684.0 183.1h0M684.5 180.8h0M684.8 182.6h0M685.0 184.4h0M685.2 185.9h0M685.5 187.4h0M685.7 189.4h0M685.8 191.4h0M686.0 193.5h0M686.2 195.2h0M686.5 196.9h0M687.0 199.8h0M687.5 202.6h0M687.8 199.6h0M688.0 196.7h0M688.5 197.1h0M689.0 200.0h0M689.2 201.6h0M689.5 203.3h0M689.8 200.4h0M690.0 197.5h0M690.5 198.3h0M690.8 200.5h0M691.0 202.8h0M691.5 201.6h0M691.8 199.3h0M692.0 197.1h0M692.5 198.2h0M693.0 200.9h0M693.5 201.7h0M693.8 199.9h0M694.0 198.1h0M694.5 197.4h0M694.8 200.1h0M695.0 202.8h0M695.5 204.1h0M695.6 188.6h0M695.8 194.0h0M696.0 200.2h0M696.5 198.9h0M696.8 201.6h0M697.0 204.4h0M697.5 206.8h0M697.8 204.4h0M698.0 202.0h0M698.5 200.5h0M698.7 202.7h0M698.8 204.9h0M699.0 207.0h0M699.5 207.7h0M699.8 205.7h0M700.0 203.7h0M700.5 202.0h0M700.8 205.0h0M701.0 208.0h0M701.2 209.6h0M701.5 211.2h0M702.0 209.7h0M702.2 207.1h0M702.5 204.5h0M702.8 206.4h0M703.0 208.3h0M703.2 210.4h0M703.5 212.5h0M704.0 215.4h0M704.2 229.4h0M704.5 224.6h0M704.5 209.7h0M705.0 208.2h0M705.2 210.3h0M705.5 212.3h0M705.8 214.0h0M706.0 215.6h0M706.5 218.4h0M707.0 221.0h0M707.5 222.6h0M707.7 220.3h0M707.8 218.0h0M708.0 215.7h0M708.2 213.2h0M708.5 210.7h0M708.8 209.2h0M709.0 207.7h0M709.5 207.5h0M709.8 209.2h0M710.0 210.8h0M710.2 213.3h0M710.5 215.8h0M711.0 217.6h0M711.2 215.4h0M711.3 213.1h0M711.5 210.9h0M712.0 192.6h0M712.2 197.6h0M712.0 210.7h0M712.5 213.3h0M712.7 215.3h0M712.8 217.3h0M713.0 219.3h0M713.2 221.4h0M713.3 223.5h0M713.5 225.5h0M714.0 227.7h0M714.2 225.4h0M714.3 223.2h0M714.5 221.0h0M715.0 219.6h0M715.2 221.7h0M715.3 223.8h0M715.5 225.9h0M715.8 228.8h0M716.0 231.7h0M716.5 232.0h0M716.8 229.9h0M717.0 227.8h0M717.5 225.4h0M717.7 227.5h0M717.8 229.6h0M718.0 231.7h0M718.5 233.6h0M718.8 231.1h0M719.0 228.6h0M719.5 228.1h0M719.8 229.9h0M720.0 231.6h0M720.2 229.3h0M720.5 226.9h0M721.0 227.5h0M721.2 230.0h0M721.5 232.6h0M722.0 231.9h0M722.2 230.3h0M722.5 228.7h0M723.0 226.8h0M723.2 229.1h0M723.5 231.3h0M724.0 231.2h0M724.5 228.6h0M725.0 228.1h0M725.2 229.7h0M725.5 231.3h0M725.8 228.9h0M726.0 226.5h0M726.5 226.7h0M726.8 228.9h0M727.0 231.2h0M727.5 230.3h0M727.8 227.9h0M728.0 225.6h0M728.2 227.5h0M728.5 229.4h0M729.0 231.0h0M729.5 228.1h0M730.0 225.3h0M730.2 226.9h0M730.5 228.5h0M730.8 227.0h0M731.0 225.4h0M731.5 228.1h0M731.8 226.5h0M732.0 224.8h0M732.2 226.7h0M732.5 228.6h0M733.0 227.4h0M733.2 225.0h0M733.5 222.7h0M734.0 222.3h0M734.2 224.3h0M734.5 226.3h0M735.0 226.0h0M735.2 223.8h0M735.5 221.5h0M736.0 221.2h0M736.2 223.3h0M736.5 225.3h0M737.0 225.0h0M737.2 222.6h0M737.5 220.1h0M738.0 218.4h0M738.2 220.7h0M738.5 223.1h0M738.8 221.6h0M739.0 220.1h0M739.5 217.8h0M740.0 220.7h0M740.5 222.7h0M740.8 221.0h0M741.0 219.2h0M741.5 216.3h0M741.8 218.7h0M742.0 221.1h0M742.5 222.1h0M742.8 220.0h0M743.0 217.8h0M743.5 215.9h0M743.8 218.7h0M744.0 221.6h0M744.5 221.0h0M744.7 218.7h0M744.8 216.4h0M745.0 214.1h0M745.5 213.3h0M745.7 215.4h0M745.8 217.5h0M746.0 219.6h0M746.5 219.1h0M746.7 217.1h0M746.8 215.1h0M747.0 213.1h0M747.5 212.3h0M748.0 215.1h0M748.5 216.1h0M749.0 213.6h0M749.2 211.7h0M749.5 209.8h0M749.8 212.0h0M750.0 214.2h0M750.5 215.2h0M750.8 212.9h0M751.0 210.6h0M751.2 212.8h0M751.3 215.0h0M751.5 217.2h0M751.8 219.0h0M752.0 220.7h0M752.2 217.8h0M752.5 214.8h0M753.0 215.6h0M753.2 217.2h0M753.5 218.7h0M753.8 220.8h0M754.0 222.9h0M754.5 224.5h0M754.8 222.2h0M755.0 219.9h0M755.5 240.9h0M755.8 242.4h0M756.0 243.9h0M756.2 245.6h0M756.5 247.2h0M756.8 245.4h0M757.0 243.6h0M757.5 243.7h0M757.8 245.6h0M758.0 247.4h0M758.2 245.9h0M758.5 244.4h0M759.0 242.0h0M759.2 244.5h0M759.5 247.0h0M760.0 249.1h0M760.2 247.0h0M760.5 244.9h0M761.0 244.1h0M761.2 246.5h0M761.5 249.0h0M762.0 249.3h0M762.2 247.3h0M762.5 245.2h0M763.0 245.8h0M763.2 247.4h0M763.5 249.1h0M764.0 276.9h0M764.2 279.0h0M764.3 281.1h0M764.5 283.1h0M764.8 285.4h0M765.0 287.8h0M765.2 289.4h0M765.5 291.0h0M766.0 291.3h0M766.2 289.1h0M766.3 287.0h0M766.5 284.8h0M766.8 283.0h0M767.0 281.2h0M767.2 283.2h0M767.5 285.2h0M768.0 286.2h0M768.2 284.6h0M768.5 283.0h0M769.0 280.1h0M769.2 282.6h0M769.5 285.2h0M770.0 285.4h0M770.5 282.8h0M771.0 280.2h0M771.5 282.1h0M772.0 284.8h0M772.5 286.1h0M772.8 284.2h0M773.0 282.3h0M773.5 280.7h0M773.8 283.2h0M774.0 285.6h0M774.5 284.3h0M775.0 281.7h0M775.5 279.9h0M775.8 282.2h0M776.0 284.4h0M776.2 281.7h0M776.5 279.0h0M777.0 278.4h0M777.2 280.6h0M777.5 282.8h0M777.8 280.0h0M778.0 277.2h0M778.2 275.3h0M778.5 273.3h0M779.0 274.3h0M779.2 276.6h0M779.5 279.0h0M780.0 279.8h0M780.5 277.0h0M780.8 275.0h0M781.0 273.0h0M781.5 274.5h0M781.8 276.8h0M782.0 279.1h0M782.5 281.6h0M782.8 280.1h0M783.0 278.5h0M783.5 276.0h0M784.0 275.7h0M784.2 278.0h0M784.5 280.2h0M784.8 282.8h0M785.0 285.3h0M785.5 285.6h0M785.8 283.6h0M786.0 281.7h0M786.2 280.1h0M786.5 278.5h0M786.7 280.8h0M786.8 283.0h0M787.0 285.2h0M787.5 286.4h0M787.8 283.9h0M788.0 281.3h0M788.5 280.3h0M788.8 282.3h0M789.0 284.4h0M789.2 286.0h0M789.5 287.6h0M789.8 285.4h0M790.0 283.2h0M790.2 285.6h0M790.5 287.9h0M791.0 289.2h0M791.2 287.3h0M791.5 285.5h0M792.0 284.7h0M792.1 287.1h0M792.2 289.6h0M792.4 292.0h0M792.5 294.5h0M792.6 296.9h0M792.7 299.4h0M792.8 301.8h0M792.9 304.3h0M793.0 306.7h0M793.2 308.9h0M793.3 311.0h0M793.5 313.1h0M793.8 315.8h0M794.0 318.5h0M794.5 319.7h0M795.0 316.8h0M795.5 317.5h0M795.8 319.5h0M796.0 321.5h0M796.2 323.0h0M796.5 324.6h0M797.0 324.7h0M797.2 323.1h0M797.5 321.5h0M797.8 323.5h0M798.0 325.5h0M798.5 328.3h0M798.8 326.1h0M799.0 323.9h0M799.5 323.4h0M800.0 326.1h0M800.5 327.9h0M800.8 325.6h0M801.0 323.2h0M801.2 320.6h0M801.5 318.0h0M801.8 316.2h0M802.0 314.4h0M802.2 312.1h0M802.5 309.8h0M802.7 307.7h0M802.8 305.7h0M803.0 303.7h0M803.1 301.2h0M803.2 298.7h0M803.4 296.2h0M803.5 293.7h0M803.8 290.8h0M804.0 287.9h0M804.5 287.9h0M804.8 289.5h0M805.0 291.1h0M805.2 292.7h0M805.5 294.3h0M806.0 295.3h0M806.2 293.2h0M806.3 291.2h0M806.5 289.1h0M807.0 291.1h0M807.2 293.8h0M807.5 296.5h0M808.0 296.4h0M808.2 293.9h0M808.5 291.5h0M808.8 294.3h0M809.0 297.2h0M809.5 296.9h0M809.8 294.6h0M810.0 292.3h0M810.2 294.2h0M810.5 296.1h0M811.0 298.1h0M811.2 296.6h0M811.5 295.0h0M812.0 294.8h0M812.2 297.5h0M812.5 300.2h0M812.8 301.7h0M813.0 303.2h0M813.2 300.9h0M813.5 298.5h0M813.7 301.5h0M813.8 304.5h0M814.0 307.5h0M814.2 310.3h0M814.3 313.1h0M814.5 316.0h0M814.8 318.5h0M815.0 321.0h0M815.5 321.4h0M815.8 319.8h0M816.0 318.1h0M816.5 316.2h0M816.8 317.9h0M817.0 319.5h0M817.5 322.1h0M818.0 323.0h0M818.2 320.7h0M818.3 318.4h0M818.5 316.1h0M819.0 314.5h0M819.2 316.8h0M819.5 319.1h0M819.8 317.5h0M820.0 315.9h0M820.2 314.4h0M820.5 313.0h0M820.8 310.1h0M821.0 307.2h0M821.5 306.1h0M822.0 308.8h0M822.2 306.4h0M822.5 303.9h0M822.7 301.2h0M822.8 298.4h0M823.0 295.7h0M823.2 294.0h0M823.5 292.2h0M823.8 294.1h0M824.0 295.9h0M824.5 297.0h0M824.8 294.0h0M825.0 291.1h0M825.5 290.1h0M825.7 292.5h0M825.8 294.8h0M826.0 297.1h0M826.5 296.2h0M826.8 294.6h0M827.0 293.0h0M827.2 290.8h0M827.5 288.6h0M827.8 290.7h0M828.0 292.9h0M828.2 290.9h0M828.5 288.9h0M829.0 287.2h0M829.2 288.8h0M829.5 290.4h0M830.0 289.6h0M830.2 287.3h0M830.5 285.1h0M831.0 287.4h0M831.2 289.4h0M831.5 291.5h0M832.0 291.2h0M832.2 289.6h0M832.5 287.9h0M833.0 289.9h0M833.2 291.8h0M833.5 293.7h0M833.8 295.5h0M834.0 297.3h0M834.2 295.1h0M834.3 292.9h0M834.5 290.7h0M835.0 290.5h0M835.5 293.4h0M835.8 295.1h0M836.0 296.7h0M836.2 298.5h0M836.5 300.4h0M836.8 297.5h0M837.0 294.7h0M837.2 296.5h0M837.5 298.4h0M837.6 301.0h0M837.8 303.7h0M837.9 306.3h0M838.0 309.0h0M838.1 311.5h0M838.2 314.1h0M838.3 316.6h0M838.4 319.2h0M838.5 321.7h0M839.0 324.4h0M839.2 326.8h0M839.5 329.2h0M839.8 330.7h0M840.0 332.1h0M840.5 334.7h0M840.8 336.7h0M841.0 338.6h0M841.2 336.5h0M841.3 334.3h0M841.5 332.2h0M842.0 332.8h0M842.2 334.4h0M842.5 336.0h0M842.8 338.7h0M843.0 341.5h0M843.5 341.8h0M843.8 339.4h0M844.0 337.0h0M844.5 336.9h0M844.8 339.2h0M845.0 341.6h0M845.2 343.8h0M845.3 346.0h0M845.5 348.2h0M846.0 348.1h0M846.2 345.2h0M846.5 342.3h0M846.8 340.5h0M847.0 338.6h0M847.5 339.0h0M848.0 341.8h0M848.5 344.5h0M848.8 347.0h0M849.0 349.5h0M849.2 351.6h0M849.5 353.7h0M850.0 356.2h0M850.5 358.0h0M850.8 355.6h0M851.0 353.1h0M851.2 350.6h0M851.5 348.1h0M851.7 346.0h0M851.8 343.8h0M852.0 341.7h0M852.2 343.9h0M852.3 346.0h0M852.5 348.2h0M852.7 350.2h0M852.8 352.2h0M853.0 354.2h0M853.2 356.5h0M853.3 358.8h0M853.5 361.1h0M853.8 363.2h0M854.0 365.4h0M854.5 365.6h0M855.0 363.1h0M855.2 361.5h0M855.5 359.8h0M855.8 361.6h0M856.0 363.5h0M856.5 364.5h0M856.8 362.7h0M857.0 360.9h0M857.2 359.2h0M857.5 357.5h0M858.0 358.1h0M858.5 360.8h0M859.0 362.3h0M859.2 359.6h0M859.5 356.9h0M860.0 355.3h0M860.2 357.3h0M860.3 359.4h0M860.5 361.5h0M860.8 359.1h0M861.0 356.7h0M861.5 356.6h0M862.0 359.0h0M862.2 356.8h0M862.5 354.6h0M862.8 356.6h0M863.0 358.5h0M863.2 356.1h0M863.5 353.6h0M864.0 353.7h0M864.2 356.0h0M864.5 358.2h0M864.8 355.6h0M865.0 352.9h0M865.5 353.2h0M866.0 356.2h0M866.2 353.8h0M866.5 351.3h0M867.0 352.0h0M867.2 354.4h0M867.5 356.8h0M868.0 355.8h0M868.2 353.7h0M868.3 351.7h0M868.5 349.6h0M869.0 347.6h0M869.2 349.7h0M869.3 351.7h0M869.5 353.8h0M869.8 352.3h0M870.0 350.8h0M870.2 347.8h0M870.5 344.9h0M870.8 347.0h0M871.0 349.1h0M871.5 348.8h0M871.8 347.3h0M872.0 345.8h0M872.2 344.2h0M872.5 342.6h0M873.0 342.6h0M873.2 345.1h0M873.5 347.5h0M874.0 348.7h0M874.2 346.6h0M874.5 344.4h0M874.8 342.6h0M875.0 340.8h0M875.2 343.1h0M875.5 345.3h0M876.0 345.6h0M876.2 342.8h0M876.5 340.1h0M877.0 339.9h0M877.2 341.6h0M877.5 343.4h0M878.0 344.3h0M878.2 342.2h0M878.5 340.1h0M878.8 338.6h0M879.0 337.0h0M879.2 338.7h0M879.5 340.4h0M879.8 342.9h0M880.0 345.5h0M880.2 343.5h0M880.5 341.5h0M880.8 339.7h0M881.0 337.9h0M881.5 337.5h0M881.8 339.2h0M882.0 340.9h0M882.2 343.1h0M882.5 345.3h0M883.0 344.9h0M883.5 323.7h0M883.8 321.4h0M884.0 319.2h0M884.5 316.7h0M884.8 318.2h0M885.0 319.7h0M885.2 317.7h0M885.5 315.6h0M885.8 313.5h0M886.0 311.4h0M886.2 308.8h0M886.5 306.3h0M886.8 303.6h0M887.0 300.9h0M887.2 303.2h0M887.3 305.5h0M887.5 307.7h0M888.0 306.4h0M888.5 303.6h0M888.8 302.1h0M889.0 300.6h0M889.2 303.0h0M889.5 305.5h0M890.0 303.8h0M890.2 301.7h0M890.5 299.5h0M890.8 301.8h0M891.0 304.1h0M891.5 304.4h0M891.8 302.1h0M892.0 299.8h0M892.5 300.5h0M892.8 302.9h0M893.0 305.2h0M893.5 306.9h0M893.8 304.8h0M894.0 302.6h0M894.5 304.7h0M894.8 307.2h0M895.0 309.7h0M895.5 310.7h0M895.8 309.2h0M896.0 307.7h0M896.5 308.5h0M897.0 311.4h0M897.2 314.3h0M897.5 317.3h0M897.8 318.8h0M898.0 320.3h0M898.2 318.3h0M898.5 316.3h0M898.8 318.6h0M899.0 321.0h0M899.5 323.7h0M900.0 325.3h0M900.2 323.8h0M900.5 322.3h0M900.8 323.9h0M901.0 325.5h0M901.2 327.5h0M901.5 329.5h0M901.8 331.6h0M902.0 333.7h0M902.2 331.4h0M902.3 329.1h0M902.5 326.8h0M903.0 325.3h0M903.2 327.4h0M903.3 329.5h0M903.5 331.7h0M903.8 334.2h0M904.0 336.7h0M904.2 339.1h0M904.5 341.5h0M904.8 343.7h0M905.0 345.9h0M905.5 348.6h0M906.0 346.4h0M906.2 344.4h0M906.3 342.4h0M906.5 340.4h0M906.7 337.7h0M906.8 335.1h0M907.0 332.4h0M907.2 330.0h0M907.3 327.6h0M907.5 325.2h0M907.8 322.9h0M908.0 320.5h0M908.5 319.5h0M908.6 322.2h0M908.8 324.9h0M908.9 327.5h0M909.0 330.2h0M909.2 332.6h0M909.3 334.9h0M909.5 337.3h0M909.8 339.7h0M910.0 342.2h0M910.5 342.2h0M910.8 340.3h0M911.0 338.3h0M911.5 338.3h0M911.7 340.3h0M911.8 342.3h0M912.0 344.4h0M912.5 344.6h0M912.8 341.9h0M913.0 339.2h0M913.2 341.4h0M913.3 343.5h0M913.5 345.7h0M914.0 348.5h0M914.5 346.6h0M915.0 343.8h0M915.2 341.2h0M915.5 338.6h0M915.7 335.8h0M915.8 333.1h0M916.0 330.3h0M916.2 327.8h0M916.5 325.3h0M917.0 324.0h0M917.2 326.8h0M917.5 329.6h0M917.8 331.3h0M918.0 333.0h0M918.5 336.0h0M918.7 333.7h0M918.8 331.5h0M919.0 329.3h0M919.5 329.4h0M919.8 332.2h0M920.0 335.0h0M920.2 337.3h0M920.3 339.5h0M920.5 341.8h0M920.8 343.6h0M921.0 345.4h0M921.2 347.6h0M921.3 349.8h0M921.5 352.0h0M921.8 354.8h0M922.0 357.6h0M922.2 359.2h0M922.5 360.8h0M923.0 363.6h0M923.2 366.4h0M923.5 369.2h0M923.8 371.1h0M924.0 373.0h0M924.2 374.8h0M924.5 376.6h0M924.8 379.1h0M925.0 381.7h0M925.2 383.6h0M925.5 385.6h0M925.8 387.6h0M926.0 389.6h0M926.2 387.4h0M926.3 385.2h0M926.5 383.0h0M926.8 381.4h0M927.0 379.8h0M927.1 377.4h0M927.2 375.0h0M927.4 372.6h0M927.5 370.2h0M927.8 368.1h0M928.0 366.0h0M928.5 363.3h0M929.0 363.2h0M929.2 365.0h0M929.5 366.7h0M930.0 368.2h0M930.2 366.0h0M930.5 363.7h0M931.0 361.2h0M931.2 363.3h0M931.3 365.4h0M931.5 367.5h0M932.0 365.1h0M932.2 363.0h0M932.5 361.0h0M932.8 363.1h0M933.0 365.1h0M933.5 363.5h0M933.7 361.5h0M933.8 359.5h0M934.0 357.5h0M934.2 359.8h0M934.5 362.1h0M935.0 361.6h0M935.2 359.1h0M935.5 356.7h0M936.0 355.6h0M936.2 358.3h0M936.5 361.0h0M936.7 358.8h0M936.8 356.5h0M937.0 354.3h0M937.5 351.7h0M938.0 351.0h0M938.2 353.0h0M938.5 355.0h0M939.0 354.8h0M939.2 352.6h0M939.5 350.3h0M939.8 348.5h0M940.0 346.7h0M940.2 344.2h0M940.5 341.6h0M940.8 343.9h0M941.0 346.1h0M941.5 343.3h0M941.8 340.8h0M942.0 338.3h0M942.2 336.3h0M942.3 334.3h0M942.5 332.3h0M942.8 330.6h0M943.0 329.0h0M943.5 331.6h0M943.8 333.2h0M944.0 334.7h0M944.2 332.0h0M944.5 329.3h0M944.8 327.2h0M945.0 325.2h0M945.2 323.1h0M945.5 321.0h0M946.0 318.3h0M946.2 319.9h0M946.5 321.5h0M946.8 324.5h0M947.0 327.4h0M947.2 295.6h0M947.5 320.9h0M948.0 320.6h0M948.2 322.1h0M948.5 323.6h0M948.8 325.3h0M949.0 326.9h0M949.2 325.4h0M949.5 323.9h0M949.8 322.4h0M950.0 320.8h0M950.2 323.3h0M950.5 325.8h0M950.8 327.4h0M951.0 329.1h0M951.5 331.2h0M951.8 329.7h0M952.0 328.1h0M952.5 326.5h0M952.8 328.9h0M953.0 331.3h0M953.2 333.1h0M953.5 334.9h0M953.7 332.9h0M953.8 330.9h0M954.0 328.9h0M954.5 330.6h0M954.8 332.4h0M955.0 334.1h0M955.2 335.8h0M955.5 337.4h0M955.8 335.5h0M956.0 333.7h0M956.5 332.0h0M956.7 334.1h0M956.8 336.3h0M957.0 338.5h0M957.5 339.3h0M957.8 337.5h0M958.0 335.7h0M958.5 335.2h0M959.0 332.4h0M959.1 330.0h0M959.2 327.6h0M959.4 325.3h0M959.5 322.9h0M959.8 320.2h0M960.0 317.6h0M960.5 316.9h0M960.8 318.9h0M961.0 320.9h0M961.5 321.4h0M961.8 318.6h0M962.0 315.8h0M962.2 318.7h0M962.5 321.5h0M962.8 319.7h0M963.0 317.9h0M963.5 316.0h0M963.8 317.6h0M964.0 319.2h0M964.5 321.9h0M964.8 320.2h0M965.0 318.5h0M965.5 332.9h0M965.8 335.3h0M966.0 337.6h0M966.5 335.0h0M967.0 337.9h0M967.2 336.2h0M967.5 334.4h0M967.8 336.4h0M968.0 338.3h0M968.2 336.7h0M968.5 335.1h0M968.8 336.8h0M969.0 338.4h0M969.2 336.1h0M969.3 333.8h0M969.5 331.6h0M969.7 329.0h0M969.8 326.4h0M970.0 323.8h0M970.2 321.7h0M970.3 319.7h0M970.5 317.6h0M971.0 315.9h0M971.5 318.4h0M971.8 316.1h0M972.0 313.9h0M972.5 315.0h0M972.7 317.2h0M972.8 319.3h0M973.0 321.4h0M973.5 322.5h0M974.0 320.5h0M974.2 322.0h0M974.5 323.6h0M975.0 323.7h0M975.2 322.0h0M975.5 320.2h0M976.0 318.5h0M976.2 320.2h0M976.5 322.0h0M977.0 320.7h0M977.2 317.9h0M977.5 315.1h0M978.0 314.1h0M978.2 315.9h0M978.5 317.7h0M978.7 315.7h0M978.8 313.6h0M979.0 311.5h0M979.2 310.0h0M979.5 308.5h0M979.8 311.2h0M980.0 313.9h0M980.5 315.0h0M980.7 313.0h0M980.8 310.9h0M981.0 308.9h0M981.2 290.6h0M981.4 296.6h0M981.5 306.3h0M982.0 306.7h0M982.2 308.9h0M982.5 311.1h0M983.0 309.7h0M983.2 307.7h0M983.5 305.7h0M984.0 303.0h0M984.2 304.9h0M984.5 306.8h0M985.0 309.7h0M985.5 308.9h0M985.8 306.6h0M986.0 304.4h0M986.5 304.4h0M987.0 307.1h0M987.2 308.8h0M987.5 310.4h0M987.8 308.6h0M988.0 306.7h0M988.2 304.9h0M988.5 303.1h0M988.8 304.8h0M989.0 306.6h0M989.2 308.5h0M989.5 310.4h0M989.8 308.0h0M990.0 305.6h0M990.2 303.3h0M990.3 301.1h0M990.5 298.8h0M990.8 296.4h0M991.0 294.0h0M991.5 291.7h0M991.7 293.8h0M991.8 295.8h0M992.0 297.9h0M992.5 298.6h0M992.9 274.6h0M993.1 279.3h0M993.0 292.5h0M993.5 290.0h0M994.0 293.0h0M994.5 295.7h0M994.8 293.3h0M995.0 290.9h0M995.2 293.0h0M995.3 295.2h0M995.5 297.3h0M996.0 300.1h0M996.2 302.8h0M996.5 305.4h0M996.8 307.7h0M997.0 309.9h0M997.2 312.3h0M997.5 314.7h0M997.8 312.0h0M998.0 309.2h0M998.5 308.9h0M998.8 310.8h0M999.0 312.6h0M999.2 310.6h0M999.5 308.5h0M999.8 306.8h0M1000.0 305.1h0M1000.2 307.2h0M1000.3 309.2h0M1000.5 311.3h0M1001.0 309.5h0M1001.2 307.3h0M1001.5 305.0h0M1001.8 303.0h0M1002.0 301.1h0M1002.5 303.7h0M1002.8 305.7h0M1003.0 307.7h0M1003.2 305.3h0M1003.5 302.8h0M1003.7 300.7h0M1003.8 298.5h0M1004.0 296.3h0M1004.2 294.8h0M1004.5 293.2h0M1005.0 294.4h0M1005.2 297.2h0M1005.3 300.1h0M1005.5 302.9h0M1005.7 305.5h0M1005.8 308.0h0M1006.0 310.5h0M1006.2 312.5h0M1006.5 314.4h0M1006.8 315.9h0M1007.0 317.4h0M1007.2 315.2h0M1007.5 313.0h0M1007.8 315.1h0M1008.0 317.2h0M1008.2 318.8h0M1008.5 320.4h0M1008.8 318.3h0M1009.0 316.1h0M1009.2 317.7h0M1009.5 319.3h0M1010.0 319.9h0M1010.2 317.4h0M1010.5 314.8h0M1010.8 317.8h0M1011.0 320.7h0M1011.2 317.8h0M1011.5 314.9h0M1011.8 313.3h0M1012.0 311.6h0M1012.5 311.1h0M1012.8 313.1h0M1013.0 315.0h0M1013.2 317.1h0M1013.5 319.2h0M1014.0 320.4h0" fill="none" stroke="#4fad1d" stroke-width="7.2" stroke-linecap="round"/>
</g>
<g id="legend">
<rect x="900" y="439.4" width="13.6" height="2" fill="#c06e0e"/><rect x="904" y="437.6" width="5.6" height="5.6" fill="#c06e0e"/>
<text class="lg" x="917.7" y="443.5" textLength="54.8" lengthAdjust="spacingAndGlyphs">All-in-EV</text>
<rect x="984.3" y="439.4" width="14.5" height="2" fill="#4fad1d"/><circle cx="991.6" cy="440.4" r="3" fill="#4fad1d"/>
<text class="lg" x="1003.3" y="443.5" textLength="68.6" lengthAdjust="spacingAndGlyphs">Результат</text>
</g>
<g id="texts">
<text class="cap" x="549.8" y="451.2" text-anchor="middle" textLength="112" lengthAdjust="spacingAndGlyphs">23,025 з 23,025 рук</text>
<text class="note" x="1070.8" y="475.3" text-anchor="end" textLength="305" lengthAdjust="spacingAndGlyphs">All-in-EV = (Власний капітал * Сума банку) – сума внеску</text>
<text class="note" x="1070.8" y="489.1" text-anchor="end" textLength="378" lengthAdjust="spacingAndGlyphs">Мультипотові роздачі з ол-іном, у яких ол-іни відбуваються на різних</text>
<text class="note" x="1070.8" y="502.8" text-anchor="end" textLength="258.5" lengthAdjust="spacingAndGlyphs">стрітах, не враховуються в розрахунку All-In EV.</text>
</g>
</svg>
</body></html>
